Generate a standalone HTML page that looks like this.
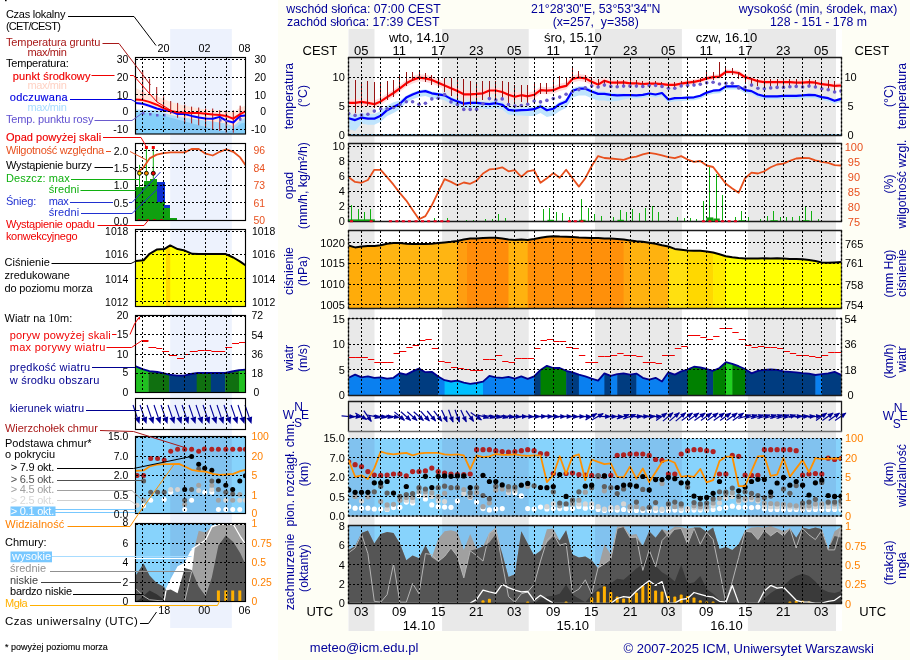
<!DOCTYPE html>
<html><head><meta charset="utf-8"><title>Meteogram</title>
<style>html,body{margin:0;padding:0;background:#fefef5;}svg{display:block;will-change:transform;}</style></head>
<body>
<svg width="910" height="660" viewBox="0 0 910 660" font-family='"Liberation Sans", sans-serif'>
<rect width="910" height="660" fill="#fefef5"/>
<rect x="348" y="29" width="494" height="602" fill="#ffffff"/>
<rect x="0" y="0" width="278" height="660" fill="#ffffff"/>
<rect x="348.5" y="29" width="26" height="602" fill="#e9e9e9"/>
<rect x="442.1" y="29" width="86.6" height="602" fill="#e9e9e9"/>
<rect x="595" y="29" width="86.9" height="602" fill="#e9e9e9"/>
<rect x="747.9" y="29" width="88.1" height="602" fill="#e9e9e9"/>
<rect x="170.2" y="29" width="61.6" height="599" fill="#edf2fd"/>
<rect x="348.5" y="57.5" width="493" height="78" fill="#ffffff"/>
<rect x="348.5" y="57.5" width="26" height="78" fill="#e9e9e9"/>
<rect x="442.1" y="57.5" width="86.6" height="78" fill="#e9e9e9"/>
<rect x="595" y="57.5" width="86.9" height="78" fill="#e9e9e9"/>
<rect x="747.9" y="57.5" width="88.1" height="78" fill="#e9e9e9"/>
<rect x="348.5" y="143.5" width="493" height="78" fill="#ffffff"/>
<rect x="348.5" y="143.5" width="26" height="78" fill="#e9e9e9"/>
<rect x="442.1" y="143.5" width="86.6" height="78" fill="#e9e9e9"/>
<rect x="595" y="143.5" width="86.9" height="78" fill="#e9e9e9"/>
<rect x="747.9" y="143.5" width="88.1" height="78" fill="#e9e9e9"/>
<rect x="348.5" y="230.5" width="493" height="78" fill="#ffffff"/>
<rect x="348.5" y="230.5" width="26" height="78" fill="#e9e9e9"/>
<rect x="442.1" y="230.5" width="86.6" height="78" fill="#e9e9e9"/>
<rect x="595" y="230.5" width="86.9" height="78" fill="#e9e9e9"/>
<rect x="747.9" y="230.5" width="88.1" height="78" fill="#e9e9e9"/>
<rect x="348.5" y="318.5" width="493" height="77" fill="#ffffff"/>
<rect x="348.5" y="318.5" width="26" height="77" fill="#e9e9e9"/>
<rect x="442.1" y="318.5" width="86.6" height="77" fill="#e9e9e9"/>
<rect x="595" y="318.5" width="86.9" height="77" fill="#e9e9e9"/>
<rect x="747.9" y="318.5" width="88.1" height="77" fill="#e9e9e9"/>
<rect x="348.5" y="401.5" width="493" height="30" fill="#ffffff"/>
<rect x="348.5" y="401.5" width="26" height="30" fill="#e9e9e9"/>
<rect x="442.1" y="401.5" width="86.6" height="30" fill="#e9e9e9"/>
<rect x="595" y="401.5" width="86.9" height="30" fill="#e9e9e9"/>
<rect x="747.9" y="401.5" width="88.1" height="30" fill="#e9e9e9"/>
<rect x="348.5" y="438.5" width="493" height="77.5" fill="#87d3fc"/>
<rect x="348.5" y="438.5" width="26" height="77.5" fill="#81c2ef"/>
<rect x="442.1" y="438.5" width="86.6" height="77.5" fill="#81c2ef"/>
<rect x="595" y="438.5" width="86.9" height="77.5" fill="#81c2ef"/>
<rect x="747.9" y="438.5" width="88.1" height="77.5" fill="#81c2ef"/>
<rect x="348.5" y="525.5" width="493" height="78" fill="#87d3fc"/>
<rect x="348.5" y="525.5" width="26" height="78" fill="#81c2ef"/>
<rect x="442.1" y="525.5" width="86.6" height="78" fill="#81c2ef"/>
<rect x="595" y="525.5" width="86.9" height="78" fill="#81c2ef"/>
<rect x="747.9" y="525.5" width="88.1" height="78" fill="#81c2ef"/>
<rect x="135.5" y="57.5" width="110" height="76.5" fill="#ffffff"/>
<rect x="170.2" y="57.5" width="61.6" height="76.5" fill="#edf2fd"/>
<rect x="135.5" y="143.5" width="110" height="77" fill="#ffffff"/>
<rect x="170.2" y="143.5" width="61.6" height="77" fill="#edf2fd"/>
<rect x="135.5" y="229.5" width="110" height="77" fill="#ffffff"/>
<rect x="170.2" y="229.5" width="61.6" height="77" fill="#edf2fd"/>
<rect x="135.5" y="315.5" width="110" height="77" fill="#ffffff"/>
<rect x="170.2" y="315.5" width="61.6" height="77" fill="#edf2fd"/>
<rect x="135.5" y="398.5" width="110" height="31" fill="#ffffff"/>
<rect x="170.2" y="398.5" width="61.6" height="31" fill="#edf2fd"/>
<rect x="135.5" y="436.5" width="110" height="77" fill="#87d3fc"/>
<rect x="170.2" y="436.5" width="61.6" height="77" fill="#81c2ef"/>
<rect x="135.5" y="523.5" width="110" height="78" fill="#87d3fc"/>
<rect x="170.2" y="523.5" width="61.6" height="78" fill="#81c2ef"/>
<clipPath id="cT"><rect x="348.5" y="57.5" width="493" height="78"/></clipPath>
<g clip-path="url(#cT)">
<polygon points="348.7,113.5 355.1,115.4 361.5,113 367.9,114.1 374.3,114.1 380.7,111.1 387.1,105.5 393.5,102.3 399.9,100.5 406.3,95.8 412.6,92.6 419,90.2 425.4,89.2 431.8,91.5 438.2,92.4 444.6,93.5 451,97.1 457.4,99.5 463.8,101.7 470.2,101 476.6,100.8 483,101.4 489.4,101.7 495.8,100.6 502.2,102.1 508.5,107.2 514.9,108.1 521.3,107.6 527.7,107.2 534.1,106.7 540.5,103.9 546.9,107.6 553.3,106.3 559.7,101.7 566.1,98.9 572.5,88.2 578.9,86.2 585.3,86.2 591.7,89 598.1,91.5 604.4,91.5 610.8,92.4 617.2,93.3 623.6,93.5 630,93.9 636.4,94.1 642.8,93.5 649.2,92.2 655.6,93.2 662,91.7 668.4,98.2 674.8,96.9 681.2,96.7 687.6,96.3 694,96 700.3,94.5 706.7,91.3 713.1,89.4 719.5,88.9 725.9,85.1 732.3,85.1 738.7,85.1 745.1,88.9 751.5,89.8 757.9,93.2 764.3,95 770.7,95 777.1,95 783.5,94.5 789.9,94.5 796.2,94.5 802.6,94.1 809,93.5 815.4,93.9 821.8,95.8 828.2,96.9 834.6,99.5 841,97.6 841,101.9 834.6,103.8 828.2,101.2 821.8,100.1 815.4,98.2 809,97.8 802.6,98.4 796.2,98.8 789.9,98.8 783.5,98.8 777.1,99.3 770.7,99.3 764.3,99.3 757.9,97.5 751.5,94.1 745.1,93.2 738.7,89.4 732.3,89.4 725.9,89.4 719.5,93.2 713.1,93.7 706.7,95.6 700.3,98.8 694,100.3 687.6,100.6 681.2,101 674.8,101.2 668.4,102.5 662,96 655.6,97.5 649.2,96.5 642.8,97.8 636.4,98.4 630,98.2 623.6,99.4 617.2,100.9 610.8,101.6 604.4,100.6 598.1,100.6 591.7,98.2 585.3,95.4 578.9,95.4 572.5,97.5 566.1,108.1 559.7,110.9 553.3,115.6 546.9,116.9 540.5,113.1 534.1,115.9 527.7,115.9 521.3,115.6 514.9,115.6 508.5,114.6 502.2,109.6 495.8,108.1 489.4,109 483,108.5 476.6,107.7 470.2,107.7 463.8,108.5 457.4,106.2 451,103.8 444.6,100.3 438.2,99.1 431.8,98.2 425.4,96 419,96.9 412.6,99.3 406.3,102.5 399.9,109.2 393.5,113 387.1,116.1 380.7,121.7 374.3,124.7 367.9,124.7 361.5,123.6 355.1,130.9 348.7,129" fill="#bfe4fd"/>
<polygon points="348.7,99.3 355.1,99.3 361.5,98.4 367.9,99.3 374.3,100.6 380.7,97.8 387.1,93.5 393.5,89.4 399.9,84.7 406.3,79.7 412.6,76.3 419,74.1 425.4,74.8 431.8,76.3 438.2,79.1 444.6,81.9 451,84.7 457.4,87.5 463.8,90.7 470.2,90.7 476.6,90.4 483,89.8 489.4,87 495.8,87 502.2,88.5 508.5,91.3 514.9,93.2 521.3,91.7 527.7,92.8 534.1,91.3 540.5,86.6 546.9,87.2 553.3,86.6 559.7,83.8 566.1,82.3 572.5,75.4 578.9,73.9 585.3,74.8 591.7,78.2 598.1,81 604.4,77.3 610.8,80.3 617.2,80.3 623.6,79.9 630,80.8 636.4,80.8 642.8,81.6 649.2,81.2 655.6,81.2 662,81.8 668.4,82.5 674.8,82.5 681.2,81.2 687.6,80.3 694,79.3 700.3,78 706.7,76 713.1,74.7 719.5,74.1 725.9,69.4 732.3,69.6 738.7,70.5 745.1,74.7 751.5,76.5 757.9,78.8 764.3,79.7 770.7,79.7 777.1,79.7 783.5,79.7 789.9,79.7 796.2,80.3 802.6,80.3 809,79.7 815.4,80.3 821.8,81.8 828.2,82.5 834.6,83.4 841,83.1 841,87.9 834.6,88.3 828.2,87.4 821.8,86.6 815.4,85.1 809,84.6 802.6,85.1 796.2,85.1 789.9,84.6 783.5,84.6 777.1,84.6 770.7,84.6 764.3,84.6 757.9,83.6 751.5,81.4 745.1,79.5 738.7,75.4 732.3,74.5 725.9,74.3 719.5,79 713.1,79.5 706.7,80.8 700.3,82.9 694,84.2 687.6,85.1 681.2,86.1 674.8,87.4 668.4,87.4 662,86.6 655.6,86.1 649.2,86.1 642.8,86.4 636.4,85.7 630,85.7 623.6,84.7 617.2,85.1 610.8,85.1 604.4,84.4 598.1,88.1 591.7,85.3 585.3,81.9 578.9,81 572.5,82.5 566.1,89.4 559.7,90.9 553.3,93.7 546.9,94.3 540.5,93.7 534.1,98.4 527.7,99.9 521.3,98.8 514.9,100.3 508.5,98.4 502.2,95.6 495.8,94.1 489.4,94.1 483,96.9 476.6,97.5 470.2,97.8 463.8,97.8 457.4,94.6 451,91.8 444.6,89 438.2,86.2 431.8,83.4 425.4,81.9 419,81.2 412.6,83.4 406.3,86.8 399.9,91.8 393.5,96.5 387.1,100.6 380.7,104.9 374.3,107.7 367.9,106.4 361.5,105.5 355.1,106.4 348.7,106.4" fill="#ffdcdc"/>
<polyline points="348.7,102.9 355.1,102.9 361.5,101.9 367.9,102.9 374.3,104.2 380.7,101.4 387.1,97.1 393.5,93 399.9,88.3 406.3,83.3 412.6,79.9 419,77.6 425.4,78.4 431.8,79.9 438.2,82.7 444.6,85.5 451,88.3 457.4,91.1 463.8,94.3 470.2,94.3 476.6,93.9 483,93.3 489.4,90.5 495.8,90.5 502.2,92 508.5,94.8 514.9,96.7 521.3,95.2 527.7,96.3 534.1,94.8 540.5,90.2 546.9,90.7 553.3,90.2 559.7,87.4 566.1,85.9 572.5,79 578.9,77.5 585.3,78.4 591.7,81.8 598.1,84.6 604.4,80.8 610.8,82.7 617.2,82.7 623.6,82.3 630,83.3 636.4,83.3 642.8,84 649.2,83.6 655.6,83.6 662,84.2 668.4,84.9 674.8,84.9 681.2,83.6 687.6,82.7 694,81.8 700.3,80.5 706.7,78.4 713.1,77.1 719.5,76.5 725.9,71.9 732.3,72 738.7,73 745.1,77.1 751.5,79 757.9,81.2 764.3,82.1 770.7,82.1 777.1,82.1 783.5,82.1 789.9,82.1 796.2,82.7 802.6,82.7 809,82.1 815.4,82.7 821.8,84.2 828.2,84.9 834.6,85.9 841,85.5" fill="none" stroke="#ff0000" stroke-width="2.2" stroke-linejoin="round"/>
<polyline points="348.7,118.2 355.1,120.1 361.5,117.6 367.9,118.7 374.3,118.7 380.7,115.8 387.1,110.2 393.5,107 399.9,103.8 406.3,97.6 412.6,94.5 419,92 425.4,91.1 431.8,93.3 438.2,94.3 444.6,95.4 451,98.9 457.4,101.4 463.8,103.6 470.2,102.9 476.6,102.9 483,103.6 489.4,104.2 495.8,103.2 502.2,104.7 508.5,109.8 514.9,110.7 521.3,110.2 527.7,109.8 534.1,109.2 540.5,106.4 546.9,110.2 553.3,108.8 559.7,104.2 566.1,101.4 572.5,90.7 578.9,88.7 585.3,88.7 591.7,91.5 598.1,93.9 604.4,93.9 610.8,94.8 617.2,95.4 623.6,95.2 630,95.2 636.4,95.4 642.8,94.8 649.2,93.5 655.6,94.5 662,93 668.4,99.5 674.8,98.2 681.2,98 687.6,97.6 694,97.3 700.3,95.8 706.7,92.6 713.1,90.7 719.5,90.2 725.9,86.4 732.3,86.4 738.7,86.4 745.1,90.2 751.5,91.1 757.9,94.5 764.3,96.3 770.7,96.3 777.1,96.3 783.5,95.8 789.9,95.8 796.2,95.8 802.6,95.4 809,94.8 815.4,95.2 821.8,97.1 828.2,98.2 834.6,100.8 841,98.9" fill="none" stroke="#0000ff" stroke-width="2.2" stroke-linejoin="round"/>
<line x1="348.5" y1="79.9" x2="348.5" y2="111.6" stroke="#981212" stroke-width="1" shape-rendering="crispEdges"/>
<line x1="355.5" y1="80.3" x2="355.5" y2="112.6" stroke="#981212" stroke-width="1" shape-rendering="crispEdges"/>
<line x1="361.5" y1="82.1" x2="361.5" y2="106" stroke="#981212" stroke-width="1" shape-rendering="crispEdges"/>
<line x1="367.5" y1="81.4" x2="367.5" y2="106" stroke="#981212" stroke-width="1" shape-rendering="crispEdges"/>
<line x1="374.5" y1="82.1" x2="374.5" y2="107.9" stroke="#981212" stroke-width="1" shape-rendering="crispEdges"/>
<line x1="380.5" y1="81.8" x2="380.5" y2="104.2" stroke="#981212" stroke-width="1" shape-rendering="crispEdges"/>
<line x1="387.5" y1="81.4" x2="387.5" y2="100.4" stroke="#981212" stroke-width="1" shape-rendering="crispEdges"/>
<line x1="393.5" y1="80.3" x2="393.5" y2="96.7" stroke="#981212" stroke-width="1" shape-rendering="crispEdges"/>
<line x1="399.5" y1="76.2" x2="399.5" y2="92" stroke="#981212" stroke-width="1" shape-rendering="crispEdges"/>
<line x1="406.5" y1="71.5" x2="406.5" y2="86.4" stroke="#981212" stroke-width="1" shape-rendering="crispEdges"/>
<line x1="412.5" y1="71.5" x2="412.5" y2="80.8" stroke="#981212" stroke-width="1" shape-rendering="crispEdges"/>
<line x1="419.5" y1="69.6" x2="419.5" y2="77.6" stroke="#981212" stroke-width="1" shape-rendering="crispEdges"/>
<line x1="425.5" y1="73.4" x2="425.5" y2="82.1" stroke="#981212" stroke-width="1" shape-rendering="crispEdges"/>
<line x1="431.5" y1="75.2" x2="431.5" y2="84.6" stroke="#981212" stroke-width="1" shape-rendering="crispEdges"/>
<line x1="438.5" y1="76.5" x2="438.5" y2="88.3" stroke="#981212" stroke-width="1" shape-rendering="crispEdges"/>
<line x1="444.5" y1="77.6" x2="444.5" y2="92" stroke="#981212" stroke-width="1" shape-rendering="crispEdges"/>
<line x1="451.5" y1="78" x2="451.5" y2="95.8" stroke="#981212" stroke-width="1" shape-rendering="crispEdges"/>
<line x1="457.5" y1="78.4" x2="457.5" y2="100.4" stroke="#981212" stroke-width="1" shape-rendering="crispEdges"/>
<line x1="463.5" y1="79" x2="463.5" y2="106" stroke="#981212" stroke-width="1" shape-rendering="crispEdges"/>
<line x1="470.5" y1="81.4" x2="470.5" y2="105.1" stroke="#981212" stroke-width="1" shape-rendering="crispEdges"/>
<line x1="476.5" y1="81.8" x2="476.5" y2="104.2" stroke="#981212" stroke-width="1" shape-rendering="crispEdges"/>
<line x1="482.5" y1="81.4" x2="482.5" y2="100.4" stroke="#981212" stroke-width="1" shape-rendering="crispEdges"/>
<line x1="489.5" y1="81.4" x2="489.5" y2="99.5" stroke="#981212" stroke-width="1" shape-rendering="crispEdges"/>
<line x1="495.5" y1="81.4" x2="495.5" y2="100.1" stroke="#981212" stroke-width="1" shape-rendering="crispEdges"/>
<line x1="502.5" y1="81.4" x2="502.5" y2="100.4" stroke="#981212" stroke-width="1" shape-rendering="crispEdges"/>
<line x1="508.5" y1="82.1" x2="508.5" y2="106" stroke="#981212" stroke-width="1" shape-rendering="crispEdges"/>
<line x1="514.5" y1="84.6" x2="514.5" y2="103.2" stroke="#981212" stroke-width="1" shape-rendering="crispEdges"/>
<line x1="521.5" y1="84.6" x2="521.5" y2="102.3" stroke="#981212" stroke-width="1" shape-rendering="crispEdges"/>
<line x1="527.5" y1="84.6" x2="527.5" y2="104.2" stroke="#981212" stroke-width="1" shape-rendering="crispEdges"/>
<line x1="534.5" y1="83.6" x2="534.5" y2="98.6" stroke="#981212" stroke-width="1" shape-rendering="crispEdges"/>
<line x1="540.5" y1="82.7" x2="540.5" y2="93.9" stroke="#981212" stroke-width="1" shape-rendering="crispEdges"/>
<line x1="546.5" y1="82.7" x2="546.5" y2="93.9" stroke="#981212" stroke-width="1" shape-rendering="crispEdges"/>
<line x1="553.5" y1="79.9" x2="553.5" y2="91.1" stroke="#981212" stroke-width="1" shape-rendering="crispEdges"/>
<line x1="559.5" y1="76.2" x2="559.5" y2="87.4" stroke="#981212" stroke-width="1" shape-rendering="crispEdges"/>
<line x1="566.5" y1="78" x2="566.5" y2="86.4" stroke="#981212" stroke-width="1" shape-rendering="crispEdges"/>
<line x1="572.5" y1="67.7" x2="572.5" y2="79.9" stroke="#981212" stroke-width="1" shape-rendering="crispEdges"/>
<line x1="578.5" y1="70.5" x2="578.5" y2="78" stroke="#981212" stroke-width="1" shape-rendering="crispEdges"/>
<line x1="585.5" y1="75.2" x2="585.5" y2="82.1" stroke="#981212" stroke-width="1" shape-rendering="crispEdges"/>
<line x1="591.5" y1="77.1" x2="591.5" y2="84.6" stroke="#981212" stroke-width="1" shape-rendering="crispEdges"/>
<line x1="598.5" y1="79" x2="598.5" y2="87.4" stroke="#981212" stroke-width="1" shape-rendering="crispEdges"/>
<line x1="604.5" y1="79.9" x2="604.5" y2="86.4" stroke="#981212" stroke-width="1" shape-rendering="crispEdges"/>
<line x1="610.5" y1="79.9" x2="610.5" y2="87.4" stroke="#981212" stroke-width="1" shape-rendering="crispEdges"/>
<line x1="617.5" y1="80.3" x2="617.5" y2="88.3" stroke="#981212" stroke-width="1" shape-rendering="crispEdges"/>
<line x1="623.5" y1="79.9" x2="623.5" y2="87.4" stroke="#981212" stroke-width="1" shape-rendering="crispEdges"/>
<line x1="630.5" y1="79.9" x2="630.5" y2="87.4" stroke="#981212" stroke-width="1" shape-rendering="crispEdges"/>
<line x1="636.5" y1="79.9" x2="636.5" y2="87.4" stroke="#981212" stroke-width="1" shape-rendering="crispEdges"/>
<line x1="642.5" y1="80.8" x2="642.5" y2="88.3" stroke="#981212" stroke-width="1" shape-rendering="crispEdges"/>
<line x1="649.5" y1="80.8" x2="649.5" y2="87.7" stroke="#981212" stroke-width="1" shape-rendering="crispEdges"/>
<line x1="655.5" y1="80.8" x2="655.5" y2="87.4" stroke="#981212" stroke-width="1" shape-rendering="crispEdges"/>
<line x1="661.5" y1="81.8" x2="661.5" y2="88.3" stroke="#981212" stroke-width="1" shape-rendering="crispEdges"/>
<line x1="668.5" y1="81.8" x2="668.5" y2="88.3" stroke="#981212" stroke-width="1" shape-rendering="crispEdges"/>
<line x1="674.5" y1="81.8" x2="674.5" y2="88.3" stroke="#981212" stroke-width="1" shape-rendering="crispEdges"/>
<line x1="681.5" y1="80.8" x2="681.5" y2="86.4" stroke="#981212" stroke-width="1" shape-rendering="crispEdges"/>
<line x1="687.5" y1="80.3" x2="687.5" y2="85.5" stroke="#981212" stroke-width="1" shape-rendering="crispEdges"/>
<line x1="693.5" y1="79.9" x2="693.5" y2="84.6" stroke="#981212" stroke-width="1" shape-rendering="crispEdges"/>
<line x1="700.5" y1="78" x2="700.5" y2="81.8" stroke="#981212" stroke-width="1" shape-rendering="crispEdges"/>
<line x1="706.5" y1="72.4" x2="706.5" y2="79" stroke="#981212" stroke-width="1" shape-rendering="crispEdges"/>
<line x1="713.5" y1="72.4" x2="713.5" y2="79.9" stroke="#981212" stroke-width="1" shape-rendering="crispEdges"/>
<line x1="719.5" y1="62.1" x2="719.5" y2="78" stroke="#981212" stroke-width="1" shape-rendering="crispEdges"/>
<line x1="725.5" y1="66.8" x2="725.5" y2="74.3" stroke="#981212" stroke-width="1" shape-rendering="crispEdges"/>
<line x1="732.5" y1="67.7" x2="732.5" y2="75.2" stroke="#981212" stroke-width="1" shape-rendering="crispEdges"/>
<line x1="738.5" y1="71.5" x2="738.5" y2="79" stroke="#981212" stroke-width="1" shape-rendering="crispEdges"/>
<line x1="745.5" y1="75.2" x2="745.5" y2="81.8" stroke="#981212" stroke-width="1" shape-rendering="crispEdges"/>
<line x1="751.5" y1="78" x2="751.5" y2="84.6" stroke="#981212" stroke-width="1" shape-rendering="crispEdges"/>
<line x1="757.5" y1="79" x2="757.5" y2="85.5" stroke="#981212" stroke-width="1" shape-rendering="crispEdges"/>
<line x1="764.5" y1="79" x2="764.5" y2="85.9" stroke="#981212" stroke-width="1" shape-rendering="crispEdges"/>
<line x1="770.5" y1="79" x2="770.5" y2="86.4" stroke="#981212" stroke-width="1" shape-rendering="crispEdges"/>
<line x1="777.5" y1="79" x2="777.5" y2="86.4" stroke="#981212" stroke-width="1" shape-rendering="crispEdges"/>
<line x1="783.5" y1="79" x2="783.5" y2="86.4" stroke="#981212" stroke-width="1" shape-rendering="crispEdges"/>
<line x1="789.5" y1="79" x2="789.5" y2="86.4" stroke="#981212" stroke-width="1" shape-rendering="crispEdges"/>
<line x1="796.5" y1="79" x2="796.5" y2="86.4" stroke="#981212" stroke-width="1" shape-rendering="crispEdges"/>
<line x1="802.5" y1="79" x2="802.5" y2="86.4" stroke="#981212" stroke-width="1" shape-rendering="crispEdges"/>
<line x1="809.5" y1="79" x2="809.5" y2="86.4" stroke="#981212" stroke-width="1" shape-rendering="crispEdges"/>
<line x1="815.5" y1="79.9" x2="815.5" y2="86.4" stroke="#981212" stroke-width="1" shape-rendering="crispEdges"/>
<line x1="821.5" y1="79.9" x2="821.5" y2="89.2" stroke="#981212" stroke-width="1" shape-rendering="crispEdges"/>
<line x1="828.5" y1="79.9" x2="828.5" y2="91.1" stroke="#981212" stroke-width="1" shape-rendering="crispEdges"/>
<line x1="834.5" y1="80.8" x2="834.5" y2="92" stroke="#981212" stroke-width="1" shape-rendering="crispEdges"/>
<circle cx="348.7" cy="113.5" r="1.8" fill="#6a5acd"/>
<circle cx="355.1" cy="115.4" r="1.8" fill="#6a5acd"/>
<circle cx="361.5" cy="115" r="1.8" fill="#6a5acd"/>
<circle cx="367.9" cy="114.3" r="1.8" fill="#6a5acd"/>
<circle cx="374.3" cy="111.1" r="1.8" fill="#6a5acd"/>
<circle cx="380.7" cy="108.8" r="1.8" fill="#6a5acd"/>
<circle cx="387.1" cy="108.8" r="1.8" fill="#6a5acd"/>
<circle cx="393.5" cy="107.4" r="1.8" fill="#6a5acd"/>
<circle cx="399.9" cy="104.5" r="1.8" fill="#6a5acd"/>
<circle cx="406.3" cy="101.7" r="1.8" fill="#6a5acd"/>
<circle cx="412.6" cy="101.7" r="1.8" fill="#6a5acd"/>
<circle cx="419" cy="104.2" r="1.8" fill="#6a5acd"/>
<circle cx="425.4" cy="103.2" r="1.8" fill="#6a5acd"/>
<circle cx="431.8" cy="98.9" r="1.8" fill="#6a5acd"/>
<circle cx="438.2" cy="98.2" r="1.8" fill="#6a5acd"/>
<circle cx="444.6" cy="94.5" r="1.8" fill="#6a5acd"/>
<circle cx="451" cy="101.9" r="1.8" fill="#6a5acd"/>
<circle cx="457.4" cy="104.5" r="1.8" fill="#6a5acd"/>
<circle cx="463.8" cy="109.4" r="1.8" fill="#6a5acd"/>
<circle cx="470.2" cy="109.4" r="1.8" fill="#6a5acd"/>
<circle cx="476.6" cy="109.4" r="1.8" fill="#6a5acd"/>
<circle cx="483" cy="103.8" r="1.8" fill="#6a5acd"/>
<circle cx="489.4" cy="98.6" r="1.8" fill="#6a5acd"/>
<circle cx="495.8" cy="100.1" r="1.8" fill="#6a5acd"/>
<circle cx="502.2" cy="98.9" r="1.8" fill="#6a5acd"/>
<circle cx="508.5" cy="104.5" r="1.8" fill="#6a5acd"/>
<circle cx="514.9" cy="106" r="1.8" fill="#6a5acd"/>
<circle cx="521.3" cy="105.5" r="1.8" fill="#6a5acd"/>
<circle cx="527.7" cy="104.2" r="1.8" fill="#6a5acd"/>
<circle cx="534.1" cy="101" r="1.8" fill="#6a5acd"/>
<circle cx="540.5" cy="101.9" r="1.8" fill="#6a5acd"/>
<circle cx="546.9" cy="100.4" r="1.8" fill="#6a5acd"/>
<circle cx="553.3" cy="98.6" r="1.8" fill="#6a5acd"/>
<circle cx="559.7" cy="97.1" r="1.8" fill="#6a5acd"/>
<circle cx="566.1" cy="94.3" r="1.8" fill="#6a5acd"/>
<circle cx="572.5" cy="91.5" r="1.8" fill="#6a5acd"/>
<circle cx="578.9" cy="89.6" r="1.8" fill="#6a5acd"/>
<circle cx="585.3" cy="87.9" r="1.8" fill="#6a5acd"/>
<circle cx="591.7" cy="86.1" r="1.8" fill="#6a5acd"/>
<circle cx="598.1" cy="87" r="1.8" fill="#6a5acd"/>
<circle cx="604.4" cy="85.1" r="1.8" fill="#6a5acd"/>
<circle cx="610.8" cy="86.4" r="1.8" fill="#6a5acd"/>
<circle cx="617.2" cy="86.8" r="1.8" fill="#6a5acd"/>
<circle cx="623.6" cy="86.1" r="1.8" fill="#6a5acd"/>
<circle cx="630" cy="86.1" r="1.8" fill="#6a5acd"/>
<circle cx="636.4" cy="86.1" r="1.8" fill="#6a5acd"/>
<circle cx="642.8" cy="86.4" r="1.8" fill="#6a5acd"/>
<circle cx="649.2" cy="85.5" r="1.8" fill="#6a5acd"/>
<circle cx="655.6" cy="85.5" r="1.8" fill="#6a5acd"/>
<circle cx="662" cy="86.4" r="1.8" fill="#6a5acd"/>
<circle cx="668.4" cy="88.3" r="1.8" fill="#6a5acd"/>
<circle cx="674.8" cy="88.3" r="1.8" fill="#6a5acd"/>
<circle cx="681.2" cy="85.9" r="1.8" fill="#6a5acd"/>
<circle cx="687.6" cy="85.5" r="1.8" fill="#6a5acd"/>
<circle cx="694" cy="85.1" r="1.8" fill="#6a5acd"/>
<circle cx="700.3" cy="84.2" r="1.8" fill="#6a5acd"/>
<circle cx="706.7" cy="82.7" r="1.8" fill="#6a5acd"/>
<circle cx="713.1" cy="82.3" r="1.8" fill="#6a5acd"/>
<circle cx="719.5" cy="84" r="1.8" fill="#6a5acd"/>
<circle cx="725.9" cy="83.3" r="1.8" fill="#6a5acd"/>
<circle cx="732.3" cy="83.3" r="1.8" fill="#6a5acd"/>
<circle cx="738.7" cy="87.9" r="1.8" fill="#6a5acd"/>
<circle cx="745.1" cy="87.4" r="1.8" fill="#6a5acd"/>
<circle cx="751.5" cy="85.1" r="1.8" fill="#6a5acd"/>
<circle cx="757.9" cy="88.3" r="1.8" fill="#6a5acd"/>
<circle cx="764.3" cy="88.7" r="1.8" fill="#6a5acd"/>
<circle cx="770.7" cy="87.9" r="1.8" fill="#6a5acd"/>
<circle cx="777.1" cy="87.4" r="1.8" fill="#6a5acd"/>
<circle cx="783.5" cy="87.4" r="1.8" fill="#6a5acd"/>
<circle cx="789.9" cy="86.8" r="1.8" fill="#6a5acd"/>
<circle cx="796.2" cy="86.4" r="1.8" fill="#6a5acd"/>
<circle cx="802.6" cy="87" r="1.8" fill="#6a5acd"/>
<circle cx="809" cy="86.1" r="1.8" fill="#6a5acd"/>
<circle cx="815.4" cy="87" r="1.8" fill="#6a5acd"/>
<circle cx="821.8" cy="88.7" r="1.8" fill="#6a5acd"/>
<circle cx="828.2" cy="89.8" r="1.8" fill="#6a5acd"/>
<circle cx="834.6" cy="92" r="1.8" fill="#6a5acd"/>
<circle cx="841" cy="91.1" r="1.8" fill="#6a5acd"/>
</g>
<clipPath id="cP"><rect x="348.5" y="143.5" width="493" height="78"/></clipPath>
<g clip-path="url(#cP)">
<line x1="351.5" y1="205.3" x2="351.5" y2="221" stroke="#10b010" stroke-width="1" shape-rendering="crispEdges"/>
<line x1="358.5" y1="209.4" x2="358.5" y2="221" stroke="#10b010" stroke-width="1" shape-rendering="crispEdges"/>
<line x1="364.5" y1="212.4" x2="364.5" y2="221" stroke="#10b010" stroke-width="1" shape-rendering="crispEdges"/>
<line x1="370.5" y1="208.6" x2="370.5" y2="221" stroke="#10b010" stroke-width="1" shape-rendering="crispEdges"/>
<line x1="434.5" y1="218.3" x2="434.5" y2="221" stroke="#10b010" stroke-width="1" shape-rendering="crispEdges"/>
<line x1="447.5" y1="218" x2="447.5" y2="221" stroke="#10b010" stroke-width="1" shape-rendering="crispEdges"/>
<line x1="466.5" y1="219.8" x2="466.5" y2="221" stroke="#10b010" stroke-width="1" shape-rendering="crispEdges"/>
<line x1="473.5" y1="219.8" x2="473.5" y2="221" stroke="#10b010" stroke-width="1" shape-rendering="crispEdges"/>
<line x1="485.5" y1="219.3" x2="485.5" y2="221" stroke="#10b010" stroke-width="1" shape-rendering="crispEdges"/>
<line x1="492.5" y1="219.3" x2="492.5" y2="221" stroke="#10b010" stroke-width="1" shape-rendering="crispEdges"/>
<line x1="498.5" y1="214.2" x2="498.5" y2="221" stroke="#10b010" stroke-width="1" shape-rendering="crispEdges"/>
<line x1="505.5" y1="218.3" x2="505.5" y2="221" stroke="#10b010" stroke-width="1" shape-rendering="crispEdges"/>
<line x1="543.5" y1="209.4" x2="543.5" y2="221" stroke="#10b010" stroke-width="1" shape-rendering="crispEdges"/>
<line x1="549.5" y1="208.1" x2="549.5" y2="221" stroke="#10b010" stroke-width="1" shape-rendering="crispEdges"/>
<line x1="556.5" y1="212.2" x2="556.5" y2="221" stroke="#10b010" stroke-width="1" shape-rendering="crispEdges"/>
<line x1="562.5" y1="213.3" x2="562.5" y2="221" stroke="#10b010" stroke-width="1" shape-rendering="crispEdges"/>
<line x1="569.5" y1="216.5" x2="569.5" y2="221" stroke="#10b010" stroke-width="1" shape-rendering="crispEdges"/>
<line x1="581.5" y1="199.3" x2="581.5" y2="221" stroke="#10b010" stroke-width="1" shape-rendering="crispEdges"/>
<line x1="588.5" y1="208.4" x2="588.5" y2="221" stroke="#10b010" stroke-width="1" shape-rendering="crispEdges"/>
<line x1="594.5" y1="214.2" x2="594.5" y2="221" stroke="#10b010" stroke-width="1" shape-rendering="crispEdges"/>
<line x1="601.5" y1="216.1" x2="601.5" y2="221" stroke="#10b010" stroke-width="1" shape-rendering="crispEdges"/>
<line x1="613.5" y1="217.4" x2="613.5" y2="221" stroke="#10b010" stroke-width="1" shape-rendering="crispEdges"/>
<line x1="620.5" y1="210.3" x2="620.5" y2="221" stroke="#10b010" stroke-width="1" shape-rendering="crispEdges"/>
<line x1="626.5" y1="212.2" x2="626.5" y2="221" stroke="#10b010" stroke-width="1" shape-rendering="crispEdges"/>
<line x1="632.5" y1="209.4" x2="632.5" y2="221" stroke="#10b010" stroke-width="1" shape-rendering="crispEdges"/>
<line x1="639.5" y1="213.3" x2="639.5" y2="221" stroke="#10b010" stroke-width="1" shape-rendering="crispEdges"/>
<line x1="645.5" y1="208.4" x2="645.5" y2="221" stroke="#10b010" stroke-width="1" shape-rendering="crispEdges"/>
<line x1="652.5" y1="205.6" x2="652.5" y2="221" stroke="#10b010" stroke-width="1" shape-rendering="crispEdges"/>
<line x1="658.5" y1="212.4" x2="658.5" y2="221" stroke="#10b010" stroke-width="1" shape-rendering="crispEdges"/>
<line x1="677.5" y1="216.5" x2="677.5" y2="221" stroke="#10b010" stroke-width="1" shape-rendering="crispEdges"/>
<line x1="677.5" y1="216.5" x2="677.5" y2="221" stroke="#10b010" stroke-width="1" shape-rendering="crispEdges"/>
<line x1="684.5" y1="218.3" x2="684.5" y2="221" stroke="#10b010" stroke-width="1" shape-rendering="crispEdges"/>
<line x1="690.5" y1="218.3" x2="690.5" y2="221" stroke="#10b010" stroke-width="1" shape-rendering="crispEdges"/>
<line x1="696.5" y1="219.3" x2="696.5" y2="221" stroke="#10b010" stroke-width="1" shape-rendering="crispEdges"/>
<line x1="703.5" y1="200.6" x2="703.5" y2="221" stroke="#10b010" stroke-width="1" shape-rendering="crispEdges"/>
<line x1="709.5" y1="167" x2="709.5" y2="221" stroke="#10b010" stroke-width="1" shape-rendering="crispEdges"/>
<line x1="716.5" y1="173.5" x2="716.5" y2="221" stroke="#10b010" stroke-width="1" shape-rendering="crispEdges"/>
<line x1="722.5" y1="195.4" x2="722.5" y2="221" stroke="#10b010" stroke-width="1" shape-rendering="crispEdges"/>
<line x1="735.5" y1="217.4" x2="735.5" y2="221" stroke="#10b010" stroke-width="1" shape-rendering="crispEdges"/>
<line x1="741.5" y1="210.9" x2="741.5" y2="221" stroke="#10b010" stroke-width="1" shape-rendering="crispEdges"/>
<line x1="748.5" y1="217.4" x2="748.5" y2="221" stroke="#10b010" stroke-width="1" shape-rendering="crispEdges"/>
<line x1="760.5" y1="219.3" x2="760.5" y2="221" stroke="#10b010" stroke-width="1" shape-rendering="crispEdges"/>
<line x1="767.5" y1="215.5" x2="767.5" y2="221" stroke="#10b010" stroke-width="1" shape-rendering="crispEdges"/>
<line x1="773.5" y1="211.4" x2="773.5" y2="221" stroke="#10b010" stroke-width="1" shape-rendering="crispEdges"/>
<line x1="780.5" y1="217.4" x2="780.5" y2="221" stroke="#10b010" stroke-width="1" shape-rendering="crispEdges"/>
<line x1="786.5" y1="217.4" x2="786.5" y2="221" stroke="#10b010" stroke-width="1" shape-rendering="crispEdges"/>
<line x1="792.5" y1="217.4" x2="792.5" y2="221" stroke="#10b010" stroke-width="1" shape-rendering="crispEdges"/>
<line x1="799.5" y1="215.5" x2="799.5" y2="221" stroke="#10b010" stroke-width="1" shape-rendering="crispEdges"/>
<line x1="805.5" y1="207.1" x2="805.5" y2="221" stroke="#10b010" stroke-width="1" shape-rendering="crispEdges"/>
<line x1="811.5" y1="211.4" x2="811.5" y2="221" stroke="#10b010" stroke-width="1" shape-rendering="crispEdges"/>
<line x1="818.5" y1="219.3" x2="818.5" y2="221" stroke="#10b010" stroke-width="1" shape-rendering="crispEdges"/>
<polyline points="348.7,177.2 355.1,181.9 361.5,182.8 367.9,180 374.3,169.8 380.7,169.8 387.1,177.2 393.5,184.7 399.9,193.1 406.3,200.6 412.6,209.9 419,219.3 425.4,216.1 431.8,205.3 438.2,192.2 444.6,179.1 451,181.9 457.4,185.3 463.8,182.5 470.2,183.8 476.6,180.6 483,173.5 489.4,169.4 495.8,168.8 502.2,167.3 508.5,171.3 514.9,170.1 521.3,176.9 527.7,171.3 534.1,170.1 540.5,182.8 546.9,178.2 553.3,173.1 559.7,177.8 566.1,169.8 572.5,178.2 578.9,186.6 585.3,178.2 591.7,166 598.1,156.1 604.4,158 610.8,158.5 617.2,159.1 623.6,159.9 630,157.6 636.4,156.7 642.8,154.3 649.2,152.9 655.6,153.9 662,155.4 668.4,157.2 674.8,158.2 681.2,156.1 687.6,159.5 694,161.9 700.3,161 706.7,165.5 713.1,167 719.5,175.4 725.9,183.8 732.3,188.4 738.7,192.7 745.1,178.2 751.5,172.6 757.9,173.5 764.3,171.3 770.7,167.3 777.1,164.5 783.5,163.6 789.9,160.8 796.2,158.5 802.6,158 809,158.2 815.4,160.4 821.8,161.9 828.2,162.8 834.6,165.1 841,165.5" fill="none" stroke="#e8501e" stroke-width="1.8" stroke-linejoin="round"/>
</g>
<clipPath id="cR"><rect x="348.5" y="230.5" width="493" height="78"/></clipPath>
<g clip-path="url(#cR)">
<clipPath id="cRa"><polygon points="348.5,245.5 355.1,247.4 361.5,246.5 367.9,246.1 374.3,245.9 380.7,245.2 387.1,243.7 393.5,243.1 399.9,243.1 406.3,243.7 412.6,244.1 419,244.1 425.4,244.1 431.8,243.7 438.2,243.1 444.6,242.4 451,241.8 457.4,240.9 463.8,239.6 470.2,238.6 476.6,238.6 483,238.1 489.4,237.7 495.8,237.7 502.2,238.6 508.5,239.6 514.9,239.9 521.3,239.6 527.7,239.9 534.1,239 540.5,237.7 546.9,236.8 553.3,236.2 559.7,236.6 566.1,236.8 572.5,237.1 578.9,237.5 585.3,237.7 591.7,238.1 598.1,238.1 604.4,238.5 610.8,238.6 617.2,239 623.6,239.6 630,240.5 636.4,241.3 642.8,241.8 649.2,242.7 655.6,243.7 662,245.2 668.4,246.5 674.8,248.9 681.2,249.7 687.6,250.6 694,250.8 700.3,250.8 706.7,251.5 713.1,252.5 719.5,254.3 725.9,256.2 732.3,257.3 738.7,258.1 745.1,258.6 751.5,258.6 757.9,258.6 764.3,258.3 770.7,258.6 777.1,258.3 783.5,258.6 789.9,259 796.2,259 802.6,259.2 809,260.1 815.4,261.1 821.8,262.4 828.2,262.7 834.6,262.4 841.5,262 841.5,309 348.5,309"/></clipPath>
<g clip-path="url(#cRa)">
<rect x="348.7" y="230" width="32.5" height="80" fill="#ffac0a"/>
<rect x="380.7" y="230" width="77.2" height="80" fill="#ffb512"/>
<rect x="457.4" y="230" width="10.1" height="80" fill="#ff9e10"/>
<rect x="467" y="230" width="42.1" height="80" fill="#ff8c0a"/>
<rect x="508.5" y="230" width="19.7" height="80" fill="#ffb20f"/>
<rect x="527.7" y="230" width="96.4" height="80" fill="#ff900a"/>
<rect x="623.6" y="230" width="6.9" height="80" fill="#ffa510"/>
<rect x="630" y="230" width="38.9" height="80" fill="#ffb20f"/>
<rect x="668.4" y="230" width="19.7" height="80" fill="#ffe010"/>
<rect x="687.6" y="230" width="26.1" height="80" fill="#ffd800"/>
<rect x="713.1" y="230" width="13.3" height="80" fill="#ffec00"/>
<rect x="725.9" y="230" width="116.1" height="80" fill="#ffff00"/>
</g>
<polyline points="348.5,245.5 355.1,247.4 361.5,246.5 367.9,246.1 374.3,245.9 380.7,245.2 387.1,243.7 393.5,243.1 399.9,243.1 406.3,243.7 412.6,244.1 419,244.1 425.4,244.1 431.8,243.7 438.2,243.1 444.6,242.4 451,241.8 457.4,240.9 463.8,239.6 470.2,238.6 476.6,238.6 483,238.1 489.4,237.7 495.8,237.7 502.2,238.6 508.5,239.6 514.9,239.9 521.3,239.6 527.7,239.9 534.1,239 540.5,237.7 546.9,236.8 553.3,236.2 559.7,236.6 566.1,236.8 572.5,237.1 578.9,237.5 585.3,237.7 591.7,238.1 598.1,238.1 604.4,238.5 610.8,238.6 617.2,239 623.6,239.6 630,240.5 636.4,241.3 642.8,241.8 649.2,242.7 655.6,243.7 662,245.2 668.4,246.5 674.8,248.9 681.2,249.7 687.6,250.6 694,250.8 700.3,250.8 706.7,251.5 713.1,252.5 719.5,254.3 725.9,256.2 732.3,257.3 738.7,258.1 745.1,258.6 751.5,258.6 757.9,258.6 764.3,258.3 770.7,258.6 777.1,258.3 783.5,258.6 789.9,259 796.2,259 802.6,259.2 809,260.1 815.4,261.1 821.8,262.4 828.2,262.7 834.6,262.4 841.5,262" fill="none" stroke="#000" stroke-width="2" stroke-linejoin="round"/>
</g>
<clipPath id="cW"><rect x="348.5" y="318.5" width="493" height="77"/></clipPath>
<g clip-path="url(#cW)">
<clipPath id="cWa"><polygon points="348.5,377.8 355.1,374.6 361.5,377.4 367.9,376.4 374.3,377.9 380.7,377.4 387.1,378.7 393.5,377.8 399.9,373.1 406.3,374.6 412.6,371.4 419,368.6 425.4,372.2 431.8,371.8 438.2,376.4 444.6,380.2 451,381.5 457.4,380.6 463.8,382.6 470.2,383.9 476.6,383 483,381.7 489.4,375.9 495.8,377.4 502.2,377.9 508.5,376.8 514.9,378.7 521.3,376.4 527.7,378.9 534.1,376.4 540.5,369.9 546.9,365.8 553.3,368 559.7,368 566.1,370.8 572.5,372.3 578.9,374.6 585.3,376.4 591.7,378.7 598.1,380.7 604.4,373.3 610.8,375.9 617.2,374.2 623.6,373.3 630,374.6 636.4,373.6 642.8,377.8 649.2,379.6 655.6,377.8 662,381.5 668.4,372.3 674.8,374.6 681.2,371.4 687.6,369.5 694,366.7 700.3,367.5 706.7,369 713.1,370.8 719.5,368 725.9,362.1 732.3,363.9 738.7,366.2 745.1,369 751.5,373.3 757.9,370.8 764.3,369.9 770.7,369.5 777.1,369.9 783.5,371.4 789.9,371.8 796.2,372.3 802.6,373.1 809,373.6 815.4,375 821.8,374.2 828.2,373.3 834.6,371.8 841.5,375.1 841.5,396 348.5,396"/></clipPath>
<g clip-path="url(#cWa)">
<rect x="348.7" y="317" width="51.6" height="80" fill="#0a80f0"/>
<rect x="399.9" y="317" width="38.9" height="80" fill="#003c80"/>
<rect x="438.2" y="317" width="6.9" height="80" fill="#0a80f0"/>
<rect x="444.6" y="317" width="38.9" height="80" fill="#00c0ff"/>
<rect x="483" y="317" width="51.6" height="80" fill="#0a80f0"/>
<rect x="534.1" y="317" width="6.9" height="80" fill="#003c80"/>
<rect x="540.5" y="317" width="26.1" height="80" fill="#008000"/>
<rect x="566.1" y="317" width="13.3" height="80" fill="#003c80"/>
<rect x="578.9" y="317" width="26.1" height="80" fill="#0a80f0"/>
<rect x="604.4" y="317" width="6.9" height="80" fill="#003c80"/>
<rect x="610.8" y="317" width="6.9" height="80" fill="#0a80f0"/>
<rect x="617.2" y="317" width="19.7" height="80" fill="#003c80"/>
<rect x="636.4" y="317" width="32.5" height="80" fill="#0a80f0"/>
<rect x="668.4" y="317" width="19.7" height="80" fill="#003c80"/>
<rect x="687.6" y="317" width="19.7" height="80" fill="#008000"/>
<rect x="706.7" y="317" width="6.9" height="80" fill="#003c80"/>
<rect x="713.1" y="317" width="13.3" height="80" fill="#008000"/>
<rect x="725.9" y="317" width="6.9" height="80" fill="#20d020"/>
<rect x="732.3" y="317" width="13.3" height="80" fill="#008000"/>
<rect x="745.1" y="317" width="70.8" height="80" fill="#003c80"/>
<rect x="815.4" y="317" width="6.9" height="80" fill="#0a80f0"/>
<rect x="821.8" y="317" width="20.2" height="80" fill="#003c80"/>
</g>
<polyline points="348.5,377.8 355.1,374.6 361.5,377.4 367.9,376.4 374.3,377.9 380.7,377.4 387.1,378.7 393.5,377.8 399.9,373.1 406.3,374.6 412.6,371.4 419,368.6 425.4,372.2 431.8,371.8 438.2,376.4 444.6,380.2 451,381.5 457.4,380.6 463.8,382.6 470.2,383.9 476.6,383 483,381.7 489.4,375.9 495.8,377.4 502.2,377.9 508.5,376.8 514.9,378.7 521.3,376.4 527.7,378.9 534.1,376.4 540.5,369.9 546.9,365.8 553.3,368 559.7,368 566.1,370.8 572.5,372.3 578.9,374.6 585.3,376.4 591.7,378.7 598.1,380.7 604.4,373.3 610.8,375.9 617.2,374.2 623.6,373.3 630,374.6 636.4,373.6 642.8,377.8 649.2,379.6 655.6,377.8 662,381.5 668.4,372.3 674.8,374.6 681.2,371.4 687.6,369.5 694,366.7 700.3,367.5 706.7,369 713.1,370.8 719.5,368 725.9,362.1 732.3,363.9 738.7,366.2 745.1,369 751.5,373.3 757.9,370.8 764.3,369.9 770.7,369.5 777.1,369.9 783.5,371.4 789.9,371.8 796.2,372.3 802.6,373.1 809,373.6 815.4,375 821.8,374.2 828.2,373.3 834.6,371.8 841.5,375.1" fill="none" stroke="#000090" stroke-width="1.8" stroke-linejoin="round"/>
<line x1="348.7" y1="357.5" x2="355.1" y2="357.5" stroke="#f00000" stroke-width="1"/>
<line x1="355.1" y1="357.5" x2="361.5" y2="357.5" stroke="#f00000" stroke-width="1"/>
<line x1="361.5" y1="357.5" x2="367.9" y2="357.5" stroke="#f00000" stroke-width="1"/>
<line x1="367.9" y1="359.5" x2="374.3" y2="359.5" stroke="#f00000" stroke-width="1"/>
<line x1="374.3" y1="362.5" x2="380.7" y2="362.5" stroke="#f00000" stroke-width="1"/>
<line x1="380.7" y1="362.5" x2="387.1" y2="362.5" stroke="#f00000" stroke-width="1"/>
<line x1="387.1" y1="362.5" x2="393.5" y2="362.5" stroke="#f00000" stroke-width="1"/>
<line x1="393.5" y1="353.5" x2="399.9" y2="353.5" stroke="#f00000" stroke-width="1"/>
<line x1="399.9" y1="351.5" x2="406.3" y2="351.5" stroke="#f00000" stroke-width="1"/>
<line x1="406.3" y1="347.5" x2="412.6" y2="347.5" stroke="#f00000" stroke-width="1"/>
<line x1="412.6" y1="345.5" x2="419" y2="345.5" stroke="#f00000" stroke-width="1"/>
<line x1="419" y1="340.5" x2="425.4" y2="340.5" stroke="#f00000" stroke-width="1"/>
<line x1="425.4" y1="339.5" x2="431.8" y2="339.5" stroke="#f00000" stroke-width="1"/>
<line x1="431.8" y1="348.5" x2="438.2" y2="348.5" stroke="#f00000" stroke-width="1"/>
<line x1="438.2" y1="361.5" x2="444.6" y2="361.5" stroke="#f00000" stroke-width="1"/>
<line x1="444.6" y1="362.5" x2="451" y2="362.5" stroke="#f00000" stroke-width="1"/>
<line x1="451" y1="367.5" x2="457.4" y2="367.5" stroke="#f00000" stroke-width="1"/>
<line x1="457.4" y1="368.5" x2="463.8" y2="368.5" stroke="#f00000" stroke-width="1"/>
<line x1="463.8" y1="369.5" x2="470.2" y2="369.5" stroke="#f00000" stroke-width="1"/>
<line x1="470.2" y1="370.5" x2="476.6" y2="370.5" stroke="#f00000" stroke-width="1"/>
<line x1="476.6" y1="370.5" x2="483" y2="370.5" stroke="#f00000" stroke-width="1"/>
<line x1="483" y1="359.5" x2="489.4" y2="359.5" stroke="#f00000" stroke-width="1"/>
<line x1="489.4" y1="359.5" x2="495.8" y2="359.5" stroke="#f00000" stroke-width="1"/>
<line x1="495.8" y1="355.5" x2="502.2" y2="355.5" stroke="#f00000" stroke-width="1"/>
<line x1="502.2" y1="361.5" x2="508.5" y2="361.5" stroke="#f00000" stroke-width="1"/>
<line x1="508.5" y1="362.5" x2="514.9" y2="362.5" stroke="#f00000" stroke-width="1"/>
<line x1="514.9" y1="358.5" x2="521.3" y2="358.5" stroke="#f00000" stroke-width="1"/>
<line x1="521.3" y1="358.5" x2="527.7" y2="358.5" stroke="#f00000" stroke-width="1"/>
<line x1="527.7" y1="358.5" x2="534.1" y2="358.5" stroke="#f00000" stroke-width="1"/>
<line x1="534.1" y1="348.5" x2="540.5" y2="348.5" stroke="#f00000" stroke-width="1"/>
<line x1="540.5" y1="340.5" x2="546.9" y2="340.5" stroke="#f00000" stroke-width="1"/>
<line x1="546.9" y1="339.5" x2="553.3" y2="339.5" stroke="#f00000" stroke-width="1"/>
<line x1="553.3" y1="341.5" x2="559.7" y2="341.5" stroke="#f00000" stroke-width="1"/>
<line x1="559.7" y1="341.5" x2="566.1" y2="341.5" stroke="#f00000" stroke-width="1"/>
<line x1="566.1" y1="347.5" x2="572.5" y2="347.5" stroke="#f00000" stroke-width="1"/>
<line x1="572.5" y1="348.5" x2="578.9" y2="348.5" stroke="#f00000" stroke-width="1"/>
<line x1="578.9" y1="355.5" x2="585.3" y2="355.5" stroke="#f00000" stroke-width="1"/>
<line x1="585.3" y1="362.5" x2="591.7" y2="362.5" stroke="#f00000" stroke-width="1"/>
<line x1="591.7" y1="362.5" x2="598.1" y2="362.5" stroke="#f00000" stroke-width="1"/>
<line x1="598.1" y1="356.5" x2="604.4" y2="356.5" stroke="#f00000" stroke-width="1"/>
<line x1="604.4" y1="356.5" x2="610.8" y2="356.5" stroke="#f00000" stroke-width="1"/>
<line x1="610.8" y1="355.5" x2="617.2" y2="355.5" stroke="#f00000" stroke-width="1"/>
<line x1="617.2" y1="353.5" x2="623.6" y2="353.5" stroke="#f00000" stroke-width="1"/>
<line x1="623.6" y1="355.5" x2="630" y2="355.5" stroke="#f00000" stroke-width="1"/>
<line x1="630" y1="355.5" x2="636.4" y2="355.5" stroke="#f00000" stroke-width="1"/>
<line x1="636.4" y1="356.5" x2="642.8" y2="356.5" stroke="#f00000" stroke-width="1"/>
<line x1="642.8" y1="362.5" x2="649.2" y2="362.5" stroke="#f00000" stroke-width="1"/>
<line x1="649.2" y1="362.5" x2="655.6" y2="362.5" stroke="#f00000" stroke-width="1"/>
<line x1="655.6" y1="363.5" x2="662" y2="363.5" stroke="#f00000" stroke-width="1"/>
<line x1="662" y1="355.5" x2="668.4" y2="355.5" stroke="#f00000" stroke-width="1"/>
<line x1="668.4" y1="355.5" x2="674.8" y2="355.5" stroke="#f00000" stroke-width="1"/>
<line x1="674.8" y1="348.5" x2="681.2" y2="348.5" stroke="#f00000" stroke-width="1"/>
<line x1="681.2" y1="346.5" x2="687.6" y2="346.5" stroke="#f00000" stroke-width="1"/>
<line x1="687.6" y1="335.5" x2="694" y2="335.5" stroke="#f00000" stroke-width="1"/>
<line x1="694" y1="335.5" x2="700.3" y2="335.5" stroke="#f00000" stroke-width="1"/>
<line x1="700.3" y1="337.5" x2="706.7" y2="337.5" stroke="#f00000" stroke-width="1"/>
<line x1="706.7" y1="339.5" x2="713.1" y2="339.5" stroke="#f00000" stroke-width="1"/>
<line x1="713.1" y1="336.5" x2="719.5" y2="336.5" stroke="#f00000" stroke-width="1"/>
<line x1="719.5" y1="328.5" x2="725.9" y2="328.5" stroke="#f00000" stroke-width="1"/>
<line x1="725.9" y1="328.5" x2="732.3" y2="328.5" stroke="#f00000" stroke-width="1"/>
<line x1="732.3" y1="332.5" x2="738.7" y2="332.5" stroke="#f00000" stroke-width="1"/>
<line x1="738.7" y1="339.5" x2="745.1" y2="339.5" stroke="#f00000" stroke-width="1"/>
<line x1="745.1" y1="345.5" x2="751.5" y2="345.5" stroke="#f00000" stroke-width="1"/>
<line x1="751.5" y1="347.5" x2="757.9" y2="347.5" stroke="#f00000" stroke-width="1"/>
<line x1="757.9" y1="346.5" x2="764.3" y2="346.5" stroke="#f00000" stroke-width="1"/>
<line x1="764.3" y1="347.5" x2="770.7" y2="347.5" stroke="#f00000" stroke-width="1"/>
<line x1="770.7" y1="347.5" x2="777.1" y2="347.5" stroke="#f00000" stroke-width="1"/>
<line x1="777.1" y1="348.5" x2="783.5" y2="348.5" stroke="#f00000" stroke-width="1"/>
<line x1="783.5" y1="351.5" x2="789.9" y2="351.5" stroke="#f00000" stroke-width="1"/>
<line x1="789.9" y1="353.5" x2="796.2" y2="353.5" stroke="#f00000" stroke-width="1"/>
<line x1="796.2" y1="355.5" x2="802.6" y2="355.5" stroke="#f00000" stroke-width="1"/>
<line x1="802.6" y1="355.5" x2="809" y2="355.5" stroke="#f00000" stroke-width="1"/>
<line x1="809" y1="356.5" x2="815.4" y2="356.5" stroke="#f00000" stroke-width="1"/>
<line x1="815.4" y1="357.5" x2="821.8" y2="357.5" stroke="#f00000" stroke-width="1"/>
<line x1="821.8" y1="355.5" x2="828.2" y2="355.5" stroke="#f00000" stroke-width="1"/>
<line x1="828.2" y1="352.5" x2="834.6" y2="352.5" stroke="#f00000" stroke-width="1"/>
<line x1="834.6" y1="352.5" x2="841" y2="352.5" stroke="#f00000" stroke-width="1"/>
</g>
<g stroke="#000098" fill="#000098" stroke-width="1.2">
<line x1="341.6" y1="415.9" x2="354.5" y2="417"/>
<polygon stroke="none" points="355.3,417.1 349.1,419 349.6,414.1"/>
<line x1="348" y1="415.9" x2="360.9" y2="417"/>
<polygon stroke="none" points="361.7,417.1 355.5,419 356,414.1"/>
<line x1="355.3" y1="412.9" x2="366.6" y2="419.4"/>
<polygon stroke="none" points="367.3,419.8 360.8,419 363.3,414.7"/>
<line x1="363.8" y1="410.6" x2="371.2" y2="421.3"/>
<polygon stroke="none" points="371.7,421.9 366.2,418.5 370.3,415.6"/>
<line x1="367.3" y1="415" x2="380" y2="417.7"/>
<polygon stroke="none" points="380.8,417.9 374.4,419.1 375.4,414.2"/>
<line x1="373.6" y1="415.3" x2="386.4" y2="417.5"/>
<polygon stroke="none" points="387.2,417.7 380.9,419.1 381.8,414.2"/>
<line x1="380" y1="415.3" x2="392.8" y2="417.5"/>
<polygon stroke="none" points="393.6,417.7 387.3,419.1 388.1,414.2"/>
<line x1="386.4" y1="415.3" x2="399.2" y2="417.5"/>
<polygon stroke="none" points="400,417.7 393.7,419.1 394.5,414.2"/>
<line x1="394.4" y1="411.9" x2="404.3" y2="420.3"/>
<polygon stroke="none" points="405,420.8 398.8,418.8 402,415"/>
<line x1="400.9" y1="411.7" x2="410.6" y2="420.4"/>
<polygon stroke="none" points="411.2,420.9 405.1,418.8 408.4,415.1"/>
<line x1="407.3" y1="411.7" x2="417" y2="420.4"/>
<polygon stroke="none" points="417.6,420.9 411.5,418.8 414.8,415.1"/>
<line x1="413.7" y1="411.7" x2="423.4" y2="420.4"/>
<polygon stroke="none" points="424,420.9 417.8,418.8 421.2,415.1"/>
<line x1="420.6" y1="411.2" x2="429.3" y2="420.8"/>
<polygon stroke="none" points="429.9,421.4 424,418.7 427.7,415.3"/>
<line x1="427.2" y1="411" x2="435.6" y2="421"/>
<polygon stroke="none" points="436.1,421.6 430.3,418.6 434.2,415.4"/>
<line x1="433.8" y1="410.9" x2="441.8" y2="421.1"/>
<polygon stroke="none" points="442.3,421.7 436.6,418.6 440.6,415.5"/>
<line x1="441.6" y1="410" x2="447.1" y2="421.8"/>
<polygon stroke="none" points="447.4,422.5 442.6,418.1 447.2,416"/>
<line x1="448.6" y1="409.8" x2="453" y2="422"/>
<polygon stroke="none" points="453.3,422.7 448.9,418 453.6,416.3"/>
<line x1="455" y1="409.8" x2="459.4" y2="422"/>
<polygon stroke="none" points="459.7,422.7 455.3,418 460,416.3"/>
<line x1="460.8" y1="410" x2="466.3" y2="421.8"/>
<polygon stroke="none" points="466.6,422.5 461.8,418.1 466.3,416"/>
<line x1="466.1" y1="410.6" x2="473.5" y2="421.3"/>
<polygon stroke="none" points="474,421.9 468.5,418.5 472.6,415.6"/>
<line x1="470.7" y1="412.4" x2="481.4" y2="419.9"/>
<polygon stroke="none" points="482,420.3 475.7,418.9 478.5,414.8"/>
<line x1="476.1" y1="414.6" x2="488.6" y2="418"/>
<polygon stroke="none" points="489.4,418.2 483,419.1 484.2,414.3"/>
<line x1="482.4" y1="415" x2="495.1" y2="417.7"/>
<polygon stroke="none" points="495.9,417.9 489.5,419.1 490.5,414.2"/>
<line x1="488.7" y1="415.3" x2="501.5" y2="417.5"/>
<polygon stroke="none" points="502.3,417.7 496,419.1 496.8,414.2"/>
<line x1="495.2" y1="415" x2="507.9" y2="417.7"/>
<polygon stroke="none" points="508.7,417.9 502.3,419.1 503.3,414.2"/>
<line x1="501.5" y1="415.5" x2="514.3" y2="417.3"/>
<polygon stroke="none" points="515.1,417.4 508.8,419.1 509.5,414.1"/>
<line x1="507.8" y1="415.9" x2="520.8" y2="417"/>
<polygon stroke="none" points="521.6,417.1 515.4,419 515.8,414.1"/>
<line x1="514.2" y1="416.5" x2="527.2" y2="416.5"/>
<polygon stroke="none" points="528,416.5 522,419 522,414"/>
<line x1="520.6" y1="416.3" x2="533.6" y2="416.7"/>
<polygon stroke="none" points="534.4,416.7 528.3,419 528.5,414"/>
<line x1="527" y1="416.5" x2="540" y2="416.5"/>
<polygon stroke="none" points="540.8,416.5 534.8,419 534.8,414"/>
<line x1="533.4" y1="416.7" x2="546.4" y2="416.3"/>
<polygon stroke="none" points="547.2,416.3 541.2,419 541.1,414"/>
<line x1="539.8" y1="416.5" x2="552.8" y2="416.5"/>
<polygon stroke="none" points="553.6,416.5 547.6,419 547.6,414"/>
<line x1="546.2" y1="416.1" x2="559.1" y2="416.8"/>
<polygon stroke="none" points="559.9,416.8 553.8,419 554.1,414"/>
<line x1="552.5" y1="416.5" x2="565.5" y2="416.5"/>
<polygon stroke="none" points="566.3,416.5 560.3,419 560.3,414"/>
<line x1="558.9" y1="416.5" x2="571.9" y2="416.5"/>
<polygon stroke="none" points="572.7,416.5 566.7,419 566.7,414"/>
<line x1="565.3" y1="416.3" x2="578.3" y2="416.7"/>
<polygon stroke="none" points="579.1,416.7 573,419 573.2,414"/>
<line x1="571.7" y1="416.5" x2="584.7" y2="416.5"/>
<polygon stroke="none" points="585.5,416.5 579.5,419 579.5,414"/>
<line x1="578.1" y1="416.5" x2="591.1" y2="416.5"/>
<polygon stroke="none" points="591.9,416.5 585.9,419 585.9,414"/>
<line x1="585.5" y1="420.1" x2="596.7" y2="413.6"/>
<polygon stroke="none" points="597.4,413.2 593.5,418.3 591,414"/>
<line x1="591.9" y1="420.1" x2="603.1" y2="413.6"/>
<polygon stroke="none" points="603.8,413.2 599.9,418.3 597.4,414"/>
<line x1="597.3" y1="416.5" x2="610.3" y2="416.5"/>
<polygon stroke="none" points="611.1,416.5 605.1,419 605.1,414"/>
<line x1="603.7" y1="416.5" x2="616.7" y2="416.5"/>
<polygon stroke="none" points="617.5,416.5 611.5,419 611.5,414"/>
<line x1="610.1" y1="416.5" x2="623.1" y2="416.5"/>
<polygon stroke="none" points="623.9,416.5 617.9,419 617.9,414"/>
<line x1="616.9" y1="418.9" x2="629.1" y2="414.5"/>
<polygon stroke="none" points="629.9,414.2 625.1,418.6 623.4,413.9"/>
<line x1="623.3" y1="418.9" x2="635.5" y2="414.5"/>
<polygon stroke="none" points="636.3,414.2 631.5,418.6 629.8,413.9"/>
<line x1="629.3" y1="416.9" x2="642.3" y2="416.2"/>
<polygon stroke="none" points="643.1,416.2 637.2,419 636.9,414"/>
<line x1="635.7" y1="416.9" x2="648.6" y2="416.2"/>
<polygon stroke="none" points="649.4,416.2 643.6,419 643.3,414"/>
<line x1="642.1" y1="416.9" x2="655" y2="416.2"/>
<polygon stroke="none" points="655.8,416.2 650,419 649.7,414"/>
<line x1="648.5" y1="416.9" x2="661.4" y2="416.2"/>
<polygon stroke="none" points="662.2,416.2 656.4,419 656.1,414"/>
<line x1="656.1" y1="420.6" x2="666.8" y2="413.1"/>
<polygon stroke="none" points="667.4,412.7 664,418.2 661.1,414.1"/>
<line x1="662.9" y1="421.1" x2="672.9" y2="412.7"/>
<polygon stroke="none" points="673.5,412.2 670.5,418 667.3,414.2"/>
<line x1="669.3" y1="421.1" x2="679.3" y2="412.7"/>
<polygon stroke="none" points="679.9,412.2 676.9,418 673.7,414.2"/>
<line x1="675.7" y1="421.1" x2="685.6" y2="412.7"/>
<polygon stroke="none" points="686.3,412.2 683.3,418 680.1,414.2"/>
<line x1="681.7" y1="420.6" x2="692.4" y2="413.1"/>
<polygon stroke="none" points="693,412.7 689.5,418.2 686.7,414.1"/>
<line x1="688.1" y1="420.6" x2="698.7" y2="413.1"/>
<polygon stroke="none" points="699.4,412.7 695.9,418.2 693.1,414.1"/>
<line x1="694.5" y1="420.6" x2="705.1" y2="413.1"/>
<polygon stroke="none" points="705.8,412.7 702.3,418.2 699.4,414.1"/>
<line x1="700.9" y1="420.6" x2="711.5" y2="413.1"/>
<polygon stroke="none" points="712.2,412.7 708.7,418.2 705.8,414.1"/>
<line x1="707.3" y1="420.6" x2="717.9" y2="413.1"/>
<polygon stroke="none" points="718.6,412.7 715.1,418.2 712.2,414.1"/>
<line x1="713.7" y1="420.6" x2="724.3" y2="413.1"/>
<polygon stroke="none" points="725,412.7 721.5,418.2 718.6,414.1"/>
<line x1="720.1" y1="420.6" x2="730.7" y2="413.1"/>
<polygon stroke="none" points="731.4,412.7 727.9,418.2 725,414.1"/>
<line x1="726.5" y1="420.6" x2="737.1" y2="413.1"/>
<polygon stroke="none" points="737.8,412.7 734.3,418.2 731.4,414.1"/>
<line x1="732.8" y1="420.6" x2="743.5" y2="413.1"/>
<polygon stroke="none" points="744.2,412.7 740.7,418.2 737.8,414.1"/>
<line x1="738.2" y1="418.4" x2="750.7" y2="415"/>
<polygon stroke="none" points="751.5,414.8 746.4,418.7 745.1,413.9"/>
<line x1="744.6" y1="418.4" x2="757.1" y2="415"/>
<polygon stroke="none" points="757.9,414.8 752.8,418.7 751.5,413.9"/>
<line x1="751" y1="418.4" x2="763.5" y2="415"/>
<polygon stroke="none" points="764.3,414.8 759.2,418.7 757.9,413.9"/>
<line x1="757.4" y1="418.4" x2="769.9" y2="415"/>
<polygon stroke="none" points="770.7,414.8 765.6,418.7 764.3,413.9"/>
<line x1="763.8" y1="418.4" x2="776.3" y2="415"/>
<polygon stroke="none" points="777.1,414.8 771.9,418.7 770.7,413.9"/>
<line x1="770.2" y1="418.4" x2="782.7" y2="415"/>
<polygon stroke="none" points="783.5,414.8 778.3,418.7 777,413.9"/>
<line x1="776.6" y1="418.4" x2="789.1" y2="415"/>
<polygon stroke="none" points="789.9,414.8 784.7,418.7 783.4,413.9"/>
<line x1="782.9" y1="418.4" x2="795.5" y2="415"/>
<polygon stroke="none" points="796.3,414.8 791.1,418.7 789.8,413.9"/>
<line x1="789.1" y1="417.1" x2="802.1" y2="416"/>
<polygon stroke="none" points="802.9,415.9 797.1,418.9 796.7,414"/>
<line x1="795.5" y1="417.1" x2="808.5" y2="416"/>
<polygon stroke="none" points="809.3,415.9 803.5,418.9 803.1,414"/>
<line x1="801.9" y1="417.1" x2="814.9" y2="416"/>
<polygon stroke="none" points="815.7,415.9 809.9,418.9 809.5,414"/>
<line x1="808.3" y1="417.1" x2="821.3" y2="416"/>
<polygon stroke="none" points="822,415.9 816.3,418.9 815.9,414"/>
<line x1="816" y1="420.6" x2="826.6" y2="413.1"/>
<polygon stroke="none" points="827.3,412.7 823.8,418.2 820.9,414.1"/>
<line x1="822.4" y1="420.6" x2="833" y2="413.1"/>
<polygon stroke="none" points="833.7,412.7 830.2,418.2 827.3,414.1"/>
<line x1="828.7" y1="420.6" x2="839.4" y2="413.1"/>
<polygon stroke="none" points="840.1,412.7 836.6,418.2 833.7,414.1"/>
<line x1="835.1" y1="420.6" x2="845.8" y2="413.1"/>
<polygon stroke="none" points="846.4,412.7 843,418.2 840.1,414.1"/>
</g>
<clipPath id="cB"><rect x="348.5" y="438.5" width="493" height="77.5"/></clipPath>
<g clip-path="url(#cB)">
<circle cx="348.7" cy="461.9" r="2.6" fill="#b02222"/>
<circle cx="355.1" cy="464.7" r="2.6" fill="#b02222"/>
<circle cx="361.5" cy="466.6" r="2.6" fill="#b02222"/>
<circle cx="367.9" cy="471.6" r="2.6" fill="#b02222"/>
<circle cx="374.3" cy="475" r="2.6" fill="#b02222"/>
<circle cx="380.7" cy="475.3" r="2.6" fill="#b02222"/>
<circle cx="387.1" cy="475" r="2.6" fill="#b02222"/>
<circle cx="393.5" cy="474" r="2.6" fill="#b02222"/>
<circle cx="399.9" cy="474" r="2.6" fill="#b02222"/>
<circle cx="406.3" cy="475.9" r="2.6" fill="#b02222"/>
<circle cx="412.6" cy="471.6" r="2.6" fill="#b02222"/>
<circle cx="419" cy="471.6" r="2.6" fill="#b02222"/>
<circle cx="425.4" cy="470.9" r="2.6" fill="#b02222"/>
<circle cx="431.8" cy="468.1" r="2.6" fill="#b02222"/>
<circle cx="438.2" cy="471.6" r="2.6" fill="#b02222"/>
<circle cx="444.6" cy="473.1" r="2.6" fill="#b02222"/>
<circle cx="451" cy="474" r="2.6" fill="#b02222"/>
<circle cx="457.4" cy="474.6" r="2.6" fill="#b02222"/>
<circle cx="463.8" cy="474.6" r="2.6" fill="#b02222"/>
<circle cx="470.2" cy="474" r="2.6" fill="#b02222"/>
<circle cx="476.6" cy="449.7" r="2.6" fill="#b02222"/>
<circle cx="483" cy="449.7" r="2.6" fill="#b02222"/>
<circle cx="489.4" cy="449.7" r="2.6" fill="#b02222"/>
<circle cx="495.8" cy="450.7" r="2.6" fill="#b02222"/>
<circle cx="502.2" cy="451.6" r="2.6" fill="#b02222"/>
<circle cx="508.5" cy="452.2" r="2.6" fill="#b02222"/>
<circle cx="514.9" cy="451.6" r="2.6" fill="#b02222"/>
<circle cx="521.3" cy="450.7" r="2.6" fill="#b02222"/>
<circle cx="527.7" cy="449.7" r="2.6" fill="#b02222"/>
<circle cx="534.1" cy="450.7" r="2.6" fill="#b02222"/>
<circle cx="540.5" cy="453.5" r="2.6" fill="#b02222"/>
<circle cx="546.9" cy="453.9" r="2.6" fill="#b02222"/>
<circle cx="553.3" cy="473.5" r="2.6" fill="#b02222"/>
<circle cx="566.1" cy="473.5" r="2.6" fill="#b02222"/>
<circle cx="572.5" cy="473.1" r="2.6" fill="#b02222"/>
<circle cx="578.9" cy="474.6" r="2.6" fill="#b02222"/>
<circle cx="585.3" cy="475" r="2.6" fill="#b02222"/>
<circle cx="591.7" cy="475.3" r="2.6" fill="#b02222"/>
<circle cx="598.1" cy="475.9" r="2.6" fill="#b02222"/>
<circle cx="604.4" cy="475.9" r="2.6" fill="#b02222"/>
<circle cx="610.8" cy="475.3" r="2.6" fill="#b02222"/>
<circle cx="617.2" cy="455.4" r="2.6" fill="#b02222"/>
<circle cx="623.6" cy="454.8" r="2.6" fill="#b02222"/>
<circle cx="630" cy="454" r="2.6" fill="#b02222"/>
<circle cx="636.4" cy="454" r="2.6" fill="#b02222"/>
<circle cx="642.8" cy="454" r="2.6" fill="#b02222"/>
<circle cx="649.2" cy="455.4" r="2.6" fill="#b02222"/>
<circle cx="655.6" cy="459.5" r="2.6" fill="#b02222"/>
<circle cx="662" cy="460.4" r="2.6" fill="#b02222"/>
<circle cx="668.4" cy="474" r="2.6" fill="#b02222"/>
<circle cx="674.8" cy="474" r="2.6" fill="#b02222"/>
<circle cx="681.2" cy="454" r="2.6" fill="#b02222"/>
<circle cx="687.6" cy="450.7" r="2.6" fill="#b02222"/>
<circle cx="694" cy="449.7" r="2.6" fill="#b02222"/>
<circle cx="700.3" cy="449.7" r="2.6" fill="#b02222"/>
<circle cx="706.7" cy="450.7" r="2.6" fill="#b02222"/>
<circle cx="713.1" cy="451.6" r="2.6" fill="#b02222"/>
<circle cx="719.5" cy="474" r="2.6" fill="#b02222"/>
<circle cx="725.9" cy="474" r="2.6" fill="#b02222"/>
<circle cx="732.3" cy="455.4" r="2.6" fill="#b02222"/>
<circle cx="738.7" cy="456.3" r="2.6" fill="#b02222"/>
<circle cx="745.1" cy="475" r="2.6" fill="#b02222"/>
<circle cx="751.5" cy="475.3" r="2.6" fill="#b02222"/>
<circle cx="757.9" cy="475.3" r="2.6" fill="#b02222"/>
<circle cx="764.3" cy="449.7" r="2.6" fill="#b02222"/>
<circle cx="770.7" cy="449.7" r="2.6" fill="#b02222"/>
<circle cx="777.1" cy="449.7" r="2.6" fill="#b02222"/>
<circle cx="783.5" cy="449.7" r="2.6" fill="#b02222"/>
<circle cx="789.9" cy="449.7" r="2.6" fill="#b02222"/>
<circle cx="796.2" cy="450.7" r="2.6" fill="#b02222"/>
<circle cx="802.6" cy="475" r="2.6" fill="#b02222"/>
<circle cx="809" cy="474" r="2.6" fill="#b02222"/>
<circle cx="815.4" cy="473.5" r="2.6" fill="#b02222"/>
<circle cx="821.8" cy="474" r="2.6" fill="#b02222"/>
<circle cx="828.2" cy="458.2" r="2.6" fill="#b02222"/>
<circle cx="834.6" cy="459.5" r="2.6" fill="#b02222"/>
<circle cx="841" cy="458.5" r="2.6" fill="#b02222"/>
<circle cx="348.7" cy="506.7" r="2.6" fill="#ffffff"/>
<circle cx="355.1" cy="508.2" r="2.6" fill="#ffffff"/>
<circle cx="361.5" cy="508.2" r="2.6" fill="#ffffff"/>
<circle cx="367.9" cy="508.2" r="2.6" fill="#ffffff"/>
<circle cx="374.3" cy="509" r="2.6" fill="#ffffff"/>
<circle cx="380.7" cy="509" r="2.6" fill="#ffffff"/>
<circle cx="387.1" cy="509.5" r="2.6" fill="#ffffff"/>
<circle cx="393.5" cy="507.7" r="2.6" fill="#ffffff"/>
<circle cx="399.9" cy="507.3" r="2.6" fill="#ffffff"/>
<circle cx="406.3" cy="502.1" r="2.6" fill="#ffffff"/>
<circle cx="412.6" cy="503" r="2.6" fill="#ffffff"/>
<circle cx="419" cy="495.5" r="2.6" fill="#ffffff"/>
<circle cx="425.4" cy="498.9" r="2.6" fill="#ffffff"/>
<circle cx="431.8" cy="504.9" r="2.6" fill="#ffffff"/>
<circle cx="438.2" cy="506.7" r="2.6" fill="#ffffff"/>
<circle cx="444.6" cy="507.1" r="2.6" fill="#ffffff"/>
<circle cx="451" cy="507.3" r="2.6" fill="#ffffff"/>
<circle cx="457.4" cy="501.1" r="2.6" fill="#ffffff"/>
<circle cx="476.6" cy="502.1" r="2.6" fill="#ffffff"/>
<circle cx="483" cy="508.6" r="2.6" fill="#ffffff"/>
<circle cx="489.4" cy="509.9" r="2.6" fill="#ffffff"/>
<circle cx="495.8" cy="509" r="2.6" fill="#ffffff"/>
<circle cx="502.2" cy="508.6" r="2.6" fill="#ffffff"/>
<circle cx="514.9" cy="492.7" r="2.6" fill="#ffffff"/>
<circle cx="521.3" cy="495.9" r="2.6" fill="#ffffff"/>
<circle cx="527.7" cy="508.6" r="2.6" fill="#ffffff"/>
<circle cx="534.1" cy="509" r="2.6" fill="#ffffff"/>
<circle cx="540.5" cy="507.1" r="2.6" fill="#ffffff"/>
<circle cx="546.9" cy="509" r="2.6" fill="#ffffff"/>
<circle cx="553.3" cy="508.6" r="2.6" fill="#ffffff"/>
<circle cx="559.7" cy="508.6" r="2.6" fill="#ffffff"/>
<circle cx="566.1" cy="508.6" r="2.6" fill="#ffffff"/>
<circle cx="572.5" cy="508.6" r="2.6" fill="#ffffff"/>
<circle cx="578.9" cy="506.7" r="2.6" fill="#ffffff"/>
<circle cx="585.3" cy="508.2" r="2.6" fill="#ffffff"/>
<circle cx="591.7" cy="507.7" r="2.6" fill="#ffffff"/>
<circle cx="598.1" cy="509.5" r="2.6" fill="#ffffff"/>
<circle cx="604.4" cy="510.5" r="2.6" fill="#ffffff"/>
<circle cx="610.8" cy="510.1" r="2.6" fill="#ffffff"/>
<circle cx="617.2" cy="510.1" r="2.6" fill="#ffffff"/>
<circle cx="623.6" cy="509.5" r="2.6" fill="#ffffff"/>
<circle cx="630" cy="510.5" r="2.6" fill="#ffffff"/>
<circle cx="636.4" cy="510.5" r="2.6" fill="#ffffff"/>
<circle cx="642.8" cy="510.5" r="2.6" fill="#ffffff"/>
<circle cx="649.2" cy="510.5" r="2.6" fill="#ffffff"/>
<circle cx="655.6" cy="510.5" r="2.6" fill="#ffffff"/>
<circle cx="662" cy="510.5" r="2.6" fill="#ffffff"/>
<circle cx="668.4" cy="510.5" r="2.6" fill="#ffffff"/>
<circle cx="674.8" cy="510.1" r="2.6" fill="#ffffff"/>
<circle cx="681.2" cy="510.5" r="2.6" fill="#ffffff"/>
<circle cx="687.6" cy="510.1" r="2.6" fill="#ffffff"/>
<circle cx="694" cy="510.1" r="2.6" fill="#ffffff"/>
<circle cx="700.3" cy="510.1" r="2.6" fill="#ffffff"/>
<circle cx="706.7" cy="510.1" r="2.6" fill="#ffffff"/>
<circle cx="713.1" cy="509.5" r="2.6" fill="#ffffff"/>
<circle cx="719.5" cy="508.6" r="2.6" fill="#ffffff"/>
<circle cx="725.9" cy="507.7" r="2.6" fill="#ffffff"/>
<circle cx="732.3" cy="506.2" r="2.6" fill="#ffffff"/>
<circle cx="738.7" cy="507.3" r="2.6" fill="#ffffff"/>
<circle cx="745.1" cy="507.3" r="2.6" fill="#ffffff"/>
<circle cx="751.5" cy="507.7" r="2.6" fill="#ffffff"/>
<circle cx="757.9" cy="507.1" r="2.6" fill="#ffffff"/>
<circle cx="764.3" cy="509" r="2.6" fill="#ffffff"/>
<circle cx="770.7" cy="509.5" r="2.6" fill="#ffffff"/>
<circle cx="777.1" cy="509.5" r="2.6" fill="#ffffff"/>
<circle cx="783.5" cy="509.5" r="2.6" fill="#ffffff"/>
<circle cx="789.9" cy="509.5" r="2.6" fill="#ffffff"/>
<circle cx="796.2" cy="509.5" r="2.6" fill="#ffffff"/>
<circle cx="802.6" cy="509.5" r="2.6" fill="#ffffff"/>
<circle cx="809" cy="509.5" r="2.6" fill="#ffffff"/>
<circle cx="815.4" cy="509.5" r="2.6" fill="#ffffff"/>
<circle cx="821.8" cy="509.5" r="2.6" fill="#ffffff"/>
<circle cx="828.2" cy="509.5" r="2.6" fill="#ffffff"/>
<circle cx="834.6" cy="509.5" r="2.6" fill="#ffffff"/>
<circle cx="841" cy="509.5" r="2.6" fill="#ffffff"/>
<circle cx="361.5" cy="501.1" r="2.6" fill="#d4d4d4"/>
<circle cx="387.1" cy="509" r="2.6" fill="#d4d4d4"/>
<circle cx="406.3" cy="500.2" r="2.6" fill="#d4d4d4"/>
<circle cx="412.6" cy="501.1" r="2.6" fill="#d4d4d4"/>
<circle cx="425.4" cy="495.5" r="2.6" fill="#d4d4d4"/>
<circle cx="431.8" cy="496.4" r="2.6" fill="#d4d4d4"/>
<circle cx="438.2" cy="501.1" r="2.6" fill="#d4d4d4"/>
<circle cx="444.6" cy="501.5" r="2.6" fill="#d4d4d4"/>
<circle cx="463.8" cy="493.6" r="2.6" fill="#d4d4d4"/>
<circle cx="470.2" cy="497.4" r="2.6" fill="#d4d4d4"/>
<circle cx="508.5" cy="492.7" r="2.6" fill="#d4d4d4"/>
<circle cx="514.9" cy="490.8" r="2.6" fill="#d4d4d4"/>
<circle cx="546.9" cy="506.7" r="2.6" fill="#d4d4d4"/>
<circle cx="553.3" cy="503.9" r="2.6" fill="#d4d4d4"/>
<circle cx="578.9" cy="503.9" r="2.6" fill="#d4d4d4"/>
<circle cx="585.3" cy="503.9" r="2.6" fill="#d4d4d4"/>
<circle cx="591.7" cy="503.9" r="2.6" fill="#d4d4d4"/>
<circle cx="598.1" cy="506.7" r="2.6" fill="#d4d4d4"/>
<circle cx="604.4" cy="509.2" r="2.6" fill="#d4d4d4"/>
<circle cx="610.8" cy="507.7" r="2.6" fill="#d4d4d4"/>
<circle cx="617.2" cy="507.7" r="2.6" fill="#d4d4d4"/>
<circle cx="623.6" cy="503.9" r="2.6" fill="#d4d4d4"/>
<circle cx="630" cy="508.6" r="2.6" fill="#d4d4d4"/>
<circle cx="655.6" cy="508.2" r="2.6" fill="#d4d4d4"/>
<circle cx="662" cy="509.2" r="2.6" fill="#d4d4d4"/>
<circle cx="668.4" cy="507.7" r="2.6" fill="#d4d4d4"/>
<circle cx="681.2" cy="508.6" r="2.6" fill="#d4d4d4"/>
<circle cx="687.6" cy="508.6" r="2.6" fill="#d4d4d4"/>
<circle cx="694" cy="507.7" r="2.6" fill="#d4d4d4"/>
<circle cx="700.3" cy="508.2" r="2.6" fill="#d4d4d4"/>
<circle cx="706.7" cy="508.6" r="2.6" fill="#d4d4d4"/>
<circle cx="713.1" cy="505.8" r="2.6" fill="#d4d4d4"/>
<circle cx="719.5" cy="503" r="2.6" fill="#d4d4d4"/>
<circle cx="725.9" cy="498.3" r="2.6" fill="#d4d4d4"/>
<circle cx="732.3" cy="496.4" r="2.6" fill="#d4d4d4"/>
<circle cx="738.7" cy="502.1" r="2.6" fill="#d4d4d4"/>
<circle cx="745.1" cy="500.2" r="2.6" fill="#d4d4d4"/>
<circle cx="751.5" cy="499.6" r="2.6" fill="#d4d4d4"/>
<circle cx="757.9" cy="501.1" r="2.6" fill="#d4d4d4"/>
<circle cx="764.3" cy="506.4" r="2.6" fill="#d4d4d4"/>
<circle cx="770.7" cy="506.7" r="2.6" fill="#d4d4d4"/>
<circle cx="777.1" cy="506.7" r="2.6" fill="#d4d4d4"/>
<circle cx="783.5" cy="506.7" r="2.6" fill="#d4d4d4"/>
<circle cx="789.9" cy="507.1" r="2.6" fill="#d4d4d4"/>
<circle cx="796.2" cy="507.7" r="2.6" fill="#d4d4d4"/>
<circle cx="802.6" cy="508.2" r="2.6" fill="#d4d4d4"/>
<circle cx="809" cy="507.7" r="2.6" fill="#d4d4d4"/>
<circle cx="815.4" cy="506.7" r="2.6" fill="#d4d4d4"/>
<circle cx="821.8" cy="506.7" r="2.6" fill="#d4d4d4"/>
<circle cx="828.2" cy="506.4" r="2.6" fill="#d4d4d4"/>
<circle cx="834.6" cy="506.7" r="2.6" fill="#d4d4d4"/>
<circle cx="841" cy="506.7" r="2.6" fill="#d4d4d4"/>
<circle cx="355.1" cy="496.4" r="2.6" fill="#a2a2a2"/>
<circle cx="367.9" cy="496.8" r="2.6" fill="#a2a2a2"/>
<circle cx="380.7" cy="501.5" r="2.6" fill="#a2a2a2"/>
<circle cx="387.1" cy="504.9" r="2.6" fill="#a2a2a2"/>
<circle cx="393.5" cy="504.3" r="2.6" fill="#a2a2a2"/>
<circle cx="399.9" cy="500.2" r="2.6" fill="#a2a2a2"/>
<circle cx="406.3" cy="497.4" r="2.6" fill="#a2a2a2"/>
<circle cx="412.6" cy="497.4" r="2.6" fill="#a2a2a2"/>
<circle cx="419" cy="491.8" r="2.6" fill="#a2a2a2"/>
<circle cx="425.4" cy="491.8" r="2.6" fill="#a2a2a2"/>
<circle cx="431.8" cy="492.7" r="2.6" fill="#a2a2a2"/>
<circle cx="438.2" cy="496.4" r="2.6" fill="#a2a2a2"/>
<circle cx="444.6" cy="493.3" r="2.6" fill="#a2a2a2"/>
<circle cx="463.8" cy="489.5" r="2.6" fill="#a2a2a2"/>
<circle cx="470.2" cy="496.4" r="2.6" fill="#a2a2a2"/>
<circle cx="476.6" cy="492.7" r="2.6" fill="#a2a2a2"/>
<circle cx="483" cy="506.7" r="2.6" fill="#a2a2a2"/>
<circle cx="489.4" cy="503" r="2.6" fill="#a2a2a2"/>
<circle cx="495.8" cy="489.9" r="2.6" fill="#a2a2a2"/>
<circle cx="502.2" cy="489" r="2.6" fill="#a2a2a2"/>
<circle cx="508.5" cy="489.9" r="2.6" fill="#a2a2a2"/>
<circle cx="514.9" cy="489" r="2.6" fill="#a2a2a2"/>
<circle cx="527.7" cy="486.2" r="2.6" fill="#a2a2a2"/>
<circle cx="559.7" cy="505.8" r="2.6" fill="#a2a2a2"/>
<circle cx="572.5" cy="503.9" r="2.6" fill="#a2a2a2"/>
<circle cx="578.9" cy="500.2" r="2.6" fill="#a2a2a2"/>
<circle cx="585.3" cy="492.2" r="2.6" fill="#a2a2a2"/>
<circle cx="604.4" cy="490.8" r="2.6" fill="#a2a2a2"/>
<circle cx="630" cy="506.7" r="2.6" fill="#a2a2a2"/>
<circle cx="636.4" cy="506.7" r="2.6" fill="#a2a2a2"/>
<circle cx="642.8" cy="508.6" r="2.6" fill="#a2a2a2"/>
<circle cx="662" cy="483.4" r="2.6" fill="#a2a2a2"/>
<circle cx="674.8" cy="506.7" r="2.6" fill="#a2a2a2"/>
<circle cx="681.2" cy="505.8" r="2.6" fill="#a2a2a2"/>
<circle cx="694" cy="505.8" r="2.6" fill="#a2a2a2"/>
<circle cx="700.3" cy="506.7" r="2.6" fill="#a2a2a2"/>
<circle cx="706.7" cy="506.7" r="2.6" fill="#a2a2a2"/>
<circle cx="713.1" cy="503" r="2.6" fill="#a2a2a2"/>
<circle cx="719.5" cy="498.3" r="2.6" fill="#a2a2a2"/>
<circle cx="725.9" cy="494.6" r="2.6" fill="#a2a2a2"/>
<circle cx="732.3" cy="492.7" r="2.6" fill="#a2a2a2"/>
<circle cx="738.7" cy="500.2" r="2.6" fill="#a2a2a2"/>
<circle cx="745.1" cy="498.3" r="2.6" fill="#a2a2a2"/>
<circle cx="751.5" cy="497.4" r="2.6" fill="#a2a2a2"/>
<circle cx="757.9" cy="499.6" r="2.6" fill="#a2a2a2"/>
<circle cx="764.3" cy="503" r="2.6" fill="#a2a2a2"/>
<circle cx="770.7" cy="503.5" r="2.6" fill="#a2a2a2"/>
<circle cx="777.1" cy="503.9" r="2.6" fill="#a2a2a2"/>
<circle cx="783.5" cy="504.3" r="2.6" fill="#a2a2a2"/>
<circle cx="789.9" cy="505.2" r="2.6" fill="#a2a2a2"/>
<circle cx="796.2" cy="505.8" r="2.6" fill="#a2a2a2"/>
<circle cx="802.6" cy="506.4" r="2.6" fill="#a2a2a2"/>
<circle cx="809" cy="505.8" r="2.6" fill="#a2a2a2"/>
<circle cx="815.4" cy="503.9" r="2.6" fill="#a2a2a2"/>
<circle cx="821.8" cy="503.9" r="2.6" fill="#a2a2a2"/>
<circle cx="828.2" cy="503" r="2.6" fill="#a2a2a2"/>
<circle cx="834.6" cy="503.9" r="2.6" fill="#a2a2a2"/>
<circle cx="841" cy="503.9" r="2.6" fill="#a2a2a2"/>
<circle cx="374.3" cy="491.8" r="2.6" fill="#606060"/>
<circle cx="380.7" cy="486.2" r="2.6" fill="#606060"/>
<circle cx="387.1" cy="493.1" r="2.6" fill="#606060"/>
<circle cx="399.9" cy="496.4" r="2.6" fill="#606060"/>
<circle cx="406.3" cy="494.6" r="2.6" fill="#606060"/>
<circle cx="412.6" cy="493.6" r="2.6" fill="#606060"/>
<circle cx="419" cy="487.7" r="2.6" fill="#606060"/>
<circle cx="425.4" cy="489" r="2.6" fill="#606060"/>
<circle cx="438.2" cy="487.7" r="2.6" fill="#606060"/>
<circle cx="444.6" cy="486.2" r="2.6" fill="#606060"/>
<circle cx="451" cy="487.7" r="2.6" fill="#606060"/>
<circle cx="457.4" cy="487.7" r="2.6" fill="#606060"/>
<circle cx="470.2" cy="492.7" r="2.6" fill="#606060"/>
<circle cx="476.6" cy="487.5" r="2.6" fill="#606060"/>
<circle cx="483" cy="495.5" r="2.6" fill="#606060"/>
<circle cx="489.4" cy="498.7" r="2.6" fill="#606060"/>
<circle cx="495.8" cy="486.2" r="2.6" fill="#606060"/>
<circle cx="508.5" cy="486.7" r="2.6" fill="#606060"/>
<circle cx="514.9" cy="487.1" r="2.6" fill="#606060"/>
<circle cx="534.1" cy="485.8" r="2.6" fill="#606060"/>
<circle cx="553.3" cy="491.8" r="2.6" fill="#606060"/>
<circle cx="559.7" cy="503" r="2.6" fill="#606060"/>
<circle cx="566.1" cy="503.9" r="2.6" fill="#606060"/>
<circle cx="572.5" cy="500.2" r="2.6" fill="#606060"/>
<circle cx="578.9" cy="491.8" r="2.6" fill="#606060"/>
<circle cx="591.7" cy="487.7" r="2.6" fill="#606060"/>
<circle cx="598.1" cy="475.9" r="2.6" fill="#606060"/>
<circle cx="604.4" cy="486.5" r="2.6" fill="#606060"/>
<circle cx="610.8" cy="487.7" r="2.6" fill="#606060"/>
<circle cx="617.2" cy="493.6" r="2.6" fill="#606060"/>
<circle cx="623.6" cy="489" r="2.6" fill="#606060"/>
<circle cx="636.4" cy="502.1" r="2.6" fill="#606060"/>
<circle cx="642.8" cy="489.4" r="2.6" fill="#606060"/>
<circle cx="649.2" cy="507.3" r="2.6" fill="#606060"/>
<circle cx="655.6" cy="502.6" r="2.6" fill="#606060"/>
<circle cx="668.4" cy="503.9" r="2.6" fill="#606060"/>
<circle cx="674.8" cy="502.1" r="2.6" fill="#606060"/>
<circle cx="681.2" cy="503.9" r="2.6" fill="#606060"/>
<circle cx="687.6" cy="487.1" r="2.6" fill="#606060"/>
<circle cx="694" cy="502.6" r="2.6" fill="#606060"/>
<circle cx="700.3" cy="503.9" r="2.6" fill="#606060"/>
<circle cx="706.7" cy="503" r="2.6" fill="#606060"/>
<circle cx="713.1" cy="498.9" r="2.6" fill="#606060"/>
<circle cx="719.5" cy="491.8" r="2.6" fill="#606060"/>
<circle cx="725.9" cy="492.2" r="2.6" fill="#606060"/>
<circle cx="732.3" cy="488" r="2.6" fill="#606060"/>
<circle cx="738.7" cy="496.4" r="2.6" fill="#606060"/>
<circle cx="745.1" cy="491.8" r="2.6" fill="#606060"/>
<circle cx="751.5" cy="493.3" r="2.6" fill="#606060"/>
<circle cx="757.9" cy="495.5" r="2.6" fill="#606060"/>
<circle cx="764.3" cy="497.8" r="2.6" fill="#606060"/>
<circle cx="770.7" cy="496.1" r="2.6" fill="#606060"/>
<circle cx="783.5" cy="489" r="2.6" fill="#606060"/>
<circle cx="789.9" cy="493.3" r="2.6" fill="#606060"/>
<circle cx="796.2" cy="485.6" r="2.6" fill="#606060"/>
<circle cx="802.6" cy="503" r="2.6" fill="#606060"/>
<circle cx="809" cy="502.1" r="2.6" fill="#606060"/>
<circle cx="815.4" cy="499.3" r="2.6" fill="#606060"/>
<circle cx="821.8" cy="482.4" r="2.6" fill="#606060"/>
<circle cx="828.2" cy="502.1" r="2.6" fill="#606060"/>
<circle cx="834.6" cy="502.1" r="2.6" fill="#606060"/>
<circle cx="841" cy="501.1" r="2.6" fill="#606060"/>
<circle cx="348.7" cy="489.9" r="2.6" fill="#000000"/>
<circle cx="355.1" cy="492.3" r="2.6" fill="#000000"/>
<circle cx="361.5" cy="492.3" r="2.6" fill="#000000"/>
<circle cx="367.9" cy="492.3" r="2.6" fill="#000000"/>
<circle cx="374.3" cy="482.8" r="2.6" fill="#000000"/>
<circle cx="380.7" cy="482.8" r="2.6" fill="#000000"/>
<circle cx="387.1" cy="481.5" r="2.6" fill="#000000"/>
<circle cx="393.5" cy="493.1" r="2.6" fill="#000000"/>
<circle cx="406.3" cy="486.5" r="2.6" fill="#000000"/>
<circle cx="425.4" cy="476.3" r="2.6" fill="#000000"/>
<circle cx="431.8" cy="487.5" r="2.6" fill="#000000"/>
<circle cx="438.2" cy="476.3" r="2.6" fill="#000000"/>
<circle cx="444.6" cy="475.9" r="2.6" fill="#000000"/>
<circle cx="451" cy="476.3" r="2.6" fill="#000000"/>
<circle cx="457.4" cy="475.9" r="2.6" fill="#000000"/>
<circle cx="463.8" cy="475.9" r="2.6" fill="#000000"/>
<circle cx="470.2" cy="487.5" r="2.6" fill="#000000"/>
<circle cx="483" cy="475.3" r="2.6" fill="#000000"/>
<circle cx="489.4" cy="481.5" r="2.6" fill="#000000"/>
<circle cx="495.8" cy="481.5" r="2.6" fill="#000000"/>
<circle cx="502.2" cy="484.9" r="2.6" fill="#000000"/>
<circle cx="521.3" cy="485.2" r="2.6" fill="#000000"/>
<circle cx="527.7" cy="483.4" r="2.6" fill="#000000"/>
<circle cx="540.5" cy="487.5" r="2.6" fill="#000000"/>
<circle cx="546.9" cy="487.7" r="2.6" fill="#000000"/>
<circle cx="553.3" cy="486.5" r="2.6" fill="#000000"/>
<circle cx="559.7" cy="474.6" r="2.6" fill="#000000"/>
<circle cx="566.1" cy="496.4" r="2.6" fill="#000000"/>
<circle cx="585.3" cy="486.2" r="2.6" fill="#000000"/>
<circle cx="591.7" cy="485.2" r="2.6" fill="#000000"/>
<circle cx="604.4" cy="475.9" r="2.6" fill="#000000"/>
<circle cx="617.2" cy="487.5" r="2.6" fill="#000000"/>
<circle cx="623.6" cy="485.2" r="2.6" fill="#000000"/>
<circle cx="630" cy="484.9" r="2.6" fill="#000000"/>
<circle cx="636.4" cy="486.2" r="2.6" fill="#000000"/>
<circle cx="642.8" cy="476.5" r="2.6" fill="#000000"/>
<circle cx="649.2" cy="489.9" r="2.6" fill="#000000"/>
<circle cx="655.6" cy="479.6" r="2.6" fill="#000000"/>
<circle cx="662" cy="479.6" r="2.6" fill="#000000"/>
<circle cx="668.4" cy="477.4" r="2.6" fill="#000000"/>
<circle cx="674.8" cy="478.7" r="2.6" fill="#000000"/>
<circle cx="681.2" cy="482.8" r="2.6" fill="#000000"/>
<circle cx="687.6" cy="482.8" r="2.6" fill="#000000"/>
<circle cx="694" cy="496.1" r="2.6" fill="#000000"/>
<circle cx="700.3" cy="498.3" r="2.6" fill="#000000"/>
<circle cx="706.7" cy="497.4" r="2.6" fill="#000000"/>
<circle cx="713.1" cy="493.3" r="2.6" fill="#000000"/>
<circle cx="719.5" cy="481.5" r="2.6" fill="#000000"/>
<circle cx="738.7" cy="490.8" r="2.6" fill="#000000"/>
<circle cx="745.1" cy="487.1" r="2.6" fill="#000000"/>
<circle cx="751.5" cy="481.5" r="2.6" fill="#000000"/>
<circle cx="757.9" cy="479.3" r="2.6" fill="#000000"/>
<circle cx="764.3" cy="479.6" r="2.6" fill="#000000"/>
<circle cx="770.7" cy="492.2" r="2.6" fill="#000000"/>
<circle cx="777.1" cy="483" r="2.6" fill="#000000"/>
<circle cx="783.5" cy="477.4" r="2.6" fill="#000000"/>
<circle cx="789.9" cy="485.2" r="2.6" fill="#000000"/>
<circle cx="796.2" cy="481.5" r="2.6" fill="#000000"/>
<circle cx="802.6" cy="485.2" r="2.6" fill="#000000"/>
<circle cx="809" cy="495" r="2.6" fill="#000000"/>
<circle cx="815.4" cy="482.8" r="2.6" fill="#000000"/>
<circle cx="821.8" cy="480" r="2.6" fill="#000000"/>
<circle cx="828.2" cy="495.5" r="2.6" fill="#000000"/>
<circle cx="834.6" cy="496.4" r="2.6" fill="#000000"/>
<circle cx="841" cy="496.1" r="2.6" fill="#000000"/>
<polyline points="348.7,460 355.1,476.8 361.5,475.3 367.9,479.1 374.3,468.4 380.7,451.6 387.1,453.5 393.5,454.4 399.9,453.5 406.3,452.9 412.6,455.4 419,453.5 425.4,452.9 431.8,452.9 438.2,452.9 444.6,454.4 451,454.8 457.4,454.4 463.8,455.4 470.2,469.4 476.6,455.4 483,457.2 489.4,456.3 495.8,454 502.2,454.8 508.5,454.8 514.9,454.4 521.3,455.4 527.7,455.9 534.1,455.4 540.5,455.4 546.9,482.1 553.3,475 559.7,456.3 566.1,474 572.5,456.3 578.9,454.4 585.3,480.2 591.7,459.5 598.1,461.9 604.4,464.1 610.8,463.4 617.2,476.8 623.6,477.4 630,466.6 636.4,478.7 642.8,468.4 649.2,482.1 655.6,472.2 662,461.9 668.4,460 674.8,462.8 681.2,476.8 687.6,475.9 694,476.8 700.3,469 706.7,482.4 713.1,480.2 719.5,461 725.9,456.7 732.3,456.7 738.7,486.2 745.1,486.2 751.5,471.2 757.9,456.3 764.3,455.9 770.7,475.9 777.1,474.6 783.5,458.2 789.9,476.8 796.2,468.4 802.6,460 809,472.2 815.4,458.2 821.8,459.1 828.2,458.5 834.6,458.5 841,458.5" fill="none" stroke="#ff9000" stroke-width="1.8" stroke-linejoin="round"/>
</g>
<clipPath id="cC"><rect x="348.5" y="525.5" width="493" height="78"/></clipPath>
<g clip-path="url(#cC)">
<polygon points="348.5,549.9 355.1,546.2 361.5,533.1 367.9,530.6 374.3,543.4 380.7,534 387.1,532.1 393.5,533.1 399.9,543.4 406.3,560.2 412.6,555.5 419,558.3 425.4,545.2 431.8,557.4 438.2,538.7 444.6,531.2 451,530.3 457.4,532.1 463.8,549.9 470.2,534 476.6,549 483,546.2 489.4,533.1 495.8,527.5 502.2,553.6 508.5,577 514.9,574.2 521.3,531.2 527.7,543.4 534.1,555.5 540.5,550.8 546.9,529.3 553.3,528.4 559.7,540.5 566.1,530.3 572.5,554.6 578.9,557.4 585.3,556.4 591.7,560.2 598.1,568.6 604.4,544.3 610.8,554.6 617.2,526.5 623.6,526.5 630,534.9 636.4,534 642.8,546.2 649.2,531.2 655.6,537.7 662,529.3 668.4,531.2 674.8,526.5 681.2,527.1 687.6,528.4 694,527.5 700.3,527.5 706.7,532.1 713.1,527.5 719.5,549 725.9,547.1 732.3,549.9 738.7,544.3 745.1,530.3 751.5,527.5 757.9,527.1 764.3,527.5 770.7,526 777.1,528.4 783.5,531.2 789.9,528.4 796.2,537.7 802.6,527.5 809,529.3 815.4,527.5 821.8,529.3 828.2,549 834.6,531.2 841.5,526.5 841.5,604 348.5,604" fill="#a0a0a0"/>
<polygon points="348.5,549.9 355.1,546.2 361.5,533.1 367.9,530.6 374.3,543.4 380.7,534 387.1,532.1 393.5,533.1 399.9,543.4 406.3,560.2 412.6,555.5 419,558.3 425.4,545.2 431.8,557.4 438.2,561.5 444.6,556.4 451,548 457.4,556.4 463.8,577.9 470.2,550.8 476.6,549 483,546.2 489.4,542.4 495.8,534 502.2,553.6 508.5,577 514.9,574.2 521.3,531.2 527.7,543.4 534.1,555.5 540.5,550.8 546.9,542.4 553.3,535.9 559.7,540.5 566.1,530.3 572.5,554.6 578.9,557.4 585.3,556.4 591.7,560.2 598.1,568.6 604.4,563.9 610.8,559.2 617.2,528.4 623.6,526.5 630,537.7 636.4,537.7 642.8,546.2 649.2,531.2 655.6,537.7 662,529.3 668.4,537.7 674.8,529.3 681.2,528.4 687.6,544.3 694,527.5 700.3,527.5 706.7,532.1 713.1,527.5 719.5,549 725.9,547.1 732.3,549.9 738.7,544.3 745.1,531.2 751.5,532.1 757.9,539.6 764.3,530.3 770.7,535.9 777.1,531.2 783.5,535.9 789.9,528.4 796.2,537.7 802.6,527.5 809,529.3 815.4,527.5 821.8,529.3 828.2,549.9 834.6,535.9 841.5,537.7 841.5,604 348.5,604" fill="#555555"/>
<polygon points="348.5,603.5 355.1,603.5 361.5,603.5 367.9,603.5 374.3,603.5 380.7,603.5 387.1,603.5 393.5,603.5 399.9,603.5 406.3,603.5 412.6,603.5 419,603.5 425.4,603.5 431.8,603.5 438.2,603.5 444.6,603.5 451,603.5 457.4,603.5 463.8,603.5 470.2,603.5 476.6,603.5 483,603.5 489.4,603.5 495.8,603.5 502.2,603.5 508.5,603.5 514.9,603.5 521.3,603.5 527.7,603.5 534.1,603.5 540.5,598.5 546.9,596.6 553.3,595.7 559.7,593.8 566.1,584.4 572.5,594.7 578.9,598.5 585.3,602.2 591.7,594.7 598.1,589.1 604.4,585.4 610.8,583.5 617.2,578.8 623.6,579.8 630,574.2 636.4,568.6 642.8,563.9 649.2,550.8 655.6,565.8 662,572.3 668.4,576 674.8,581.6 681.2,564.8 687.6,583.5 694,582.6 700.3,576 706.7,589.1 713.1,593.8 719.5,600.3 725.9,603.5 732.3,603.5 738.7,603.5 745.1,603.5 751.5,603.5 757.9,603.5 764.3,598.5 770.7,592.9 777.1,589.1 783.5,586.3 789.9,579.8 796.2,576 802.6,573.8 809,576 815.4,581.6 821.8,589.1 828.2,591.9 834.6,592.9 841.5,591 841.5,604 348.5,604" fill="#3a3a3a"/>
<polyline points="348.7,552.7 355.1,548 361.5,534 367.9,553.6 374.3,601.3 380.7,602.2 387.1,594.7 393.5,563.9 399.9,602.2 406.3,602.2 412.6,583.5 419,593.8 425.4,553.6 431.8,554.6 438.2,561.5 444.6,556.4 451,548 457.4,556.4 463.8,577.9 470.2,550.8 476.6,555.5 483,561.1 489.4,533.1 495.8,529.3 502.2,563 508.5,596.6 514.9,602.2 521.3,593.8 527.7,591.9 534.1,584.4 540.5,561.1 546.9,540.5 553.3,534 559.7,545.2 566.1,543.4 572.5,592.9 578.9,589.1 585.3,579.8 591.7,593.8 598.1,567.6 604.4,563.9 610.8,559.2 617.2,528.4 623.6,526.5 630,537.7 636.4,536.8 642.8,570.4 649.2,549.9 655.6,566.7 662,540.5 668.4,534 674.8,529.3 681.2,528.4 687.6,544.3 694,528.4 700.3,544.3 706.7,532.1 713.1,539.6 719.5,570.4 725.9,603.1 732.3,581.6 738.7,557.4 745.1,531.2 751.5,532.1 757.9,539.6 764.3,530.3 770.7,535.9 777.1,531.2 783.5,535.9 789.9,528.4 796.2,548 802.6,528.4 809,534.9 815.4,539.6 821.8,530.3 828.2,549.9 834.6,549.9 841,527.5" fill="none" stroke="#b4b4b4" stroke-width="1"/>
<rect x="481.5" y="600.3" width="3" height="3.7" rx="1" fill="#ffb000"/>
<rect x="487.9" y="598.8" width="3" height="5.2" rx="1" fill="#ffb000"/>
<rect x="526.2" y="601.6" width="3" height="2.4" rx="1" fill="#ffb000"/>
<rect x="564.6" y="601.6" width="3" height="2.4" rx="1" fill="#ffb000"/>
<rect x="590.2" y="597.5" width="3" height="6.5" rx="1" fill="#ffb000"/>
<rect x="596.6" y="591.4" width="3" height="12.6" rx="1" fill="#ffb000"/>
<rect x="602.9" y="586.3" width="3" height="17.7" rx="1" fill="#ffb000"/>
<rect x="609.3" y="591.9" width="3" height="12.1" rx="1" fill="#ffb000"/>
<rect x="615.7" y="596.6" width="3" height="7.4" rx="1" fill="#ffb000"/>
<rect x="622.1" y="598.5" width="3" height="5.5" rx="1" fill="#ffb000"/>
<rect x="628.5" y="597.5" width="3" height="6.5" rx="1" fill="#ffb000"/>
<rect x="634.9" y="592.5" width="3" height="11.5" rx="1" fill="#ffb000"/>
<rect x="641.3" y="585.4" width="3" height="18.6" rx="1" fill="#ffb000"/>
<rect x="647.7" y="582.6" width="3" height="21.4" rx="1" fill="#ffb000"/>
<rect x="654.1" y="590.4" width="3" height="13.6" rx="1" fill="#ffb000"/>
<rect x="660.5" y="591.4" width="3" height="12.6" rx="1" fill="#ffb000"/>
<rect x="666.9" y="595.7" width="3" height="8.3" rx="1" fill="#ffb000"/>
<rect x="673.3" y="596.6" width="3" height="7.4" rx="1" fill="#ffb000"/>
<rect x="679.7" y="594.4" width="3" height="9.6" rx="1" fill="#ffb000"/>
<rect x="686.1" y="595.7" width="3" height="8.3" rx="1" fill="#ffb000"/>
<rect x="692.5" y="597.5" width="3" height="6.5" rx="1" fill="#ffb000"/>
<rect x="698.8" y="600.3" width="3" height="3.7" rx="1" fill="#ffb000"/>
<rect x="705.2" y="601.6" width="3" height="2.4" rx="1" fill="#ffb000"/>
<rect x="711.6" y="601.6" width="3" height="2.4" rx="1" fill="#ffb000"/>
<rect x="788.4" y="601.6" width="3" height="2.4" rx="1" fill="#ffb000"/>
<rect x="794.7" y="600.7" width="3" height="3.3" rx="1" fill="#ffb000"/>
<rect x="801.1" y="600.7" width="3" height="3.3" rx="1" fill="#ffb000"/>
<rect x="807.5" y="601.6" width="3" height="2.4" rx="1" fill="#ffb000"/>
<polyline points="348.7,603.5 355.1,603.5 361.5,603.5 367.9,603.5 374.3,603.5 380.7,603.5 387.1,603.5 393.5,603.5 399.9,603.5 406.3,603.5 412.6,603.5 419,603.5 425.4,603.5 431.8,603.5 438.2,603.5 444.6,603.5 451,603.5 457.4,603.5 463.8,603.5 470.2,603.1 476.6,599.4 483,590.1 489.4,591.9 495.8,593.4 502.2,584.4 508.5,587.6 514.9,590.1 521.3,591.9 527.7,591.5 534.1,600.3 540.5,595.3 546.9,599.4 553.3,603.1 559.7,603.5 566.1,603.5 572.5,603.5 578.9,603.5 585.3,603.5 591.7,603.5 598.1,603.5 604.4,603.5 610.8,603.5 617.2,598.5 623.6,596.6 630,597.5 636.4,591 642.8,585.4 649.2,580.7 655.6,585.4 662,581.6 668.4,603.1 674.8,603.1 681.2,599.4 687.6,598.5 694,592.5 700.3,594.4 706.7,596.2 713.1,597.2 719.5,601.3 725.9,602.2 732.3,585.4 738.7,603.1 745.1,603.5 751.5,603.5 757.9,603.5 764.3,591 770.7,585.4 777.1,588.2 783.5,587.3 789.9,593.8 796.2,600.3 802.6,602.2 809,602.2 815.4,603.1 821.8,603.1 828.2,601.3 834.6,600.3 841,595.7" fill="none" stroke="#ffffff" stroke-width="1.3" stroke-linejoin="round"/>
</g>
<clipPath id="lT"><rect x="135.5" y="57.5" width="110" height="76.5"/></clipPath>
<g clip-path="url(#lT)">
<polygon points="135.6,109.4 156.7,110.3 184.7,113.1 212.7,115.9 233.3,119.7 245.4,114.1 245.4,134.6 135.6,134.6" fill="#aadcfc"/>
<polygon points="135.6,112.2 156.7,113.7 170.7,117.8 184.7,121.5 198.7,125.3 212.7,129 226.2,131.8 233.3,129.9 240.8,123.4 245.4,122.5 245.4,134.6 135.6,134.6" fill="#84cffa"/>
<polygon points="170.2,117.8 184.7,121.5 198.7,125.3 212.7,129 226.2,131.8 231.8,130.9 231.8,134.6 170.2,134.6" fill="#88b8e8" opacity="0.35"/>
<polygon points="135.6,87.9 142.7,91.6 156.7,96.3 170.7,101.9 184.7,105.7 198.7,108.5 212.7,110 226.2,110.7 233.3,112.2 240.2,107.5 245.4,105.7 245.4,117.8 240.2,120.6 233.3,126.2 226.2,123.4 212.7,121.5 198.7,119.7 184.7,117.8 170.7,115 156.7,110.3 142.7,105.7 135.6,103.8" fill="#ffe6dc"/>
<line x1="142.7" y1="70.2" x2="142.7" y2="100.1" stroke="#a81818" stroke-width="1"/>
<line x1="149.6" y1="78.6" x2="149.6" y2="93.5" stroke="#a81818" stroke-width="1"/>
<line x1="156.7" y1="87" x2="156.7" y2="101.9" stroke="#a81818" stroke-width="1"/>
<line x1="163.6" y1="96.3" x2="163.6" y2="107.5" stroke="#a81818" stroke-width="1"/>
<line x1="170.7" y1="101" x2="170.7" y2="114.1" stroke="#a81818" stroke-width="1"/>
<line x1="177.6" y1="102.9" x2="177.6" y2="117.8" stroke="#a81818" stroke-width="1"/>
<line x1="184.7" y1="104.7" x2="184.7" y2="123.4" stroke="#a81818" stroke-width="1"/>
<line x1="191.6" y1="106.6" x2="191.6" y2="123.4" stroke="#a81818" stroke-width="1"/>
<line x1="198.7" y1="107.5" x2="198.7" y2="125.3" stroke="#a81818" stroke-width="1"/>
<line x1="205.6" y1="108.5" x2="205.6" y2="128.1" stroke="#a81818" stroke-width="1"/>
<line x1="212.7" y1="108.5" x2="212.7" y2="129" stroke="#a81818" stroke-width="1"/>
<line x1="219.7" y1="110.3" x2="219.7" y2="130.9" stroke="#a81818" stroke-width="1"/>
<line x1="226.2" y1="110.3" x2="226.2" y2="132.7" stroke="#a81818" stroke-width="1"/>
<line x1="233.3" y1="110.3" x2="233.3" y2="132.7" stroke="#a81818" stroke-width="1"/>
<line x1="240.2" y1="105.7" x2="240.2" y2="120.6" stroke="#a81818" stroke-width="1"/>
<polyline points="135.6,102.9 142.7,103.8 149.2,105.7 156.7,108.5 163.6,110.3 170.7,111.3 177.6,114.1 184.7,114.1 191.6,115.9 198.7,117.4 205.6,118.4 212.7,118.7 219.7,116.9 226.2,120.6 233.3,122.5 240.2,115.9 245.4,115.6" fill="none" stroke="#0000ff" stroke-width="2" stroke-linejoin="round"/>
<polyline points="135.6,99.5 142.7,100.1 149.2,101.9 156.7,104.7 163.6,108.1 170.7,110.9 177.6,112.2 184.7,112.8 191.6,113.1 198.7,113.1 205.6,113.7 212.7,114.6 219.7,115 226.2,115.9 233.3,118.7 240.2,114.1 245.4,111.3" fill="none" stroke="#ff0000" stroke-width="2" stroke-linejoin="round"/>
<rect x="142" y="112" width="2.5" height="2.5" fill="#6a5acd"/>
<rect x="149" y="113" width="2.5" height="2.5" fill="#6a5acd"/>
<rect x="156" y="114" width="2.5" height="2.5" fill="#6a5acd"/>
<rect x="163" y="114" width="2.5" height="2.5" fill="#6a5acd"/>
<rect x="219" y="119" width="2.5" height="2.5" fill="#6a5acd"/>
<rect x="225" y="120" width="2.5" height="2.5" fill="#6a5acd"/>
<rect x="239" y="118" width="2.5" height="2.5" fill="#6a5acd"/>
</g>
<clipPath id="lP"><rect x="135.5" y="143.5" width="110" height="77"/></clipPath>
<g clip-path="url(#lP)">
<rect x="135.6" y="187.3" width="8.3" height="33.6" fill="#10a010" shape-rendering="crispEdges"/>
<rect x="143.6" y="180.8" width="6.8" height="40.2" fill="#10a010" shape-rendering="crispEdges"/>
<rect x="150.2" y="178.9" width="6.8" height="42" fill="#10a010" shape-rendering="crispEdges"/>
<rect x="156.7" y="202.3" width="7.8" height="18.7" fill="#10a010" shape-rendering="crispEdges"/>
<rect x="156.7" y="181.7" width="7.8" height="20.5" fill="#1030d0" shape-rendering="crispEdges"/>
<rect x="164.2" y="207.9" width="5.9" height="13.1" fill="#10a010" shape-rendering="crispEdges"/>
<rect x="164.2" y="205.1" width="5.9" height="2.8" fill="#1030d0" shape-rendering="crispEdges"/>
<rect x="169.8" y="218.1" width="7.4" height="2.8" fill="#10a010" shape-rendering="crispEdges"/>
<line x1="139.5" y1="164.9" x2="139.5" y2="187.3" stroke="#10b010" stroke-width="1"/>
<line x1="146.4" y1="148.1" x2="146.4" y2="180.8" stroke="#10b010" stroke-width="1"/>
<line x1="153.3" y1="148.1" x2="153.3" y2="178.9" stroke="#10b010" stroke-width="1"/>
<rect x="144.9" y="146" width="3" height="3" fill="#f00000"/>
<rect x="151.8" y="146" width="3" height="3" fill="#f00000"/>
<rect x="138" y="219.1" width="2.6" height="1.6" fill="#e8001c"/>
<rect x="146.4" y="219.1" width="2.6" height="1.6" fill="#e8001c"/>
<rect x="153.2" y="219.1" width="2.6" height="1.6" fill="#e8001c"/>
<rect x="160.3" y="219.1" width="2.6" height="1.6" fill="#e8001c"/>
<polyline points="138,171.4 142.7,168.6 149.6,158.4 156.7,154.6 163.6,153.1 170.7,152.4 184.7,152.4 191.6,149 198.7,149 205.6,153.7 212.7,155.5 219.7,151.8 226.2,149.4 233.3,151.8 240.2,157.4 245.4,164.9" fill="none" stroke="#e8501e" stroke-width="1.8" stroke-linejoin="round"/>
<circle cx="139.5" cy="173.3" r="2" fill="#ffe000" stroke="#000" stroke-width="0.9"/>
<circle cx="146.4" cy="173.3" r="2" fill="#ff9000" stroke="#000" stroke-width="0.9"/>
<circle cx="153.3" cy="173.3" r="2" fill="#f00000" stroke="#000" stroke-width="0.9"/>
</g>
<clipPath id="lR"><rect x="135.5" y="229.5" width="110" height="77"/></clipPath>
<g clip-path="url(#lR)">
<polygon points="135.6,260.9 143.6,260.3 149.6,253.8 156.7,249.6 164.2,249.1 170.2,245.4 177.6,249.1 184.7,250.6 192.2,253.8 198.7,254.1 225.8,254.1 233.3,257.5 240.2,261.6 245.4,265.3 245.5,307 135.5,307" fill="#ffff00"/>
<polygon points="166,248.2 170.2,245.4 170.2,307 166,307" fill="#ffd800"/>
<polyline points="135.6,260.9 143.6,260.3 149.6,253.8 156.7,249.6 164.2,249.1 170.2,245.4 177.6,249.1 184.7,250.6 192.2,253.8 198.7,254.1 225.8,254.1 233.3,257.5 240.2,261.6 245.4,265.3" fill="none" stroke="#000" stroke-width="2" stroke-linejoin="round"/>
</g>
<clipPath id="lW"><rect x="135.5" y="315.5" width="110" height="77"/></clipPath>
<g clip-path="url(#lW)">
<clipPath id="lWa"><polygon points="135.2,366.1 142.5,369.1 149.4,371.1 157.3,372 164.2,373.4 169.1,374.6 177,375.6 183.9,375.6 190.8,374 197.7,373 210.5,373 225.2,373 232.1,371.5 239,370.1 245.5,369.7 245.5,393 135.5,393"/></clipPath>
<g clip-path="url(#lWa)">
<rect x="135.2" y="315" width="13.5" height="80" fill="#20c020"/>
<rect x="148.4" y="315" width="21" height="80" fill="#107010"/>
<rect x="169.1" y="315" width="27.9" height="80" fill="#003c80"/>
<rect x="196.7" y="315" width="14.5" height="80" fill="#107010"/>
<rect x="210.8" y="315" width="14.7" height="80" fill="#003c80"/>
<rect x="225.2" y="315" width="14.1" height="80" fill="#107010"/>
<rect x="239" y="315" width="7.2" height="80" fill="#20c020"/>
</g>
<polyline points="135.2,366.1 142.5,369.1 149.4,371.1 157.3,372 164.2,373.4 169.1,374.6 177,375.6 183.9,375.6 190.8,374 197.7,373 210.5,373 225.2,373 232.1,371.5 239,370.1 245.5,369.7" fill="none" stroke="#000090" stroke-width="1.8" stroke-linejoin="round"/>
<line x1="142.5" y1="341.5" x2="148.4" y2="341.5" stroke="#f00000" stroke-width="1"/>
<line x1="148.4" y1="347.5" x2="156.3" y2="347.5" stroke="#f00000" stroke-width="1"/>
<line x1="156.3" y1="348.5" x2="162.2" y2="348.5" stroke="#f00000" stroke-width="1"/>
<line x1="162.2" y1="351.5" x2="169.1" y2="351.5" stroke="#f00000" stroke-width="1"/>
<line x1="169.1" y1="355.5" x2="177" y2="355.5" stroke="#f00000" stroke-width="1"/>
<line x1="177" y1="358.5" x2="183.9" y2="358.5" stroke="#f00000" stroke-width="1"/>
<line x1="183.9" y1="354.5" x2="189.8" y2="354.5" stroke="#f00000" stroke-width="1"/>
<line x1="189.8" y1="351.5" x2="197.7" y2="351.5" stroke="#f00000" stroke-width="1"/>
<line x1="197.7" y1="350.5" x2="204.5" y2="350.5" stroke="#f00000" stroke-width="1"/>
<line x1="204.5" y1="350.5" x2="211.4" y2="350.5" stroke="#f00000" stroke-width="1"/>
<line x1="211.4" y1="351.5" x2="225.2" y2="351.5" stroke="#f00000" stroke-width="1"/>
<line x1="225.2" y1="347.5" x2="232.1" y2="347.5" stroke="#f00000" stroke-width="1"/>
<line x1="232.1" y1="343.5" x2="239" y2="343.5" stroke="#f00000" stroke-width="1"/>
<line x1="239" y1="342.5" x2="245.5" y2="342.5" stroke="#f00000" stroke-width="1"/>
<polygon points="137.6,318.9 139.9,316.3 140.1,319.5" fill="#f00000"/>
</g>
<clipPath id="lD"><rect x="130" y="399" width="125" height="30.5"/></clipPath>
<g stroke="#000098" fill="#000098" stroke-width="1.1" clip-path="url(#lD)">
<line x1="133" y1="405" x2="137.2" y2="417.4"/>
<polygon stroke="none" points="139.5,424 134.4,418.3 140.1,416.4"/>
<line x1="140" y1="405" x2="144.2" y2="417.4"/>
<polygon stroke="none" points="146.5,424 141.4,418.3 147.1,416.4"/>
<line x1="147" y1="405" x2="151.2" y2="417.4"/>
<polygon stroke="none" points="153.5,424 148.4,418.3 154.1,416.4"/>
<line x1="154" y1="405" x2="158.2" y2="417.4"/>
<polygon stroke="none" points="160.5,424 155.4,418.3 161.1,416.4"/>
<line x1="161" y1="405" x2="165.2" y2="417.4"/>
<polygon stroke="none" points="167.5,424 162.4,418.3 168.1,416.4"/>
<line x1="168" y1="405" x2="172.2" y2="417.4"/>
<polygon stroke="none" points="174.5,424 169.4,418.3 175.1,416.4"/>
<line x1="175" y1="405" x2="179.2" y2="417.4"/>
<polygon stroke="none" points="181.5,424 176.4,418.3 182.1,416.4"/>
<line x1="182" y1="405" x2="186.2" y2="417.4"/>
<polygon stroke="none" points="188.5,424 183.4,418.3 189.1,416.4"/>
<line x1="189" y1="405" x2="193.2" y2="417.4"/>
<polygon stroke="none" points="195.5,424 190.4,418.3 196.1,416.4"/>
<line x1="196" y1="405" x2="200.2" y2="417.4"/>
<polygon stroke="none" points="202.5,424 197.4,418.3 203.1,416.4"/>
<line x1="203" y1="405" x2="207.2" y2="417.4"/>
<polygon stroke="none" points="209.5,424 204.4,418.3 210.1,416.4"/>
<line x1="210" y1="405" x2="214.2" y2="417.4"/>
<polygon stroke="none" points="216.5,424 211.4,418.3 217.1,416.4"/>
<line x1="217" y1="405" x2="221.2" y2="417.4"/>
<polygon stroke="none" points="223.5,424 218.4,418.3 224.1,416.4"/>
<line x1="224" y1="405" x2="228.2" y2="417.4"/>
<polygon stroke="none" points="230.5,424 225.4,418.3 231.1,416.4"/>
<line x1="231" y1="405" x2="235.2" y2="417.4"/>
<polygon stroke="none" points="237.5,424 232.4,418.3 238.1,416.4"/>
<line x1="238" y1="405" x2="242.2" y2="417.4"/>
<polygon stroke="none" points="244.5,424 239.4,418.3 245.1,416.4"/>
<line x1="245" y1="405" x2="249.2" y2="417.4"/>
<polygon stroke="none" points="251.5,424 246.4,418.3 252.1,416.4"/>
</g>
<clipPath id="lB"><rect x="135.5" y="436.5" width="110" height="77"/></clipPath>
<g clip-path="url(#lB)">
<circle cx="143.6" cy="505.7" r="2.5" fill="#ffffff"/>
<circle cx="150.7" cy="500.3" r="2.5" fill="#ffffff"/>
<circle cx="164.2" cy="499.4" r="2.5" fill="#ffffff"/>
<circle cx="170.7" cy="492.3" r="2.5" fill="#ffffff"/>
<circle cx="191.6" cy="500.3" r="2.5" fill="#ffffff"/>
<circle cx="204.7" cy="492.3" r="2.5" fill="#ffffff"/>
<circle cx="184.7" cy="509.4" r="2.5" fill="#ffffff"/>
<circle cx="218.4" cy="509.4" r="2.5" fill="#ffffff"/>
<circle cx="225.8" cy="509.4" r="2.5" fill="#ffffff"/>
<circle cx="232.7" cy="509.4" r="2.5" fill="#ffffff"/>
<circle cx="239.8" cy="509.4" r="2.5" fill="#ffffff"/>
<circle cx="211.8" cy="492.3" r="2.5" fill="#ffffff"/>
<circle cx="170.7" cy="489.4" r="2.5" fill="#d4d4d4"/>
<circle cx="177.6" cy="489.4" r="2.5" fill="#d4d4d4"/>
<circle cx="198.7" cy="490.4" r="2.5" fill="#d4d4d4"/>
<circle cx="211.8" cy="489.4" r="2.5" fill="#d4d4d4"/>
<circle cx="137.1" cy="505.3" r="2.5" fill="#d4d4d4"/>
<circle cx="225.8" cy="500.3" r="2.5" fill="#d4d4d4"/>
<circle cx="239.8" cy="500.3" r="2.5" fill="#d4d4d4"/>
<circle cx="245.4" cy="500.3" r="2.5" fill="#d4d4d4"/>
<circle cx="143.6" cy="500.3" r="2.5" fill="#a2a2a2"/>
<circle cx="198.7" cy="485.2" r="2.5" fill="#a2a2a2"/>
<circle cx="211.8" cy="485.2" r="2.5" fill="#a2a2a2"/>
<circle cx="239.8" cy="494.5" r="2.5" fill="#a2a2a2"/>
<circle cx="218.4" cy="500.3" r="2.5" fill="#a2a2a2"/>
<circle cx="232.7" cy="500.3" r="2.5" fill="#a2a2a2"/>
<circle cx="184.7" cy="504.4" r="2.5" fill="#a2a2a2"/>
<circle cx="143.6" cy="481" r="2.5" fill="#606060"/>
<circle cx="150.7" cy="492.3" r="2.5" fill="#606060"/>
<circle cx="157.6" cy="492.3" r="2.5" fill="#606060"/>
<circle cx="164.2" cy="492.3" r="2.5" fill="#606060"/>
<circle cx="191.6" cy="489.4" r="2.5" fill="#606060"/>
<circle cx="198.7" cy="468.9" r="2.5" fill="#606060"/>
<circle cx="211.8" cy="481" r="2.5" fill="#606060"/>
<circle cx="218.4" cy="489.4" r="2.5" fill="#606060"/>
<circle cx="225.8" cy="492.3" r="2.5" fill="#606060"/>
<circle cx="232.7" cy="494.1" r="2.5" fill="#606060"/>
<circle cx="184.7" cy="500.3" r="2.5" fill="#606060"/>
<circle cx="191.6" cy="456.4" r="2.5" fill="#000000"/>
<circle cx="198.7" cy="464.2" r="2.5" fill="#000000"/>
<circle cx="204.7" cy="468.3" r="2.5" fill="#000000"/>
<circle cx="211.8" cy="470.2" r="2.5" fill="#000000"/>
<circle cx="184.7" cy="489.4" r="2.5" fill="#000000"/>
<circle cx="218.4" cy="481" r="2.5" fill="#000000"/>
<circle cx="225.8" cy="485.2" r="2.5" fill="#000000"/>
<circle cx="232.7" cy="489.4" r="2.5" fill="#000000"/>
<circle cx="239.8" cy="481" r="2.5" fill="#000000"/>
<circle cx="245.4" cy="475.8" r="2.5" fill="#000000"/>
<circle cx="137.1" cy="475.4" r="2.5" fill="#b02222"/>
<circle cx="143.6" cy="475.4" r="2.5" fill="#b02222"/>
<circle cx="150.7" cy="458.6" r="2.5" fill="#b02222"/>
<circle cx="157.6" cy="458.6" r="2.5" fill="#b02222"/>
<circle cx="164.2" cy="460.1" r="2.5" fill="#b02222"/>
<circle cx="170.7" cy="451.2" r="2.5" fill="#b02222"/>
<circle cx="177.6" cy="449.3" r="2.5" fill="#b02222"/>
<circle cx="184.7" cy="449.3" r="2.5" fill="#b02222"/>
<circle cx="191.6" cy="449.3" r="2.5" fill="#b02222"/>
<circle cx="198.7" cy="451.2" r="2.5" fill="#b02222"/>
<circle cx="204.3" cy="448.9" r="2.5" fill="#b02222"/>
<circle cx="211.8" cy="449.3" r="2.5" fill="#b02222"/>
<circle cx="218.4" cy="449.3" r="2.5" fill="#b02222"/>
<circle cx="225.8" cy="449.3" r="2.5" fill="#b02222"/>
<circle cx="232.7" cy="449.3" r="2.5" fill="#b02222"/>
<circle cx="239.8" cy="449.3" r="2.5" fill="#b02222"/>
<circle cx="245.4" cy="449.3" r="2.5" fill="#b02222"/>
<polyline points="135.6,470.8 143.6,470.4 149.6,466.5 156.7,464.6 164.2,464.2 179.1,463.9 184.7,466.5 191.6,469.8 198.7,471.1 205.6,471.7 212.7,473.9 219.7,474.9 226.2,474.5 233.3,473.9 240.2,471.1 245.4,469.8" fill="none" stroke="#ff9000" stroke-width="1.8" stroke-linejoin="round"/>
</g>
<clipPath id="lC"><rect x="135.5" y="523.5" width="110" height="78"/></clipPath>
<g clip-path="url(#lC)">
<polygon points="165.1,590.5 170.7,578.7 177.6,566.2 184.7,562.8 190.3,551.2 196.9,545.6 203.4,541.9 211.8,526 218.4,524.1 245.4,524.1 245.4,601.7 165.1,601.7" fill="#ffffff"/>
<polygon points="191.6,601.7 192.2,569.9 195,545.6 198.7,530.7 205.6,532.5 211.8,526.6 218.4,524.5 245.4,524.5 245.4,601.7" fill="#a0a0a0"/>
<polygon points="135.6,575.5 143.6,563.4 149.6,575.5 156.7,583 164.2,586.7 166,590.5 170.7,589.5 177.6,593.3 184.7,568 191.6,569.9 198.7,586.7 205.6,596.1 211.8,577.4 218.4,545.6 225.8,535.4 233.3,541.9 240.2,553.1 245.4,564.3 245.4,601.7 135.6,601.7" fill="#555555"/>
<polygon points="135.6,601.7 139.9,598.9 149.6,590.5 156.7,594.2 164.2,599.8 164.2,601.7" fill="#333333"/>
<polyline points="135.6,588.6 143.6,596.1 149.6,599.8 164.2,601.1" fill="none" stroke="#b4b4b4" stroke-width="1"/>
<polyline points="184.7,601.1 191.6,571.8" fill="none" stroke="#b4b4b4" stroke-width="1"/>
<polyline points="164.2,600.7 166,590.5" fill="none" stroke="#ffffff" stroke-width="1.3" stroke-linejoin="round"/>
<polyline points="191.6,549.4 198.7,544.7 205.6,540 211.8,526.9 218.4,524.3 233.3,524.3 240.2,536.3 245.4,543.8" fill="none" stroke="#ffffff" stroke-width="1.3" stroke-linejoin="round"/>
<rect x="216.9" y="590.5" width="3" height="11.5" fill="#ffb000"/>
<rect x="224.3" y="590.5" width="3" height="11.5" fill="#ffb000"/>
<rect x="231.2" y="590.5" width="3" height="11.5" fill="#ffb000"/>
<rect x="238.3" y="590.5" width="3" height="11.5" fill="#ffb000"/>
</g>
<line x1="348.5" y1="134.5" x2="841.5" y2="134.5" stroke="#7ec4f0" stroke-width="1" shape-rendering="crispEdges"/>
<g stroke="#000" stroke-width="1" stroke-dasharray="2 2" shape-rendering="crispEdges" fill="none">
<line x1="361.5" y1="57.5" x2="361.5" y2="135.5"/>
<line x1="380.5" y1="57.5" x2="380.5" y2="135.5"/>
<line x1="399.5" y1="57.5" x2="399.5" y2="135.5"/>
<line x1="419.5" y1="57.5" x2="419.5" y2="135.5"/>
<line x1="438.5" y1="57.5" x2="438.5" y2="135.5"/>
<line x1="457.5" y1="57.5" x2="457.5" y2="135.5"/>
<line x1="476.5" y1="57.5" x2="476.5" y2="135.5"/>
<line x1="495.5" y1="57.5" x2="495.5" y2="135.5"/>
<line x1="514.5" y1="57.5" x2="514.5" y2="135.5"/>
<line x1="534.5" y1="57.5" x2="534.5" y2="135.5"/>
<line x1="553.5" y1="57.5" x2="553.5" y2="135.5"/>
<line x1="572.5" y1="57.5" x2="572.5" y2="135.5"/>
<line x1="591.5" y1="57.5" x2="591.5" y2="135.5"/>
<line x1="610.5" y1="57.5" x2="610.5" y2="135.5"/>
<line x1="630.5" y1="57.5" x2="630.5" y2="135.5"/>
<line x1="649.5" y1="57.5" x2="649.5" y2="135.5"/>
<line x1="668.5" y1="57.5" x2="668.5" y2="135.5"/>
<line x1="687.5" y1="57.5" x2="687.5" y2="135.5"/>
<line x1="706.5" y1="57.5" x2="706.5" y2="135.5"/>
<line x1="725.5" y1="57.5" x2="725.5" y2="135.5"/>
<line x1="745.5" y1="57.5" x2="745.5" y2="135.5"/>
<line x1="764.5" y1="57.5" x2="764.5" y2="135.5"/>
<line x1="783.5" y1="57.5" x2="783.5" y2="135.5"/>
<line x1="802.5" y1="57.5" x2="802.5" y2="135.5"/>
<line x1="821.5" y1="57.5" x2="821.5" y2="135.5"/>
<line x1="348.5" y1="77.5" x2="841.5" y2="77.5"/>
<line x1="348.5" y1="106.5" x2="841.5" y2="106.5"/>
<line x1="348.5" y1="134.5" x2="841.5" y2="134.5"/>
<line x1="361.5" y1="143.5" x2="361.5" y2="221.5"/>
<line x1="380.5" y1="143.5" x2="380.5" y2="221.5"/>
<line x1="399.5" y1="143.5" x2="399.5" y2="221.5"/>
<line x1="419.5" y1="143.5" x2="419.5" y2="221.5"/>
<line x1="438.5" y1="143.5" x2="438.5" y2="221.5"/>
<line x1="457.5" y1="143.5" x2="457.5" y2="221.5"/>
<line x1="476.5" y1="143.5" x2="476.5" y2="221.5"/>
<line x1="495.5" y1="143.5" x2="495.5" y2="221.5"/>
<line x1="514.5" y1="143.5" x2="514.5" y2="221.5"/>
<line x1="534.5" y1="143.5" x2="534.5" y2="221.5"/>
<line x1="553.5" y1="143.5" x2="553.5" y2="221.5"/>
<line x1="572.5" y1="143.5" x2="572.5" y2="221.5"/>
<line x1="591.5" y1="143.5" x2="591.5" y2="221.5"/>
<line x1="610.5" y1="143.5" x2="610.5" y2="221.5"/>
<line x1="630.5" y1="143.5" x2="630.5" y2="221.5"/>
<line x1="649.5" y1="143.5" x2="649.5" y2="221.5"/>
<line x1="668.5" y1="143.5" x2="668.5" y2="221.5"/>
<line x1="687.5" y1="143.5" x2="687.5" y2="221.5"/>
<line x1="706.5" y1="143.5" x2="706.5" y2="221.5"/>
<line x1="725.5" y1="143.5" x2="725.5" y2="221.5"/>
<line x1="745.5" y1="143.5" x2="745.5" y2="221.5"/>
<line x1="764.5" y1="143.5" x2="764.5" y2="221.5"/>
<line x1="783.5" y1="143.5" x2="783.5" y2="221.5"/>
<line x1="802.5" y1="143.5" x2="802.5" y2="221.5"/>
<line x1="821.5" y1="143.5" x2="821.5" y2="221.5"/>
<line x1="348.5" y1="146.5" x2="841.5" y2="146.5"/>
<line x1="348.5" y1="161.5" x2="841.5" y2="161.5"/>
<line x1="348.5" y1="176.5" x2="841.5" y2="176.5"/>
<line x1="348.5" y1="191.5" x2="841.5" y2="191.5"/>
<line x1="348.5" y1="206.5" x2="841.5" y2="206.5"/>
<line x1="361.5" y1="230.5" x2="361.5" y2="308.5"/>
<line x1="380.5" y1="230.5" x2="380.5" y2="308.5"/>
<line x1="399.5" y1="230.5" x2="399.5" y2="308.5"/>
<line x1="419.5" y1="230.5" x2="419.5" y2="308.5"/>
<line x1="438.5" y1="230.5" x2="438.5" y2="308.5"/>
<line x1="457.5" y1="230.5" x2="457.5" y2="308.5"/>
<line x1="476.5" y1="230.5" x2="476.5" y2="308.5"/>
<line x1="495.5" y1="230.5" x2="495.5" y2="308.5"/>
<line x1="514.5" y1="230.5" x2="514.5" y2="308.5"/>
<line x1="534.5" y1="230.5" x2="534.5" y2="308.5"/>
<line x1="553.5" y1="230.5" x2="553.5" y2="308.5"/>
<line x1="572.5" y1="230.5" x2="572.5" y2="308.5"/>
<line x1="591.5" y1="230.5" x2="591.5" y2="308.5"/>
<line x1="610.5" y1="230.5" x2="610.5" y2="308.5"/>
<line x1="630.5" y1="230.5" x2="630.5" y2="308.5"/>
<line x1="649.5" y1="230.5" x2="649.5" y2="308.5"/>
<line x1="668.5" y1="230.5" x2="668.5" y2="308.5"/>
<line x1="687.5" y1="230.5" x2="687.5" y2="308.5"/>
<line x1="706.5" y1="230.5" x2="706.5" y2="308.5"/>
<line x1="725.5" y1="230.5" x2="725.5" y2="308.5"/>
<line x1="745.5" y1="230.5" x2="745.5" y2="308.5"/>
<line x1="764.5" y1="230.5" x2="764.5" y2="308.5"/>
<line x1="783.5" y1="230.5" x2="783.5" y2="308.5"/>
<line x1="802.5" y1="230.5" x2="802.5" y2="308.5"/>
<line x1="821.5" y1="230.5" x2="821.5" y2="308.5"/>
<line x1="348.5" y1="242.5" x2="841.5" y2="242.5"/>
<line x1="348.5" y1="263.5" x2="841.5" y2="263.5"/>
<line x1="348.5" y1="284.5" x2="841.5" y2="284.5"/>
<line x1="348.5" y1="304.5" x2="841.5" y2="304.5"/>
<line x1="361.5" y1="318.5" x2="361.5" y2="395.5"/>
<line x1="380.5" y1="318.5" x2="380.5" y2="395.5"/>
<line x1="399.5" y1="318.5" x2="399.5" y2="395.5"/>
<line x1="419.5" y1="318.5" x2="419.5" y2="395.5"/>
<line x1="438.5" y1="318.5" x2="438.5" y2="395.5"/>
<line x1="457.5" y1="318.5" x2="457.5" y2="395.5"/>
<line x1="476.5" y1="318.5" x2="476.5" y2="395.5"/>
<line x1="495.5" y1="318.5" x2="495.5" y2="395.5"/>
<line x1="514.5" y1="318.5" x2="514.5" y2="395.5"/>
<line x1="534.5" y1="318.5" x2="534.5" y2="395.5"/>
<line x1="553.5" y1="318.5" x2="553.5" y2="395.5"/>
<line x1="572.5" y1="318.5" x2="572.5" y2="395.5"/>
<line x1="591.5" y1="318.5" x2="591.5" y2="395.5"/>
<line x1="610.5" y1="318.5" x2="610.5" y2="395.5"/>
<line x1="630.5" y1="318.5" x2="630.5" y2="395.5"/>
<line x1="649.5" y1="318.5" x2="649.5" y2="395.5"/>
<line x1="668.5" y1="318.5" x2="668.5" y2="395.5"/>
<line x1="687.5" y1="318.5" x2="687.5" y2="395.5"/>
<line x1="706.5" y1="318.5" x2="706.5" y2="395.5"/>
<line x1="725.5" y1="318.5" x2="725.5" y2="395.5"/>
<line x1="745.5" y1="318.5" x2="745.5" y2="395.5"/>
<line x1="764.5" y1="318.5" x2="764.5" y2="395.5"/>
<line x1="783.5" y1="318.5" x2="783.5" y2="395.5"/>
<line x1="802.5" y1="318.5" x2="802.5" y2="395.5"/>
<line x1="821.5" y1="318.5" x2="821.5" y2="395.5"/>
<line x1="348.5" y1="344.5" x2="841.5" y2="344.5"/>
<line x1="348.5" y1="369.5" x2="841.5" y2="369.5"/>
<line x1="361.5" y1="401.5" x2="361.5" y2="431.5"/>
<line x1="380.5" y1="401.5" x2="380.5" y2="431.5"/>
<line x1="399.5" y1="401.5" x2="399.5" y2="431.5"/>
<line x1="419.5" y1="401.5" x2="419.5" y2="431.5"/>
<line x1="438.5" y1="401.5" x2="438.5" y2="431.5"/>
<line x1="457.5" y1="401.5" x2="457.5" y2="431.5"/>
<line x1="476.5" y1="401.5" x2="476.5" y2="431.5"/>
<line x1="495.5" y1="401.5" x2="495.5" y2="431.5"/>
<line x1="514.5" y1="401.5" x2="514.5" y2="431.5"/>
<line x1="534.5" y1="401.5" x2="534.5" y2="431.5"/>
<line x1="553.5" y1="401.5" x2="553.5" y2="431.5"/>
<line x1="572.5" y1="401.5" x2="572.5" y2="431.5"/>
<line x1="591.5" y1="401.5" x2="591.5" y2="431.5"/>
<line x1="610.5" y1="401.5" x2="610.5" y2="431.5"/>
<line x1="630.5" y1="401.5" x2="630.5" y2="431.5"/>
<line x1="649.5" y1="401.5" x2="649.5" y2="431.5"/>
<line x1="668.5" y1="401.5" x2="668.5" y2="431.5"/>
<line x1="687.5" y1="401.5" x2="687.5" y2="431.5"/>
<line x1="706.5" y1="401.5" x2="706.5" y2="431.5"/>
<line x1="725.5" y1="401.5" x2="725.5" y2="431.5"/>
<line x1="745.5" y1="401.5" x2="745.5" y2="431.5"/>
<line x1="764.5" y1="401.5" x2="764.5" y2="431.5"/>
<line x1="783.5" y1="401.5" x2="783.5" y2="431.5"/>
<line x1="802.5" y1="401.5" x2="802.5" y2="431.5"/>
<line x1="821.5" y1="401.5" x2="821.5" y2="431.5"/>
<line x1="361.5" y1="438.5" x2="361.5" y2="516"/>
<line x1="380.5" y1="438.5" x2="380.5" y2="516"/>
<line x1="399.5" y1="438.5" x2="399.5" y2="516"/>
<line x1="419.5" y1="438.5" x2="419.5" y2="516"/>
<line x1="438.5" y1="438.5" x2="438.5" y2="516"/>
<line x1="457.5" y1="438.5" x2="457.5" y2="516"/>
<line x1="476.5" y1="438.5" x2="476.5" y2="516"/>
<line x1="495.5" y1="438.5" x2="495.5" y2="516"/>
<line x1="514.5" y1="438.5" x2="514.5" y2="516"/>
<line x1="534.5" y1="438.5" x2="534.5" y2="516"/>
<line x1="553.5" y1="438.5" x2="553.5" y2="516"/>
<line x1="572.5" y1="438.5" x2="572.5" y2="516"/>
<line x1="591.5" y1="438.5" x2="591.5" y2="516"/>
<line x1="610.5" y1="438.5" x2="610.5" y2="516"/>
<line x1="630.5" y1="438.5" x2="630.5" y2="516"/>
<line x1="649.5" y1="438.5" x2="649.5" y2="516"/>
<line x1="668.5" y1="438.5" x2="668.5" y2="516"/>
<line x1="687.5" y1="438.5" x2="687.5" y2="516"/>
<line x1="706.5" y1="438.5" x2="706.5" y2="516"/>
<line x1="725.5" y1="438.5" x2="725.5" y2="516"/>
<line x1="745.5" y1="438.5" x2="745.5" y2="516"/>
<line x1="764.5" y1="438.5" x2="764.5" y2="516"/>
<line x1="783.5" y1="438.5" x2="783.5" y2="516"/>
<line x1="802.5" y1="438.5" x2="802.5" y2="516"/>
<line x1="821.5" y1="438.5" x2="821.5" y2="516"/>
<line x1="348.5" y1="457.5" x2="841.5" y2="457.5"/>
<line x1="348.5" y1="477.5" x2="841.5" y2="477.5"/>
<line x1="348.5" y1="496.5" x2="841.5" y2="496.5"/>
<line x1="361.5" y1="525.5" x2="361.5" y2="603.5"/>
<line x1="380.5" y1="525.5" x2="380.5" y2="603.5"/>
<line x1="399.5" y1="525.5" x2="399.5" y2="603.5"/>
<line x1="419.5" y1="525.5" x2="419.5" y2="603.5"/>
<line x1="438.5" y1="525.5" x2="438.5" y2="603.5"/>
<line x1="457.5" y1="525.5" x2="457.5" y2="603.5"/>
<line x1="476.5" y1="525.5" x2="476.5" y2="603.5"/>
<line x1="495.5" y1="525.5" x2="495.5" y2="603.5"/>
<line x1="514.5" y1="525.5" x2="514.5" y2="603.5"/>
<line x1="534.5" y1="525.5" x2="534.5" y2="603.5"/>
<line x1="553.5" y1="525.5" x2="553.5" y2="603.5"/>
<line x1="572.5" y1="525.5" x2="572.5" y2="603.5"/>
<line x1="591.5" y1="525.5" x2="591.5" y2="603.5"/>
<line x1="610.5" y1="525.5" x2="610.5" y2="603.5"/>
<line x1="630.5" y1="525.5" x2="630.5" y2="603.5"/>
<line x1="649.5" y1="525.5" x2="649.5" y2="603.5"/>
<line x1="668.5" y1="525.5" x2="668.5" y2="603.5"/>
<line x1="687.5" y1="525.5" x2="687.5" y2="603.5"/>
<line x1="706.5" y1="525.5" x2="706.5" y2="603.5"/>
<line x1="725.5" y1="525.5" x2="725.5" y2="603.5"/>
<line x1="745.5" y1="525.5" x2="745.5" y2="603.5"/>
<line x1="764.5" y1="525.5" x2="764.5" y2="603.5"/>
<line x1="783.5" y1="525.5" x2="783.5" y2="603.5"/>
<line x1="802.5" y1="525.5" x2="802.5" y2="603.5"/>
<line x1="821.5" y1="525.5" x2="821.5" y2="603.5"/>
<line x1="348.5" y1="545.5" x2="841.5" y2="545.5"/>
<line x1="348.5" y1="564.5" x2="841.5" y2="564.5"/>
<line x1="348.5" y1="584.5" x2="841.5" y2="584.5"/>
<line x1="142.5" y1="57.5" x2="142.5" y2="134"/>
<line x1="163.5" y1="57.5" x2="163.5" y2="134"/>
<line x1="184.5" y1="57.5" x2="184.5" y2="134"/>
<line x1="205.5" y1="57.5" x2="205.5" y2="134"/>
<line x1="226.5" y1="57.5" x2="226.5" y2="134"/>
<line x1="135.5" y1="59.5" x2="245.5" y2="59.5"/>
<line x1="135.5" y1="77.5" x2="245.5" y2="77.5"/>
<line x1="135.5" y1="94.5" x2="245.5" y2="94.5"/>
<line x1="135.5" y1="111.5" x2="245.5" y2="111.5"/>
<line x1="135.5" y1="129.5" x2="245.5" y2="129.5"/>
<line x1="142.5" y1="143.5" x2="142.5" y2="220.5"/>
<line x1="163.5" y1="143.5" x2="163.5" y2="220.5"/>
<line x1="184.5" y1="143.5" x2="184.5" y2="220.5"/>
<line x1="205.5" y1="143.5" x2="205.5" y2="220.5"/>
<line x1="226.5" y1="143.5" x2="226.5" y2="220.5"/>
<line x1="135.5" y1="150.5" x2="245.5" y2="150.5"/>
<line x1="135.5" y1="167.5" x2="245.5" y2="167.5"/>
<line x1="135.5" y1="185.5" x2="245.5" y2="185.5"/>
<line x1="135.5" y1="202.5" x2="245.5" y2="202.5"/>
<line x1="142.5" y1="229.5" x2="142.5" y2="306.5"/>
<line x1="163.5" y1="229.5" x2="163.5" y2="306.5"/>
<line x1="184.5" y1="229.5" x2="184.5" y2="306.5"/>
<line x1="205.5" y1="229.5" x2="205.5" y2="306.5"/>
<line x1="226.5" y1="229.5" x2="226.5" y2="306.5"/>
<line x1="135.5" y1="231.5" x2="245.5" y2="231.5"/>
<line x1="135.5" y1="254.5" x2="245.5" y2="254.5"/>
<line x1="135.5" y1="278.5" x2="245.5" y2="278.5"/>
<line x1="135.5" y1="301.5" x2="245.5" y2="301.5"/>
<line x1="142.5" y1="315.5" x2="142.5" y2="392.5"/>
<line x1="163.5" y1="315.5" x2="163.5" y2="392.5"/>
<line x1="184.5" y1="315.5" x2="184.5" y2="392.5"/>
<line x1="205.5" y1="315.5" x2="205.5" y2="392.5"/>
<line x1="226.5" y1="315.5" x2="226.5" y2="392.5"/>
<line x1="135.5" y1="316.5" x2="245.5" y2="316.5"/>
<line x1="135.5" y1="334.5" x2="245.5" y2="334.5"/>
<line x1="135.5" y1="354.5" x2="245.5" y2="354.5"/>
<line x1="135.5" y1="373.5" x2="245.5" y2="373.5"/>
<line x1="142.5" y1="398.5" x2="142.5" y2="429.5"/>
<line x1="163.5" y1="398.5" x2="163.5" y2="429.5"/>
<line x1="184.5" y1="398.5" x2="184.5" y2="429.5"/>
<line x1="205.5" y1="398.5" x2="205.5" y2="429.5"/>
<line x1="226.5" y1="398.5" x2="226.5" y2="429.5"/>
<line x1="142.5" y1="436.5" x2="142.5" y2="513.5"/>
<line x1="163.5" y1="436.5" x2="163.5" y2="513.5"/>
<line x1="184.5" y1="436.5" x2="184.5" y2="513.5"/>
<line x1="205.5" y1="436.5" x2="205.5" y2="513.5"/>
<line x1="226.5" y1="436.5" x2="226.5" y2="513.5"/>
<line x1="135.5" y1="437.5" x2="245.5" y2="437.5"/>
<line x1="135.5" y1="456.5" x2="245.5" y2="456.5"/>
<line x1="135.5" y1="475.5" x2="245.5" y2="475.5"/>
<line x1="135.5" y1="495.5" x2="245.5" y2="495.5"/>
<line x1="142.5" y1="523.5" x2="142.5" y2="601.5"/>
<line x1="163.5" y1="523.5" x2="163.5" y2="601.5"/>
<line x1="184.5" y1="523.5" x2="184.5" y2="601.5"/>
<line x1="205.5" y1="523.5" x2="205.5" y2="601.5"/>
<line x1="226.5" y1="523.5" x2="226.5" y2="601.5"/>
<line x1="135.5" y1="524.5" x2="245.5" y2="524.5"/>
<line x1="135.5" y1="543.5" x2="245.5" y2="543.5"/>
<line x1="135.5" y1="562.5" x2="245.5" y2="562.5"/>
<line x1="135.5" y1="582.5" x2="245.5" y2="582.5"/>
</g>
<line x1="348.5" y1="57.5" x2="348.5" y2="135.5" stroke="#555" stroke-width="1.2"/>
<line x1="348.5" y1="57.5" x2="348.5" y2="135.5" stroke="#000" stroke-width="1.3" stroke-dasharray="2 2"/>
<line x1="841.5" y1="57.5" x2="841.5" y2="135.5" stroke="#555" stroke-width="1.2"/>
<line x1="841.5" y1="57.5" x2="841.5" y2="135.5" stroke="#000" stroke-width="1.3" stroke-dasharray="2 2"/>
<line x1="347.9" y1="57.5" x2="842.1" y2="57.5" stroke="#1c1c1c" stroke-width="1.3"/>
<line x1="347.9" y1="135.5" x2="842.1" y2="135.5" stroke="#1c1c1c" stroke-width="1.3"/>
<line x1="348.5" y1="143.5" x2="348.5" y2="221.5" stroke="#555" stroke-width="1.2"/>
<line x1="348.5" y1="143.5" x2="348.5" y2="221.5" stroke="#000" stroke-width="1.3" stroke-dasharray="2 2"/>
<line x1="841.5" y1="143.5" x2="841.5" y2="221.5" stroke="#555" stroke-width="1.2"/>
<line x1="841.5" y1="143.5" x2="841.5" y2="221.5" stroke="#000" stroke-width="1.3" stroke-dasharray="2 2"/>
<line x1="347.9" y1="143.5" x2="842.1" y2="143.5" stroke="#1c1c1c" stroke-width="1.3"/>
<line x1="347.9" y1="221.5" x2="842.1" y2="221.5" stroke="#1c1c1c" stroke-width="1.3"/>
<line x1="348.5" y1="230.5" x2="348.5" y2="308.5" stroke="#555" stroke-width="1.2"/>
<line x1="348.5" y1="230.5" x2="348.5" y2="308.5" stroke="#000" stroke-width="1.3" stroke-dasharray="2 2"/>
<line x1="841.5" y1="230.5" x2="841.5" y2="308.5" stroke="#555" stroke-width="1.2"/>
<line x1="841.5" y1="230.5" x2="841.5" y2="308.5" stroke="#000" stroke-width="1.3" stroke-dasharray="2 2"/>
<line x1="347.9" y1="230.5" x2="842.1" y2="230.5" stroke="#1c1c1c" stroke-width="1.3"/>
<line x1="347.9" y1="308.5" x2="842.1" y2="308.5" stroke="#1c1c1c" stroke-width="1.3"/>
<line x1="348.5" y1="318.5" x2="348.5" y2="395.5" stroke="#555" stroke-width="1.2"/>
<line x1="348.5" y1="318.5" x2="348.5" y2="395.5" stroke="#000" stroke-width="1.3" stroke-dasharray="2 2"/>
<line x1="841.5" y1="318.5" x2="841.5" y2="395.5" stroke="#555" stroke-width="1.2"/>
<line x1="841.5" y1="318.5" x2="841.5" y2="395.5" stroke="#000" stroke-width="1.3" stroke-dasharray="2 2"/>
<line x1="347.9" y1="318.5" x2="842.1" y2="318.5" stroke="#555" stroke-width="1.2"/>
<line x1="347.9" y1="318.5" x2="842.1" y2="318.5" stroke="#000" stroke-width="1.3" stroke-dasharray="2 2"/>
<line x1="347.9" y1="395.5" x2="842.1" y2="395.5" stroke="#1c1c1c" stroke-width="1.3"/>
<line x1="348.5" y1="401.5" x2="348.5" y2="431.5" stroke="#1c1c1c" stroke-width="1.3"/>
<line x1="841.5" y1="401.5" x2="841.5" y2="431.5" stroke="#1c1c1c" stroke-width="1.3"/>
<line x1="347.9" y1="401.5" x2="842.1" y2="401.5" stroke="#1c1c1c" stroke-width="1.3"/>
<line x1="347.9" y1="431.5" x2="842.1" y2="431.5" stroke="#6a6a6a" stroke-width="1.3"/>
<line x1="348.5" y1="438.5" x2="348.5" y2="516" stroke="#000" stroke-width="1.2" stroke-dasharray="2 2"/>
<line x1="841.5" y1="438.5" x2="841.5" y2="516" stroke="#000" stroke-width="1.2" stroke-dasharray="2 2"/>
<line x1="347.9" y1="438.5" x2="842.1" y2="438.5" stroke="#000" stroke-width="1.2" stroke-dasharray="2 2"/>
<line x1="347.9" y1="516" x2="842.1" y2="516" stroke="#555" stroke-width="1.2"/>
<line x1="347.9" y1="516" x2="842.1" y2="516" stroke="#000" stroke-width="1.3" stroke-dasharray="2 2"/>
<line x1="348.5" y1="525.5" x2="348.5" y2="603.5" stroke="#555" stroke-width="1.2"/>
<line x1="348.5" y1="525.5" x2="348.5" y2="603.5" stroke="#000" stroke-width="1.3" stroke-dasharray="2 2"/>
<line x1="841.5" y1="525.5" x2="841.5" y2="603.5" stroke="#555" stroke-width="1.2"/>
<line x1="841.5" y1="525.5" x2="841.5" y2="603.5" stroke="#000" stroke-width="1.3" stroke-dasharray="2 2"/>
<line x1="347.9" y1="525.5" x2="842.1" y2="525.5" stroke="#1c1c1c" stroke-width="1.3"/>
<line x1="347.9" y1="603.5" x2="842.1" y2="603.5" stroke="#1c1c1c" stroke-width="1.3"/>
<g stroke="#000" stroke-width="1.15" fill="none">
<rect x="135.5" y="57.5" width="110" height="76.5"/>
<rect x="135.5" y="143.5" width="110" height="77"/>
<rect x="135.5" y="229.5" width="110" height="77"/>
<rect x="135.5" y="315.5" width="110" height="77"/>
<rect x="135.5" y="398.5" width="110" height="31"/>
<rect x="135.5" y="436.5" width="110" height="77"/>
<rect x="135.5" y="523.5" width="110" height="78"/>
</g>
<rect x="348.7" y="219.4" width="26.2" height="1.6" fill="#10a010"/>
<rect x="547.4" y="219.8" width="6.5" height="1.2" fill="#10a010"/>
<rect x="579.1" y="219.8" width="6.5" height="1.2" fill="#10a010"/>
<rect x="617.4" y="219.8" width="6.5" height="1.2" fill="#10a010"/>
<rect x="706.4" y="217.4" width="6.9" height="3.6" fill="#10a010"/>
<rect x="713.3" y="218.5" width="6.5" height="2.5" fill="#10a010"/>
<rect x="738.5" y="220.2" width="6.5" height="0.8" fill="#10a010"/>
<rect x="770.3" y="220.2" width="7.5" height="0.8" fill="#10a010"/>
<rect x="803" y="220.2" width="6.5" height="0.8" fill="#10a010"/>
<rect x="350" y="220.2" width="3" height="2" fill="#e8001c"/>
<rect x="369.7" y="220.2" width="3" height="2" fill="#e8001c"/>
<rect x="388.9" y="220.2" width="3" height="2" fill="#e8001c"/>
<rect x="395.4" y="220.2" width="3" height="2" fill="#e8001c"/>
<rect x="401.8" y="220.2" width="3" height="2" fill="#e8001c"/>
<rect x="407.9" y="220.2" width="3" height="2" fill="#e8001c"/>
<rect x="414.5" y="220.2" width="3" height="2" fill="#e8001c"/>
<rect x="421" y="220.2" width="3" height="2" fill="#e8001c"/>
<rect x="427.2" y="220.2" width="3" height="2" fill="#e8001c"/>
<rect x="433.7" y="220.2" width="3" height="2" fill="#e8001c"/>
<rect x="440.3" y="220.2" width="3" height="2" fill="#e8001c"/>
<rect x="446.6" y="220.2" width="3" height="2" fill="#e8001c"/>
<rect x="567.9" y="220.2" width="3" height="2" fill="#e8001c"/>
<rect x="573.9" y="220.2" width="3" height="2" fill="#e8001c"/>
<rect x="580.4" y="220.2" width="3" height="2" fill="#e8001c"/>
<rect x="701.9" y="220.2" width="3" height="2" fill="#e8001c"/>
<rect x="708.4" y="220.2" width="3" height="2" fill="#e8001c"/>
<rect x="715" y="220.2" width="3" height="2" fill="#e8001c"/>
<rect x="721.1" y="220.2" width="3" height="2" fill="#e8001c"/>
<rect x="727.7" y="220.2" width="3" height="2" fill="#e8001c"/>
<rect x="734" y="220.2" width="3" height="2" fill="#e8001c"/>
<polyline points="68,16.5 134,16.5 156,45.5" fill="none" stroke="#000" stroke-width="1"/>
<polyline points="102.5,43.5 119,43.5 150.5,85" fill="none" stroke="#a81818" stroke-width="1"/>
<polyline points="91.5,75.5 114.5,75.5" fill="none" stroke="#f00000" stroke-width="1"/>
<polyline points="130,75.5 133.5,75.5 157,102 172,111" fill="none" stroke="#f00000" stroke-width="1"/>
<polyline points="70,99.5 131,99.5 136,102" fill="none" stroke="#0000e0" stroke-width="1"/>
<polyline points="94.5,120.5 132,120.5 142.5,113" fill="none" stroke="#6a5acd" stroke-width="1"/>
<polyline points="103,137.5 141,137.5 146.5,147" fill="none" stroke="#f00000" stroke-width="1"/>
<polyline points="106,151.5 111,151.5" fill="none" stroke="#e8501e" stroke-width="1"/>
<polyline points="130,151.5 146.5,160" fill="none" stroke="#e8501e" stroke-width="1"/>
<polyline points="94.5,167.5 113,167.5" fill="none" stroke="#000" stroke-width="1"/>
<polyline points="130,167.5 132.5,167.5 137.5,171.5" fill="none" stroke="#000" stroke-width="1"/>
<polyline points="71,179.5 139,179.5" fill="none" stroke="#10b010" stroke-width="1"/>
<polyline points="80.5,190.5 136,190.5" fill="none" stroke="#10b010" stroke-width="1"/>
<polyline points="70,202.5 113,202.5" fill="none" stroke="#2030d0" stroke-width="1"/>
<polyline points="129,202.5 132,202.5 160.5,172" fill="none" stroke="#2030d0" stroke-width="1"/>
<polyline points="81,213.5 132,213.5 158.5,188" fill="none" stroke="#2030d0" stroke-width="1"/>
<polyline points="97.5,225.5 144,225.5 148.5,220" fill="none" stroke="#f00000" stroke-width="1"/>
<polyline points="51.5,263.5 131,263.5 136,261" fill="none" stroke="#000" stroke-width="1"/>
<polyline points="112,334.5 116.5,334.5" fill="none" stroke="#f00000" stroke-width="1"/>
<polyline points="130,334.5 134.5,324 139,317.5" fill="none" stroke="#f00000" stroke-width="1"/>
<polyline points="106.5,347.5 131.5,347.5 142,340.5 148.5,340.5" fill="none" stroke="#f00000" stroke-width="1"/>
<polyline points="92,367.5 135,367.5" fill="none" stroke="#000090" stroke-width="1"/>
<polyline points="86,410.5 139.5,410.5" fill="none" stroke="#000090" stroke-width="1"/>
<polyline points="100,430.5 133.5,431.5 184.7,447.5" fill="none" stroke="#a81818" stroke-width="1"/>
<polyline points="57,468.5 133.5,468.5 191,456.5" fill="none" stroke="#000" stroke-width="1"/>
<polyline points="57,480.5 142,480.5" fill="none" stroke="#505050" stroke-width="1"/>
<polyline points="57,490.5 132,490.5 141.5,499.5" fill="none" stroke="#a0a0a0" stroke-width="1"/>
<polyline points="57,500.5 130,500.5 136,504.5" fill="none" stroke="#d0d0d0" stroke-width="1"/>
<polyline points="55,509.5 135.5,509.5" fill="none" stroke="#78c8ff" stroke-width="1"/>
<polyline points="55,512.5 135.5,512.5" fill="none" stroke="#78c8ff" stroke-width="1"/>
<polyline points="67.5,526.5 130,526.5 138,514.5 174,464.5" fill="none" stroke="#ff9000" stroke-width="1"/>
<polyline points="51.5,556.5 191.5,556.5" fill="none" stroke="#a8dcff" stroke-width="1"/>
<polyline points="51.5,558.5 191.5,558.5" fill="none" stroke="#ffffff" stroke-width="1"/>
<polyline points="50,571.5 191.5,571.5" fill="none" stroke="#909090" stroke-width="1"/>
<polyline points="41,582.5 121,582.5" fill="none" stroke="#404040" stroke-width="1"/>
<polyline points="129.5,582.5 135.5,582.5" fill="none" stroke="#404040" stroke-width="1"/>
<polyline points="73,594.5 143.5,594.5" fill="none" stroke="#000" stroke-width="1"/>
<polyline points="30,605.5 217.5,605.5 219.5,601" fill="none" stroke="#ffb000" stroke-width="1"/>
<polyline points="140,623.5 148.5,623.5 156.5,612" fill="none" stroke="#000" stroke-width="1"/>
<text x="5.9" y="18" font-size="11" fill="#000" text-anchor="start"  textLength="59.5">Czas lokalny</text>
<text x="5.9" y="30" font-size="11" fill="#000" text-anchor="start"  textLength="54.9">(CET/CEST)</text>
<text x="5.9" y="45.5" font-size="11" fill="#a81818" text-anchor="start"  textLength="94.4">Temperatura gruntu</text>
<text x="27.6" y="55.5" font-size="11" fill="#a81818" text-anchor="start"  textLength="39.2">max/min</text>
<text x="5.9" y="67" font-size="11" fill="#000" text-anchor="start"  textLength="62.8">Temperatura:</text>
<text x="12.8" y="79.5" font-size="11" fill="#f00000" text-anchor="start" stroke-width="0.15" stroke="#f00000" textLength="77.6">punkt środkowy</text>
<text x="27.6" y="89" font-size="11" fill="#ffd2c4" text-anchor="start"  textLength="39.2">max/min</text>
<text x="9.8" y="100.5" font-size="11" fill="#0000e0" text-anchor="start" stroke-width="0.15" stroke="#0000e0" textLength="57.9">odczuwana</text>
<text x="27.6" y="110.5" font-size="11" fill="#a6dcff" text-anchor="start"  textLength="39.2">max/min</text>
<text x="5.9" y="122.5" font-size="11" fill="#6050d0" text-anchor="start"  textLength="87.5">Temp. punktu rosy</text>
<text x="5.9" y="140.5" font-size="11" fill="#f00000" text-anchor="start" stroke-width="0.15" stroke="#f00000" textLength="95.3">Opad powyżej skali</text>
<text x="5.9" y="154" font-size="11" fill="#e8501e" text-anchor="start"  textLength="98.3">Wilgotność względna</text>
<text x="5.9" y="168.5" font-size="11" fill="#000" text-anchor="start"  textLength="85.9">Wystąpienie burzy</text>
<text x="5.9" y="182" font-size="11" fill="#10b010" text-anchor="start"  textLength="63.8">Deszcz: max</text>
<text x="48.8" y="193.3" font-size="11" fill="#10b010" text-anchor="start"  textLength="30.3">średni</text>
<text x="5.9" y="204.7" font-size="11" fill="#2030d0" text-anchor="start"  textLength="30.4">Śnieg:</text>
<text x="48.8" y="204.7" font-size="11" fill="#2030d0" text-anchor="start"  textLength="20">max</text>
<text x="48.8" y="215.5" font-size="11" fill="#2030d0" text-anchor="start"  textLength="30.3">średni</text>
<text x="5.9" y="228" font-size="11" fill="#f00000" text-anchor="start"  textLength="89">Wystąpienie opadu</text>
<text x="5.9" y="239.8" font-size="11" fill="#f00000" text-anchor="start"  textLength="71.7">konwekcyjnego</text>
<text x="4.5" y="266.4" font-size="11" fill="#000" text-anchor="start" >Ciśnienie</text>
<text x="4.5" y="279.4" font-size="11" fill="#000" text-anchor="start" >zredukowane</text>
<text x="4.5" y="292.1" font-size="11" fill="#000" text-anchor="start"  textLength="88.1">do poziomu morza</text>
<text x="4.5" y="321.8" font-size="11" fill="#000">Wiatr na <tspan font-family='"Liberation Serif", serif' font-size="11.5">10</tspan>m:</text>
<text x="9.7" y="338.5" font-size="11" fill="#f00000" text-anchor="start"  textLength="101.1">poryw powyżej skali</text>
<text x="9.7" y="351.2" font-size="11" fill="#f00000" text-anchor="start"  textLength="95.6">max porywy wiatru</text>
<text x="9.7" y="370.9" font-size="11" fill="#000090" text-anchor="start"  textLength="80.5">prędkość wiatru</text>
<text x="9.7" y="383.9" font-size="11" fill="#000090" text-anchor="start"  textLength="89.6">w środku obszaru</text>
<text x="9.7" y="411.8" font-size="11" fill="#000090" text-anchor="start"  textLength="74.4">kierunek wiatru</text>
<text x="5" y="432.3" font-size="11" fill="#a81818" text-anchor="start"  textLength="92.8">Wierzchołek chmur</text>
<text x="5" y="447" font-size="11" fill="#000" text-anchor="start"  textLength="86.6">Podstawa chmur*</text>
<text x="5" y="457.8" font-size="11" fill="#000" text-anchor="start" >o pokryciu</text>
<text x="10.7" y="471.3" font-size="11" fill="#000" text-anchor="start"  textLength="43.5">&gt; 7.9 okt.</text>
<text x="10.7" y="482.7" font-size="11" fill="#505050" text-anchor="start"  textLength="43.5">&gt; 6.5 okt.</text>
<text x="10.7" y="493.4" font-size="11" fill="#a0a0a0" text-anchor="start"  textLength="43.5">&gt; 4.5 okt.</text>
<text x="10.7" y="504.1" font-size="11" fill="#d8d8d8" text-anchor="start"  textLength="43.5">&gt; 2.5 okt.</text>
<rect x="10.5" y="506.5" width="45" height="9.5" fill="#78c8ff"/>
<text x="10.7" y="514.5" font-size="11" fill="#ffffff" text-anchor="start"  textLength="43.5">&gt; 0.1 okt.</text>
<text x="5.3" y="528.3" font-size="11" fill="#ff8000" text-anchor="start"  textLength="58.9">Widzialność</text>
<text x="5" y="546.1" font-size="11" fill="#000" text-anchor="start" >Chmury:</text>
<rect x="10.5" y="551.5" width="41.5" height="10.8" fill="#78c8ff"/>
<text x="12" y="559.9" font-size="11" fill="#ffffff" text-anchor="start" >wysokie</text>
<text x="10" y="572.1" font-size="11" fill="#909090" text-anchor="start" >średnie</text>
<text x="10" y="584.2" font-size="11" fill="#404040" text-anchor="start" >niskie</text>
<text x="10" y="595.3" font-size="11" fill="#000" text-anchor="start"  textLength="62">bardzo niskie</text>
<text x="5" y="607.4" font-size="11" fill="#ffb000" text-anchor="start"  textLength="22.5">Mgła</text>
<text x="5" y="624.5" font-size="11.5" fill="#000" text-anchor="start"  textLength="132.8">Czas uniwersalny (UTC)</text>
<text x="5" y="650.2" font-size="9" fill="#000" text-anchor="start" stroke="#000" stroke-width="0.12" textLength="102.8">* powyżej poziomu morza</text>
<text x="116.7" y="63" font-size="11" fill="#000" text-anchor="start" textLength="11.6" lengthAdjust="spacingAndGlyphs">30</text>
<text x="116.7" y="81.2" font-size="11" fill="#000" text-anchor="start" textLength="11.6" lengthAdjust="spacingAndGlyphs">20</text>
<text x="116.7" y="98.5" font-size="11" fill="#000" text-anchor="start" textLength="11.6" lengthAdjust="spacingAndGlyphs">10</text>
<text x="122.5" y="115.3" font-size="11" fill="#000" text-anchor="start" textLength="5.8" lengthAdjust="spacingAndGlyphs">0</text>
<text x="113.2" y="132.9" font-size="11" fill="#000" text-anchor="start" textLength="15.1" lengthAdjust="spacingAndGlyphs">-10</text>
<text x="113.8" y="154.5" font-size="11" fill="#000" text-anchor="start" textLength="14.5" lengthAdjust="spacingAndGlyphs">2.0</text>
<text x="113.8" y="171.9" font-size="11" fill="#000" text-anchor="start" textLength="14.5" lengthAdjust="spacingAndGlyphs">1.5</text>
<text x="113.8" y="189" font-size="11" fill="#000" text-anchor="start" textLength="14.5" lengthAdjust="spacingAndGlyphs">1.0</text>
<text x="113.8" y="207.3" font-size="11" fill="#000" text-anchor="start" textLength="14.5" lengthAdjust="spacingAndGlyphs">0.5</text>
<text x="113.8" y="224.5" font-size="11" fill="#000" text-anchor="start" textLength="14.5" lengthAdjust="spacingAndGlyphs">0.0</text>
<text x="105.1" y="235.3" font-size="11" fill="#000" text-anchor="start" textLength="23.2" lengthAdjust="spacingAndGlyphs">1018</text>
<text x="105.1" y="258.2" font-size="11" fill="#000" text-anchor="start" textLength="23.2" lengthAdjust="spacingAndGlyphs">1016</text>
<text x="105.1" y="282.5" font-size="11" fill="#000" text-anchor="start" textLength="23.2" lengthAdjust="spacingAndGlyphs">1014</text>
<text x="105.1" y="305.5" font-size="11" fill="#000" text-anchor="start" textLength="23.2" lengthAdjust="spacingAndGlyphs">1012</text>
<text x="116.7" y="318.8" font-size="11" fill="#000" text-anchor="start" textLength="11.6" lengthAdjust="spacingAndGlyphs">20</text>
<text x="116.7" y="338" font-size="11" fill="#000" text-anchor="start" textLength="11.6" lengthAdjust="spacingAndGlyphs">15</text>
<text x="116.7" y="358.2" font-size="11" fill="#000" text-anchor="start" textLength="11.6" lengthAdjust="spacingAndGlyphs">10</text>
<text x="122.5" y="376.4" font-size="11" fill="#000" text-anchor="start" textLength="5.8" lengthAdjust="spacingAndGlyphs">5</text>
<text x="122.5" y="395.5" font-size="11" fill="#000" text-anchor="start" textLength="5.8" lengthAdjust="spacingAndGlyphs">0</text>
<text x="108" y="440.4" font-size="11" fill="#000" text-anchor="start" textLength="20.3" lengthAdjust="spacingAndGlyphs">15.0</text>
<text x="113.8" y="460.4" font-size="11" fill="#000" text-anchor="start" textLength="14.5" lengthAdjust="spacingAndGlyphs">7.0</text>
<text x="113.8" y="478.9" font-size="11" fill="#000" text-anchor="start" textLength="14.5" lengthAdjust="spacingAndGlyphs">2.0</text>
<text x="113.8" y="499.2" font-size="11" fill="#000" text-anchor="start" textLength="14.5" lengthAdjust="spacingAndGlyphs">0.5</text>
<text x="113.8" y="518" font-size="11" fill="#000" text-anchor="start" textLength="14.5" lengthAdjust="spacingAndGlyphs">0.0</text>
<text x="122.5" y="525.9" font-size="11" fill="#000" text-anchor="start" textLength="5.8" lengthAdjust="spacingAndGlyphs">8</text>
<text x="122.5" y="546.6" font-size="11" fill="#000" text-anchor="start" textLength="5.8" lengthAdjust="spacingAndGlyphs">6</text>
<text x="122.5" y="566.2" font-size="11" fill="#000" text-anchor="start" textLength="5.8" lengthAdjust="spacingAndGlyphs">4</text>
<text x="122.5" y="585.8" font-size="11" fill="#000" text-anchor="start" textLength="5.8" lengthAdjust="spacingAndGlyphs">2</text>
<text x="122.5" y="605.3" font-size="11" fill="#000" text-anchor="start" textLength="5.8" lengthAdjust="spacingAndGlyphs">0</text>
<text x="254.4" y="63" font-size="11" fill="#000" text-anchor="start" textLength="11.6" lengthAdjust="spacingAndGlyphs">30</text>
<text x="254.4" y="81.2" font-size="11" fill="#000" text-anchor="start" textLength="11.6" lengthAdjust="spacingAndGlyphs">20</text>
<text x="254.4" y="98.5" font-size="11" fill="#000" text-anchor="start" textLength="11.6" lengthAdjust="spacingAndGlyphs">10</text>
<text x="260.2" y="115.3" font-size="11" fill="#000" text-anchor="start" textLength="5.8" lengthAdjust="spacingAndGlyphs">0</text>
<text x="250.9" y="132.9" font-size="11" fill="#000" text-anchor="start" textLength="15.1" lengthAdjust="spacingAndGlyphs">-10</text>
<text x="253.5" y="154" font-size="11" fill="#e8501e" text-anchor="start" textLength="11.6" lengthAdjust="spacingAndGlyphs">96</text>
<text x="253.5" y="171.7" font-size="11" fill="#e8501e" text-anchor="start" textLength="11.6" lengthAdjust="spacingAndGlyphs">84</text>
<text x="253.5" y="189" font-size="11" fill="#e8501e" text-anchor="start" textLength="11.6" lengthAdjust="spacingAndGlyphs">73</text>
<text x="253.5" y="206.6" font-size="11" fill="#e8501e" text-anchor="start" textLength="11.6" lengthAdjust="spacingAndGlyphs">61</text>
<text x="253.5" y="224" font-size="11" fill="#e8501e" text-anchor="start" textLength="11.6" lengthAdjust="spacingAndGlyphs">50</text>
<text x="252" y="235.3" font-size="11" fill="#000" text-anchor="start" textLength="23.2" lengthAdjust="spacingAndGlyphs">1018</text>
<text x="252" y="258.2" font-size="11" fill="#000" text-anchor="start" textLength="23.2" lengthAdjust="spacingAndGlyphs">1016</text>
<text x="252" y="282.5" font-size="11" fill="#000" text-anchor="start" textLength="23.2" lengthAdjust="spacingAndGlyphs">1014</text>
<text x="252" y="305.5" font-size="11" fill="#000" text-anchor="start" textLength="23.2" lengthAdjust="spacingAndGlyphs">1012</text>
<text x="251.5" y="319" font-size="11" fill="#000" text-anchor="start" textLength="11.6" lengthAdjust="spacingAndGlyphs">72</text>
<text x="251.5" y="338.6" font-size="11" fill="#000" text-anchor="start" textLength="11.6" lengthAdjust="spacingAndGlyphs">54</text>
<text x="251.5" y="358.3" font-size="11" fill="#000" text-anchor="start" textLength="11.6" lengthAdjust="spacingAndGlyphs">36</text>
<text x="251.5" y="377" font-size="11" fill="#000" text-anchor="start" textLength="11.6" lengthAdjust="spacingAndGlyphs">18</text>
<text x="253.4" y="395.7" font-size="11" fill="#000" text-anchor="start" textLength="5.8" lengthAdjust="spacingAndGlyphs">0</text>
<text x="251.5" y="440" font-size="11" fill="#ff8000" text-anchor="start" textLength="17.4" lengthAdjust="spacingAndGlyphs">100</text>
<text x="251.5" y="460.4" font-size="11" fill="#ff8000" text-anchor="start" textLength="11.6" lengthAdjust="spacingAndGlyphs">20</text>
<text x="251.5" y="479.4" font-size="11" fill="#ff8000" text-anchor="start" textLength="5.8" lengthAdjust="spacingAndGlyphs">5</text>
<text x="251.5" y="499" font-size="11" fill="#ff8000" text-anchor="start" textLength="5.8" lengthAdjust="spacingAndGlyphs">1</text>
<text x="251.5" y="517.2" font-size="11" fill="#ff8000" text-anchor="start" textLength="5.8" lengthAdjust="spacingAndGlyphs">0</text>
<text x="251.5" y="527" font-size="11" fill="#ff8000" text-anchor="start" textLength="5.8" lengthAdjust="spacingAndGlyphs">1</text>
<text x="251.5" y="547.4" font-size="11" fill="#ff8000" text-anchor="start" textLength="20.3" lengthAdjust="spacingAndGlyphs">0.75</text>
<text x="251.5" y="566.4" font-size="11" fill="#ff8000" text-anchor="start" textLength="14.5" lengthAdjust="spacingAndGlyphs">0.5</text>
<text x="251.5" y="586" font-size="11" fill="#ff8000" text-anchor="start" textLength="20.3" lengthAdjust="spacingAndGlyphs">0.25</text>
<text x="251.5" y="605" font-size="11" fill="#ff8000" text-anchor="start" textLength="5.8" lengthAdjust="spacingAndGlyphs">0</text>
<text x="157.6" y="51.5" font-size="11" fill="#000" text-anchor="start" textLength="12" lengthAdjust="spacingAndGlyphs">20</text>
<text x="198.5" y="51.5" font-size="11" fill="#000" text-anchor="start" textLength="12" lengthAdjust="spacingAndGlyphs">02</text>
<text x="238.5" y="51.5" font-size="11" fill="#000" text-anchor="start" textLength="12" lengthAdjust="spacingAndGlyphs">08</text>
<text x="158.2" y="614.3" font-size="11" fill="#000" text-anchor="start" textLength="12" lengthAdjust="spacingAndGlyphs">18</text>
<text x="198.3" y="614.3" font-size="11" fill="#000" text-anchor="start" textLength="12" lengthAdjust="spacingAndGlyphs">00</text>
<text x="238.5" y="614.3" font-size="11" fill="#000" text-anchor="start" textLength="12" lengthAdjust="spacingAndGlyphs">06</text>
<text x="363.5" y="12.6" font-size="12.3" fill="#00009a" text-anchor="middle" >wschód słońca: 07:00 CEST</text>
<text x="363.3" y="26" font-size="12.3" fill="#00009a" text-anchor="middle" >zachód słońca: 17:39 CEST</text>
<text x="595.7" y="12.6" font-size="12.3" fill="#00009a" text-anchor="middle" >21°28'30"E, 53°53'34"N</text>
<text x="595.7" y="26" font-size="12.3" fill="#00009a" text-anchor="middle" xml:space="preserve">(x=257,  y=358)</text>
<text x="818" y="12.6" font-size="12.3" fill="#00009a" text-anchor="middle" >wysokość (min, środek, max)</text>
<text x="818.5" y="26" font-size="12.3" fill="#00009a" text-anchor="middle" >128 - 151 - 178 m</text>
<text x="361.2" y="54.7" font-size="13" fill="#000" text-anchor="middle" >05</text>
<text x="361.2" y="616.4" font-size="13" fill="#000" text-anchor="middle" >03</text>
<text x="399.2" y="54.7" font-size="13" fill="#000" text-anchor="middle" >11</text>
<text x="399.2" y="616.4" font-size="13" fill="#000" text-anchor="middle" >09</text>
<text x="438.2" y="54.7" font-size="13" fill="#000" text-anchor="middle" >17</text>
<text x="438.2" y="616.4" font-size="13" fill="#000" text-anchor="middle" >15</text>
<text x="476.2" y="54.7" font-size="13" fill="#000" text-anchor="middle" >23</text>
<text x="476.2" y="616.4" font-size="13" fill="#000" text-anchor="middle" >21</text>
<text x="514.2" y="54.7" font-size="13" fill="#000" text-anchor="middle" >05</text>
<text x="514.2" y="616.4" font-size="13" fill="#000" text-anchor="middle" >03</text>
<text x="553.2" y="54.7" font-size="13" fill="#000" text-anchor="middle" >11</text>
<text x="553.2" y="616.4" font-size="13" fill="#000" text-anchor="middle" >09</text>
<text x="591.2" y="54.7" font-size="13" fill="#000" text-anchor="middle" >17</text>
<text x="591.2" y="616.4" font-size="13" fill="#000" text-anchor="middle" >15</text>
<text x="630.2" y="54.7" font-size="13" fill="#000" text-anchor="middle" >23</text>
<text x="630.2" y="616.4" font-size="13" fill="#000" text-anchor="middle" >21</text>
<text x="668.2" y="54.7" font-size="13" fill="#000" text-anchor="middle" >05</text>
<text x="668.2" y="616.4" font-size="13" fill="#000" text-anchor="middle" >03</text>
<text x="706.2" y="54.7" font-size="13" fill="#000" text-anchor="middle" >11</text>
<text x="706.2" y="616.4" font-size="13" fill="#000" text-anchor="middle" >09</text>
<text x="745.2" y="54.7" font-size="13" fill="#000" text-anchor="middle" >17</text>
<text x="745.2" y="616.4" font-size="13" fill="#000" text-anchor="middle" >15</text>
<text x="783.2" y="54.7" font-size="13" fill="#000" text-anchor="middle" >23</text>
<text x="783.2" y="616.4" font-size="13" fill="#000" text-anchor="middle" >21</text>
<text x="821.2" y="54.7" font-size="13" fill="#000" text-anchor="middle" >05</text>
<text x="821.2" y="616.4" font-size="13" fill="#000" text-anchor="middle" >03</text>
<text x="418.9" y="41.7" font-size="13" fill="#000" text-anchor="middle" >wto, 14.10</text>
<text x="418.9" y="630" font-size="13" fill="#000" text-anchor="middle" >14.10</text>
<text x="572.8" y="41.7" font-size="13" fill="#000" text-anchor="middle" >śro, 15.10</text>
<text x="572.8" y="630" font-size="13" fill="#000" text-anchor="middle" >15.10</text>
<text x="726.5" y="41.7" font-size="13" fill="#000" text-anchor="middle" >czw, 16.10</text>
<text x="726.5" y="630" font-size="13" fill="#000" text-anchor="middle" >16.10</text>
<text x="302.5" y="54.5" font-size="13" fill="#000" text-anchor="start" >CEST</text>
<text x="854.5" y="54.5" font-size="13" fill="#000" text-anchor="start" >CEST</text>
<text x="306.4" y="616.4" font-size="13" fill="#000" text-anchor="start" >UTC</text>
<text x="859.3" y="616.4" font-size="13" fill="#000" text-anchor="start" >UTC</text>
<text x="309.8" y="652.2" font-size="13" fill="#00009a" text-anchor="start" >meteo@icm.edu.pl</text>
<text x="623.6" y="652.7" font-size="13" fill="#00009a" text-anchor="start" >© 2007-2025 ICM, Uniwersytet Warszawski</text>
<text x="344.8" y="81" font-size="11" fill="#000" text-anchor="end" >10</text>
<text x="344.8" y="110" font-size="11" fill="#000" text-anchor="end" >5</text>
<text x="344.8" y="139" font-size="11" fill="#000" text-anchor="end" >0</text>
<text x="344.8" y="150" font-size="11" fill="#000" text-anchor="end" >10</text>
<text x="344.8" y="165" font-size="11" fill="#000" text-anchor="end" >8</text>
<text x="344.8" y="180" font-size="11" fill="#000" text-anchor="end" >6</text>
<text x="344.8" y="195" font-size="11" fill="#000" text-anchor="end" >4</text>
<text x="344.8" y="210" font-size="11" fill="#000" text-anchor="end" >2</text>
<text x="344.8" y="225" font-size="11" fill="#000" text-anchor="end" >0</text>
<text x="344.8" y="247.2" font-size="11" fill="#000" text-anchor="end" >1020</text>
<text x="344.8" y="267.2" font-size="11" fill="#000" text-anchor="end" >1015</text>
<text x="344.8" y="288.1" font-size="11" fill="#000" text-anchor="end" >1010</text>
<text x="344.8" y="308.8" font-size="11" fill="#000" text-anchor="end" >1005</text>
<text x="344.8" y="323" font-size="11" fill="#000" text-anchor="end" >15</text>
<text x="344.8" y="348.3" font-size="11" fill="#000" text-anchor="end" >10</text>
<text x="344.8" y="373.5" font-size="11" fill="#000" text-anchor="end" >5</text>
<text x="344.8" y="399" font-size="11" fill="#000" text-anchor="end" >0</text>
<text x="344.8" y="441.7" font-size="11" fill="#000" text-anchor="end" >15.0</text>
<text x="344.8" y="462" font-size="11" fill="#000" text-anchor="end" >7.0</text>
<text x="344.8" y="481.1" font-size="11" fill="#000" text-anchor="end" >2.0</text>
<text x="344.8" y="501" font-size="11" fill="#000" text-anchor="end" >0.5</text>
<text x="344.8" y="520.1" font-size="11" fill="#000" text-anchor="end" >0.0</text>
<text x="344.8" y="529.9" font-size="11" fill="#000" text-anchor="end" >8</text>
<text x="344.8" y="549" font-size="11" fill="#000" text-anchor="end" >6</text>
<text x="344.8" y="568.9" font-size="11" fill="#000" text-anchor="end" >4</text>
<text x="344.8" y="588.4" font-size="11" fill="#000" text-anchor="end" >2</text>
<text x="344.8" y="607.2" font-size="11" fill="#000" text-anchor="end" >0</text>
<text x="845" y="247.6" font-size="11" fill="#000" text-anchor="start" >765</text>
<text x="845" y="267.3" font-size="11" fill="#000" text-anchor="start" >761</text>
<text x="845" y="288.5" font-size="11" fill="#000" text-anchor="start" >758</text>
<text x="845" y="308.8" font-size="11" fill="#000" text-anchor="start" >754</text>
<text x="850.6" y="81" font-size="11" fill="#000" text-anchor="middle" >10</text>
<text x="850.6" y="110" font-size="11" fill="#000" text-anchor="middle" >5</text>
<text x="850.6" y="139" font-size="11" fill="#000" text-anchor="middle" >0</text>
<text x="850.6" y="323.4" font-size="11" fill="#000" text-anchor="middle" >54</text>
<text x="850.6" y="348.4" font-size="11" fill="#000" text-anchor="middle" >36</text>
<text x="850.6" y="373.8" font-size="11" fill="#000" text-anchor="middle" >18</text>
<text x="850.6" y="399.2" font-size="11" fill="#000" text-anchor="middle" >0</text>
<text x="853.9" y="150.7" font-size="11" fill="#e8501e" text-anchor="middle" >100</text>
<text x="853.9" y="165.8" font-size="11" fill="#e8501e" text-anchor="middle" >95</text>
<text x="853.9" y="181" font-size="11" fill="#e8501e" text-anchor="middle" >90</text>
<text x="853.9" y="196.1" font-size="11" fill="#e8501e" text-anchor="middle" >85</text>
<text x="853.9" y="211.3" font-size="11" fill="#e8501e" text-anchor="middle" >80</text>
<text x="853.9" y="225.8" font-size="11" fill="#e8501e" text-anchor="middle" >75</text>
<text x="845" y="441.5" font-size="11" fill="#ff8000" text-anchor="start" >100</text>
<text x="845" y="461.5" font-size="11" fill="#ff8000" text-anchor="start" >20</text>
<text x="845" y="481" font-size="11" fill="#ff8000" text-anchor="start" >5</text>
<text x="845" y="501" font-size="11" fill="#ff8000" text-anchor="start" >1</text>
<text x="845" y="520.4" font-size="11" fill="#ff8000" text-anchor="start" >0</text>
<text x="845" y="530.2" font-size="11" fill="#ff8000" text-anchor="start" >1</text>
<text x="845" y="549.5" font-size="11" fill="#ff8000" text-anchor="start" >0.75</text>
<text x="845" y="568.7" font-size="11" fill="#ff8000" text-anchor="start" >0.5</text>
<text x="845" y="588.4" font-size="11" fill="#ff8000" text-anchor="start" >0.25</text>
<text x="845" y="608.4" font-size="11" fill="#ff8000" text-anchor="start" >0</text>
<text transform="translate(293 96) rotate(-90)" font-size="12.3" fill="#00009a" text-anchor="middle">temperatura</text>
<text transform="translate(306.5 96) rotate(-90)" font-size="12.3" fill="#00009a" text-anchor="middle">(°C)</text>
<text transform="translate(293 185.5) rotate(-90)" font-size="12.3" fill="#00009a" text-anchor="middle">opad</text>
<text transform="translate(306.5 185.5) rotate(-90)" font-size="12.3" fill="#00009a" text-anchor="middle">(mm/h, kg/m²/h)</text>
<text transform="translate(293 271) rotate(-90)" font-size="12.3" fill="#00009a" text-anchor="middle">ciśnienie</text>
<text transform="translate(306.5 271) rotate(-90)" font-size="12.3" fill="#00009a" text-anchor="middle">(hPa)</text>
<text transform="translate(293 358) rotate(-90)" font-size="12.3" fill="#00009a" text-anchor="middle">wiatr</text>
<text transform="translate(306.5 358) rotate(-90)" font-size="12.3" fill="#00009a" text-anchor="middle">(m/s)</text>
<text transform="translate(294 473.6) rotate(-90)" font-size="12.3" fill="#00009a" text-anchor="middle">pion. rozciągł. chm.</text>
<text transform="translate(307.5 474) rotate(-90)" font-size="12.3" fill="#00009a" text-anchor="middle">(km)</text>
<text transform="translate(294 572) rotate(-90)" font-size="12.3" fill="#00009a" text-anchor="middle">zachmurzenie</text>
<text transform="translate(307.5 568) rotate(-90)" font-size="12.3" fill="#00009a" text-anchor="middle">(oktanty)</text>
<text transform="translate(892.5 96) rotate(-90)" font-size="12.3" fill="#00009a" text-anchor="middle">(°C)</text>
<text transform="translate(905.6 96) rotate(-90)" font-size="12.3" fill="#00009a" text-anchor="middle">temperatura</text>
<text transform="translate(892.5 184) rotate(-90)" font-size="12.3" fill="#00009a" text-anchor="middle">(%)</text>
<text transform="translate(905.6 184) rotate(-90)" font-size="12.3" fill="#00009a" text-anchor="middle">wilgotność wzgl.</text>
<text transform="translate(892.5 273.5) rotate(-90)" font-size="12.3" fill="#00009a" text-anchor="middle">(mm Hg)</text>
<text transform="translate(905.6 273) rotate(-90)" font-size="12.3" fill="#00009a" text-anchor="middle">ciśnienie</text>
<text transform="translate(892.5 361) rotate(-90)" font-size="12.3" fill="#00009a" text-anchor="middle">(km/h)</text>
<text transform="translate(905.6 359.5) rotate(-90)" font-size="12.3" fill="#00009a" text-anchor="middle">wiatr</text>
<text transform="translate(892.5 474) rotate(-90)" font-size="12.3" fill="#00009a" text-anchor="middle">(km)</text>
<text transform="translate(905.6 475.5) rotate(-90)" font-size="12.3" fill="#00009a" text-anchor="middle">widzialność</text>
<text transform="translate(892.5 562.7) rotate(-90)" font-size="12.3" fill="#00009a" text-anchor="middle">(frakcja)</text>
<text transform="translate(905.6 565.5) rotate(-90)" font-size="12.3" fill="#00009a" text-anchor="middle">mgła</text>
<text x="298.6" y="411" font-size="12" fill="#00009a" text-anchor="middle" >N</text>
<text x="288.5" y="419.3" font-size="12" fill="#00009a" text-anchor="middle" >W</text>
<text x="305" y="419.3" font-size="12" fill="#00009a" text-anchor="middle" >E</text>
<text x="298" y="427.3" font-size="12" fill="#00009a" text-anchor="middle" >S</text>
<text x="898" y="412.2" font-size="12" fill="#00009a" text-anchor="middle" >N</text>
<text x="888.3" y="420.2" font-size="12" fill="#00009a" text-anchor="middle" >W</text>
<text x="903.7" y="420.2" font-size="12" fill="#00009a" text-anchor="middle" >E</text>
<text x="896.7" y="428.1" font-size="12" fill="#00009a" text-anchor="middle" >S</text>
<rect x="5" y="0" width="1.6" height="1.2" fill="#000"/>
</svg>
</body></html>
